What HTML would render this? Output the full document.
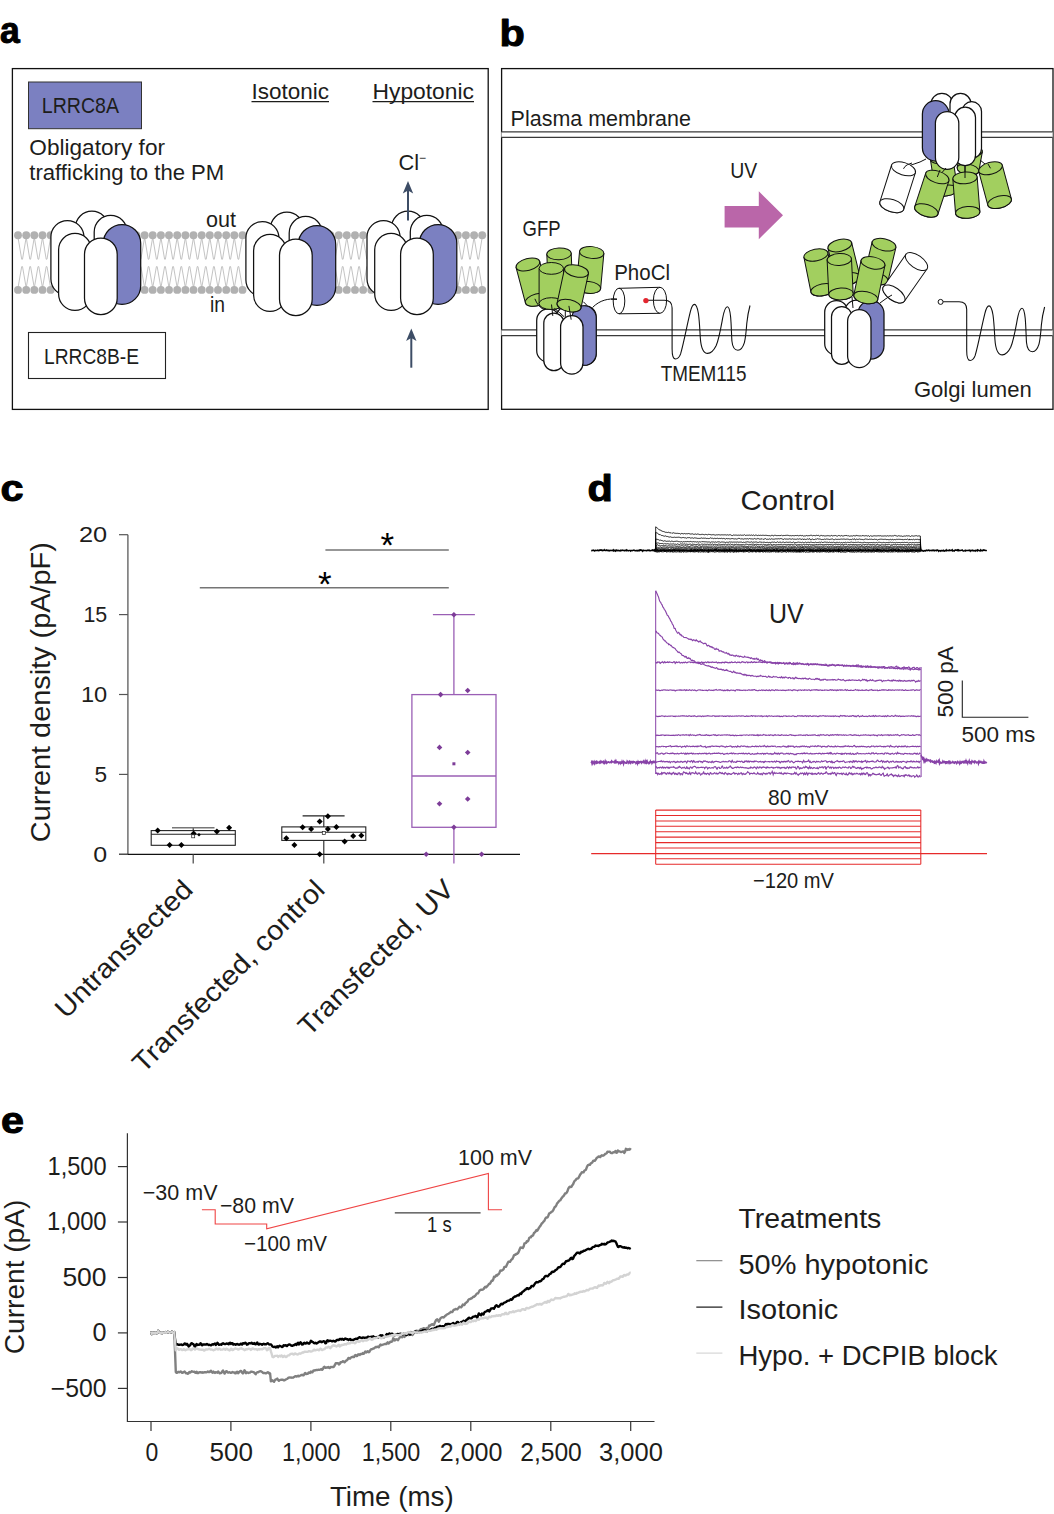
<!DOCTYPE html>
<html lang="en"><head><meta charset="utf-8"><title>Figure</title>
<style>
html,body{margin:0;padding:0;background:#fff;}
svg{display:block;}
text{font-family:"Liberation Sans",sans-serif;}
</style></head><body>
<svg width="1054" height="1514" viewBox="0 0 1054 1514">
<rect width="1054" height="1514" fill="#fff"/>
<text transform="translate(0.0 43.2) scale(0.96 1)" font-size="37" font-weight="bold" fill="#000" stroke="#000" stroke-width="1.0" stroke-linejoin="round">a</text>
<text transform="translate(499.6 46.0) scale(1.12 1)" font-size="37" font-weight="bold" fill="#000" stroke="#000" stroke-width="1.0" stroke-linejoin="round">b</text>
<text transform="translate(0.6 500.7) scale(1.12 1)" font-size="37" font-weight="bold" fill="#000" stroke="#000" stroke-width="1.0" stroke-linejoin="round">c</text>
<text transform="translate(587.6 500.8) scale(1.12 1)" font-size="37" font-weight="bold" fill="#000" stroke="#000" stroke-width="1.0" stroke-linejoin="round">d</text>
<text transform="translate(1.0 1133.1) scale(1.12 1)" font-size="37" font-weight="bold" fill="#000" stroke="#000" stroke-width="1.0" stroke-linejoin="round">e</text>
<g id="panelA">
<rect x="12.4" y="68.6" width="475.8" height="340.8" fill="#fff" stroke="#111" stroke-width="1.3"/>
<polyline points="18.0,237.3 21.7,259.2 22.5,259.2 26.2,237.3 29.8,259.2 30.6,259.2 34.3,237.3 38.0,259.2 38.8,259.2 42.5,237.3 46.2,259.2 47.0,259.2 50.6,237.3" fill="none" stroke="#bcbcbc" stroke-width="0.9"/>
<polyline points="18.0,287.9 21.7,266.6 22.5,266.6 26.2,287.9 29.8,266.6 30.6,266.6 34.3,287.9 38.0,266.6 38.8,266.6 42.5,287.9 46.2,266.6 47.0,266.6 50.6,287.9" fill="none" stroke="#bcbcbc" stroke-width="0.9"/>
<circle cx="18.0" cy="235.3" r="3.95" fill="#b1b1b1"/>
<circle cx="18.0" cy="289.9" r="3.95" fill="#b1b1b1"/>
<circle cx="26.2" cy="235.3" r="3.95" fill="#b1b1b1"/>
<circle cx="26.2" cy="289.9" r="3.95" fill="#b1b1b1"/>
<circle cx="34.3" cy="235.3" r="3.95" fill="#b1b1b1"/>
<circle cx="34.3" cy="289.9" r="3.95" fill="#b1b1b1"/>
<circle cx="42.5" cy="235.3" r="3.95" fill="#b1b1b1"/>
<circle cx="42.5" cy="289.9" r="3.95" fill="#b1b1b1"/>
<circle cx="50.6" cy="235.3" r="3.95" fill="#b1b1b1"/>
<circle cx="50.6" cy="289.9" r="3.95" fill="#b1b1b1"/>
<polyline points="136.4,237.3 140.1,259.2 140.9,259.2 144.6,237.3 148.2,259.2 149.0,259.2 152.7,237.3 156.4,259.2 157.2,259.2 160.9,237.3 164.6,259.2 165.4,259.2 169.0,237.3 172.7,259.2 173.5,259.2 177.2,237.3 180.9,259.2 181.7,259.2 185.4,237.3 189.0,259.2 189.8,259.2 193.5,237.3 197.2,259.2 198.0,259.2 201.7,237.3 205.4,259.2 206.2,259.2 209.8,237.3 213.5,259.2 214.3,259.2 218.0,237.3 221.7,259.2 222.5,259.2 226.2,237.3 229.8,259.2 230.6,259.2 234.3,237.3 238.0,259.2 238.8,259.2 242.5,237.3" fill="none" stroke="#bcbcbc" stroke-width="0.9"/>
<polyline points="136.4,287.9 140.1,266.6 140.9,266.6 144.6,287.9 148.2,266.6 149.0,266.6 152.7,287.9 156.4,266.6 157.2,266.6 160.9,287.9 164.6,266.6 165.4,266.6 169.0,287.9 172.7,266.6 173.5,266.6 177.2,287.9 180.9,266.6 181.7,266.6 185.4,287.9 189.0,266.6 189.8,266.6 193.5,287.9 197.2,266.6 198.0,266.6 201.7,287.9 205.4,266.6 206.2,266.6 209.8,287.9 213.5,266.6 214.3,266.6 218.0,287.9 221.7,266.6 222.5,266.6 226.2,287.9 229.8,266.6 230.6,266.6 234.3,287.9 238.0,266.6 238.8,266.6 242.5,287.9" fill="none" stroke="#bcbcbc" stroke-width="0.9"/>
<circle cx="136.4" cy="235.3" r="3.95" fill="#b1b1b1"/>
<circle cx="136.4" cy="289.9" r="3.95" fill="#b1b1b1"/>
<circle cx="144.6" cy="235.3" r="3.95" fill="#b1b1b1"/>
<circle cx="144.6" cy="289.9" r="3.95" fill="#b1b1b1"/>
<circle cx="152.7" cy="235.3" r="3.95" fill="#b1b1b1"/>
<circle cx="152.7" cy="289.9" r="3.95" fill="#b1b1b1"/>
<circle cx="160.9" cy="235.3" r="3.95" fill="#b1b1b1"/>
<circle cx="160.9" cy="289.9" r="3.95" fill="#b1b1b1"/>
<circle cx="169.0" cy="235.3" r="3.95" fill="#b1b1b1"/>
<circle cx="169.0" cy="289.9" r="3.95" fill="#b1b1b1"/>
<circle cx="177.2" cy="235.3" r="3.95" fill="#b1b1b1"/>
<circle cx="177.2" cy="289.9" r="3.95" fill="#b1b1b1"/>
<circle cx="185.4" cy="235.3" r="3.95" fill="#b1b1b1"/>
<circle cx="185.4" cy="289.9" r="3.95" fill="#b1b1b1"/>
<circle cx="193.5" cy="235.3" r="3.95" fill="#b1b1b1"/>
<circle cx="193.5" cy="289.9" r="3.95" fill="#b1b1b1"/>
<circle cx="201.7" cy="235.3" r="3.95" fill="#b1b1b1"/>
<circle cx="201.7" cy="289.9" r="3.95" fill="#b1b1b1"/>
<circle cx="209.8" cy="235.3" r="3.95" fill="#b1b1b1"/>
<circle cx="209.8" cy="289.9" r="3.95" fill="#b1b1b1"/>
<circle cx="218.0" cy="235.3" r="3.95" fill="#b1b1b1"/>
<circle cx="218.0" cy="289.9" r="3.95" fill="#b1b1b1"/>
<circle cx="226.2" cy="235.3" r="3.95" fill="#b1b1b1"/>
<circle cx="226.2" cy="289.9" r="3.95" fill="#b1b1b1"/>
<circle cx="234.3" cy="235.3" r="3.95" fill="#b1b1b1"/>
<circle cx="234.3" cy="289.9" r="3.95" fill="#b1b1b1"/>
<circle cx="242.5" cy="235.3" r="3.95" fill="#b1b1b1"/>
<circle cx="242.5" cy="289.9" r="3.95" fill="#b1b1b1"/>
<polyline points="330.5,237.3 334.2,259.2 335.0,259.2 338.7,237.3 342.3,259.2 343.1,259.2 346.8,237.3 350.5,259.2 351.3,259.2 355.0,237.3 358.7,259.2 359.5,259.2 363.1,237.3 366.8,259.2 367.6,259.2 371.3,237.3" fill="none" stroke="#bcbcbc" stroke-width="0.9"/>
<polyline points="330.5,287.9 334.2,266.6 335.0,266.6 338.7,287.9 342.3,266.6 343.1,266.6 346.8,287.9 350.5,266.6 351.3,266.6 355.0,287.9 358.7,266.6 359.5,266.6 363.1,287.9 366.8,266.6 367.6,266.6 371.3,287.9" fill="none" stroke="#bcbcbc" stroke-width="0.9"/>
<circle cx="330.5" cy="235.3" r="3.95" fill="#b1b1b1"/>
<circle cx="330.5" cy="289.9" r="3.95" fill="#b1b1b1"/>
<circle cx="338.7" cy="235.3" r="3.95" fill="#b1b1b1"/>
<circle cx="338.7" cy="289.9" r="3.95" fill="#b1b1b1"/>
<circle cx="346.8" cy="235.3" r="3.95" fill="#b1b1b1"/>
<circle cx="346.8" cy="289.9" r="3.95" fill="#b1b1b1"/>
<circle cx="355.0" cy="235.3" r="3.95" fill="#b1b1b1"/>
<circle cx="355.0" cy="289.9" r="3.95" fill="#b1b1b1"/>
<circle cx="363.1" cy="235.3" r="3.95" fill="#b1b1b1"/>
<circle cx="363.1" cy="289.9" r="3.95" fill="#b1b1b1"/>
<circle cx="371.3" cy="235.3" r="3.95" fill="#b1b1b1"/>
<circle cx="371.3" cy="289.9" r="3.95" fill="#b1b1b1"/>
<polyline points="449.6,237.3 453.3,259.2 454.1,259.2 457.8,237.3 461.4,259.2 462.2,259.2 465.9,237.3 469.6,259.2 470.4,259.2 474.1,237.3 477.8,259.2 478.6,259.2 482.2,237.3" fill="none" stroke="#bcbcbc" stroke-width="0.9"/>
<polyline points="449.6,287.9 453.3,266.6 454.1,266.6 457.8,287.9 461.4,266.6 462.2,266.6 465.9,287.9 469.6,266.6 470.4,266.6 474.1,287.9 477.8,266.6 478.6,266.6 482.2,287.9" fill="none" stroke="#bcbcbc" stroke-width="0.9"/>
<circle cx="449.6" cy="235.3" r="3.95" fill="#b1b1b1"/>
<circle cx="449.6" cy="289.9" r="3.95" fill="#b1b1b1"/>
<circle cx="457.8" cy="235.3" r="3.95" fill="#b1b1b1"/>
<circle cx="457.8" cy="289.9" r="3.95" fill="#b1b1b1"/>
<circle cx="465.9" cy="235.3" r="3.95" fill="#b1b1b1"/>
<circle cx="465.9" cy="289.9" r="3.95" fill="#b1b1b1"/>
<circle cx="474.1" cy="235.3" r="3.95" fill="#b1b1b1"/>
<circle cx="474.1" cy="289.9" r="3.95" fill="#b1b1b1"/>
<circle cx="482.2" cy="235.3" r="3.95" fill="#b1b1b1"/>
<circle cx="482.2" cy="289.9" r="3.95" fill="#b1b1b1"/>
<rect x="75.4" y="211.2" width="33.0" height="78.8" rx="16.5" ry="16.5" fill="#fff" stroke="#111" stroke-width="1.25"/>
<rect x="50.9" y="220.6" width="33.0" height="74.9" rx="16.5" ry="16.5" fill="#fff" stroke="#111" stroke-width="1.25"/>
<rect x="94.2" y="215.4" width="33.0" height="79.6" rx="16.5" ry="16.5" fill="#fff" stroke="#111" stroke-width="1.25"/>
<rect x="103.3" y="224.5" width="37.4" height="79.9" rx="18.7" ry="18.7" fill="#7b80c1" stroke="#111" stroke-width="1.25"/>
<rect x="58.6" y="233.4" width="32.8" height="77.0" rx="16.4" ry="16.4" fill="#fff" stroke="#111" stroke-width="1.25"/>
<rect x="84.5" y="238.0" width="32.7" height="76.5" rx="16.3" ry="16.3" fill="#fff" stroke="#111" stroke-width="1.25"/>
<rect x="270.4" y="212.2" width="33.0" height="78.8" rx="16.5" ry="16.5" fill="#fff" stroke="#111" stroke-width="1.25"/>
<rect x="245.9" y="221.6" width="33.0" height="74.9" rx="16.5" ry="16.5" fill="#fff" stroke="#111" stroke-width="1.25"/>
<rect x="289.2" y="216.4" width="33.0" height="79.6" rx="16.5" ry="16.5" fill="#fff" stroke="#111" stroke-width="1.25"/>
<rect x="298.3" y="225.5" width="37.4" height="79.9" rx="18.7" ry="18.7" fill="#7b80c1" stroke="#111" stroke-width="1.25"/>
<rect x="253.6" y="234.4" width="32.8" height="77.0" rx="16.4" ry="16.4" fill="#fff" stroke="#111" stroke-width="1.25"/>
<rect x="279.5" y="239.0" width="32.7" height="76.5" rx="16.3" ry="16.3" fill="#fff" stroke="#111" stroke-width="1.25"/>
<rect x="391.5" y="211.2" width="33.0" height="78.8" rx="16.5" ry="16.5" fill="#fff" stroke="#111" stroke-width="1.25"/>
<rect x="367.0" y="220.6" width="33.0" height="74.9" rx="16.5" ry="16.5" fill="#fff" stroke="#111" stroke-width="1.25"/>
<rect x="410.3" y="215.4" width="33.0" height="79.6" rx="16.5" ry="16.5" fill="#fff" stroke="#111" stroke-width="1.25"/>
<rect x="419.4" y="224.5" width="37.4" height="79.9" rx="18.7" ry="18.7" fill="#7b80c1" stroke="#111" stroke-width="1.25"/>
<rect x="374.7" y="233.4" width="32.8" height="77.0" rx="16.4" ry="16.4" fill="#fff" stroke="#111" stroke-width="1.25"/>
<rect x="400.6" y="238.0" width="32.7" height="76.5" rx="16.3" ry="16.3" fill="#fff" stroke="#111" stroke-width="1.25"/>
<rect x="28.5" y="82" width="113" height="46.7" fill="#7b80c1" stroke="#333" stroke-width="1"/>
<text x="41.8" y="113.3" font-size="21.5" textLength="77.2" lengthAdjust="spacingAndGlyphs" fill="#1d1d1b" >LRRC8A</text>
<text x="29.3" y="154.6" font-size="21.8" textLength="135.7" lengthAdjust="spacingAndGlyphs" fill="#1d1d1b" >Obligatory for</text>
<text x="29.3" y="180.0" font-size="21.8" textLength="195.0" lengthAdjust="spacingAndGlyphs" fill="#1d1d1b" >trafficking to the PM</text>
<text x="251.5" y="98.5" font-size="21.8" textLength="77.5" lengthAdjust="spacingAndGlyphs" fill="#1d1d1b" >Isotonic</text>
<line x1="251.5" y1="101.6" x2="329" y2="101.6" stroke="#1d1d1b" stroke-width="1.2"/>
<text x="372.5" y="98.5" font-size="21.8" textLength="101.5" lengthAdjust="spacingAndGlyphs" fill="#1d1d1b" >Hypotonic</text>
<line x1="372.5" y1="101.6" x2="474" y2="101.6" stroke="#1d1d1b" stroke-width="1.2"/>
<text x="398.5" y="170" font-size="21.8" fill="#1d1d1b">Cl<tspan font-size="12" dy="-8">−</tspan></text>
<text x="206.0" y="226.5" font-size="21.8" textLength="30.0" lengthAdjust="spacingAndGlyphs" fill="#1d1d1b" >out</text>
<text x="210.0" y="312.2" font-size="21.8" textLength="15.0" lengthAdjust="spacingAndGlyphs" fill="#1d1d1b" >in</text>
<rect x="28.5" y="332.5" width="137" height="46" fill="#fff" stroke="#222" stroke-width="1.1"/>
<text x="44.0" y="363.5" font-size="21.8" textLength="95.0" lengthAdjust="spacingAndGlyphs" fill="#1d1d1b" >LRRC8B-E</text>
<line x1="408.0" y1="188" x2="408.0" y2="220.5" stroke="#3d4d66" stroke-width="2"/>
<path d="M408.0 181 L413.2 193.5 L408.0 190.5 L402.8 193.5 Z" fill="#3d4d66"/>
<line x1="411.3" y1="335.5" x2="411.3" y2="367.7" stroke="#3d4d66" stroke-width="2"/>
<path d="M411.3 328.5 L416.5 341.0 L411.3 338.0 L406.1 341.0 Z" fill="#3d4d66"/>
</g>
<g id="panelB">
<rect x="501.6" y="68.6" width="551.4" height="340.7" fill="#fff" stroke="#111" stroke-width="1.3"/>
<rect x="501.4" y="131.9" width="551.2" height="5.400000000000006" fill="#fff" stroke="none"/>
<line x1="501.4" y1="131.9" x2="1052.6" y2="131.9" stroke="#3a3a3a" stroke-width="1.35"/>
<line x1="501.4" y1="137.3" x2="1052.6" y2="137.3" stroke="#3a3a3a" stroke-width="1.35"/>
<rect x="501.4" y="329.8" width="551.2" height="5.800000000000011" fill="#fff" stroke="none"/>
<line x1="501.4" y1="329.8" x2="1052.6" y2="329.8" stroke="#3a3a3a" stroke-width="1.35"/>
<line x1="501.4" y1="335.6" x2="1052.6" y2="335.6" stroke="#3a3a3a" stroke-width="1.35"/>
<text x="510.6" y="125.7" font-size="21.8" textLength="180.3" lengthAdjust="spacingAndGlyphs" fill="#1d1d1b" >Plasma membrane</text>
<text x="730.3" y="178.0" font-size="21.8" textLength="27.0" lengthAdjust="spacingAndGlyphs" fill="#1d1d1b" >UV</text>
<text x="522.6" y="236.0" font-size="21.8" textLength="38.0" lengthAdjust="spacingAndGlyphs" fill="#1d1d1b" >GFP</text>
<text x="614.2" y="280.4" font-size="21.8" textLength="55.8" lengthAdjust="spacingAndGlyphs" fill="#1d1d1b" >PhoCl</text>
<text x="660.7" y="380.8" font-size="21.8" textLength="85.8" lengthAdjust="spacingAndGlyphs" fill="#1d1d1b" >TMEM115</text>
<text x="913.9" y="396.8" font-size="21.8" textLength="117.8" lengthAdjust="spacingAndGlyphs" fill="#1d1d1b" >Golgi lumen</text>
<path d="M724.6 205.9 H758.8 V191.3 L783 215.2 L758.8 239.3 V227.5 H724.6 Z" fill="#ba66a9"/>
<g transform="translate(559.0 253.8) rotate(-2.5)" fill="#a2cf5f" stroke="#111" stroke-width="1.0"><path d="M-12.2 0 L-12.2 34.2 A12.2 5.9 0 0 0 12.2 34.2 L12.2 0 Z"/><ellipse cx="0" cy="34.2" rx="12.2" ry="5.9"/><ellipse cx="0" cy="0" rx="12.2" ry="5.9"/></g>
<g transform="translate(591.7 252.5) rotate(5.2)" fill="#a2cf5f" stroke="#111" stroke-width="1.0"><path d="M-12.2 0 L-12.2 35.1 A12.2 5.9 0 0 0 12.2 35.1 L12.2 0 Z"/><ellipse cx="0" cy="35.1" rx="12.2" ry="5.9"/><ellipse cx="0" cy="0" rx="12.2" ry="5.9"/></g>
<g transform="translate(527.9 264.5) rotate(-14.8)" fill="#a2cf5f" stroke="#111" stroke-width="1.0"><path d="M-12.2 0 L-12.2 36.5 A12.2 5.9 0 0 0 12.2 36.5 L12.2 0 Z"/><ellipse cx="0" cy="36.5" rx="12.2" ry="5.9"/><ellipse cx="0" cy="0" rx="12.2" ry="5.9"/></g>
<rect x="536.7" y="308.8" width="23.3" height="53.2" rx="11.6" ry="11.6" fill="#fff" stroke="#111" stroke-width="1.25"/>
<rect x="556.0" y="306.0" width="24.0" height="54.0" rx="12.0" ry="12.0" fill="#fff" stroke="#111" stroke-width="1.25"/>
<rect x="574.0" y="305.8" width="22.2" height="59.2" rx="11.1" ry="11.1" fill="#7b80c1" stroke="#111" stroke-width="1.25"/>
<rect x="572" y="305.8" width="24.2" height="59.5" rx="12" fill="#7b80c1" stroke="#111" stroke-width="1.1"/>
<rect x="543.8" y="313.0" width="20.2" height="57.7" rx="10.1" ry="10.1" fill="#fff" stroke="#111" stroke-width="1.25"/>
<rect x="560.6" y="315.7" width="22.4" height="58.5" rx="11.2" ry="11.2" fill="#fff" stroke="#111" stroke-width="1.25"/>
<g transform="translate(551.3 268.4) rotate(0.0)" fill="#a2cf5f" stroke="#111" stroke-width="1.0"><path d="M-12.2 0 L-12.2 35.2 A12.2 5.9 0 0 0 12.2 35.2 L12.2 0 Z"/><ellipse cx="0" cy="35.2" rx="12.2" ry="5.9"/><ellipse cx="0" cy="0" rx="12.2" ry="5.9"/></g>
<g transform="translate(576.5 271.0) rotate(12.2)" fill="#a2cf5f" stroke="#111" stroke-width="1.0"><path d="M-12.2 0 L-12.2 35.4 A12.2 5.9 0 0 0 12.2 35.4 L12.2 0 Z"/><ellipse cx="0" cy="35.4" rx="12.2" ry="5.9"/><ellipse cx="0" cy="0" rx="12.2" ry="5.9"/></g>
<path d="M534.9 298.8 C536.5 303 539.5 308 544.4 309.7 M551.5 304.5 L552.8 315.9 M568.9 305.9 L571.2 319.7 M554.4 308.3 C558 311 561 314 564.3 316.9 M565.3 310.2 V316.9 M583.3 301.7 L587.1 305.5" fill="none" stroke="#111" stroke-width="1"/>
<path d="M592.5 307.5 C600 300 608 298.5 617 299" fill="none" stroke="#111" stroke-width="1"/>
<g fill="#fff" stroke="#111" stroke-width="1"><path d="M619 288.3 L660 287.3 M619 313.8 L660 313.3" fill="none"/><ellipse cx="660" cy="300.3" rx="6.6" ry="13"/><ellipse cx="619" cy="301" rx="5.8" ry="12.8" fill="none"/></g>
<path d="M611 299.2 L617 299.4" stroke="#111" stroke-width="1"/>
<path d="M646 300.3 L664.5 300.3 C669.5 300.3 672.1 303 672.1 308 L672.1 349 C672.1 356 673.5 359 675.5 359 C678 359 679.5 357 680.6 353.9 C684 342 687 325 690.3 311.9 C691.5 307 693 304.4 694.4 304.4 C696 304.4 697.5 308 698.4 313.5 C699.5 321 699.8 330 700.3 337.7 C701 348 704 353.4 707.7 353.4 C711 353.4 714 350 716.1 345.8 C719 339 721 327 722.6 318.4 C724 311 725.5 306.8 727.4 306.8 C729 306.8 730 311 730.6 316.8 C731.3 324 731.4 333 731.9 341 C732.5 347 735 350.2 737.9 350.2 C740.5 350.2 743 347 744.4 342.6 C745.8 337 746.3 330 746.8 323.2 C747.5 316 748.8 310 750 305.5" fill="none" stroke="#111" stroke-width="1.1"/>
<circle cx="645.9" cy="300.6" r="2.7" fill="#e3262f"/>
<g transform="translate(839.8 245.5) rotate(-13.8)" fill="#a2cf5f" stroke="#111" stroke-width="1.0"><path d="M-12.2 0 L-12.2 34.5 A12.2 5.9 0 0 0 12.2 34.5 L12.2 0 Z"/><ellipse cx="0" cy="34.5" rx="12.2" ry="5.9"/><ellipse cx="0" cy="0" rx="12.2" ry="5.9"/></g>
<g transform="translate(884.0 244.7) rotate(13.3)" fill="#a2cf5f" stroke="#111" stroke-width="1.0"><path d="M-12.2 0 L-12.2 34.7 A12.2 5.9 0 0 0 12.2 34.7 L12.2 0 Z"/><ellipse cx="0" cy="34.7" rx="12.2" ry="5.9"/><ellipse cx="0" cy="0" rx="12.2" ry="5.9"/></g>
<g transform="translate(815.9 255.0) rotate(-11.4)" fill="#a2cf5f" stroke="#111" stroke-width="1.0"><path d="M-12.2 0 L-12.2 35.4 A12.2 5.9 0 0 0 12.2 35.4 L12.2 0 Z"/><ellipse cx="0" cy="35.4" rx="12.2" ry="5.9"/><ellipse cx="0" cy="0" rx="12.2" ry="5.9"/></g>
<g transform="translate(916.5 261.6) rotate(34.9)" fill="#fff" stroke="#111" stroke-width="1.0"><path d="M-12.8 0 L-12.8 39.5 A12.8 6.4 0 0 0 12.8 39.5 L12.8 0 Z"/><ellipse cx="0" cy="39.5" rx="12.8" ry="6.4"/><ellipse cx="0" cy="0" rx="12.8" ry="6.4"/></g>
<rect x="824.7" y="300.6" width="23.3" height="54.4" rx="11.6" ry="11.6" fill="#fff" stroke="#111" stroke-width="1.25"/>
<rect x="845.0" y="300.0" width="23.0" height="52.0" rx="11.5" ry="11.5" fill="#fff" stroke="#111" stroke-width="1.25"/>
<rect x="858.0" y="300.6" width="26.0" height="58.4" rx="13.0" ry="13.0" fill="#7b80c1" stroke="#111" stroke-width="1.25"/>
<rect x="831.5" y="306.6" width="20.5" height="57.7" rx="10.2" ry="10.2" fill="#fff" stroke="#111" stroke-width="1.25"/>
<rect x="847.6" y="309.7" width="23.4" height="57.9" rx="11.7" ry="11.7" fill="#fff" stroke="#111" stroke-width="1.25"/>
<path d="M853 308 L852 297 M880 303 C884 300 888 297 892 295" fill="none" stroke="#111" stroke-width="1"/>
<g transform="translate(839.3 259.5) rotate(-2.8)" fill="#a2cf5f" stroke="#111" stroke-width="1.0"><path d="M-12.2 0 L-12.2 34.5 A12.2 5.9 0 0 0 12.2 34.5 L12.2 0 Z"/><ellipse cx="0" cy="34.5" rx="12.2" ry="5.9"/><ellipse cx="0" cy="0" rx="12.2" ry="5.9"/></g>
<g transform="translate(873.0 262.9) rotate(11.8)" fill="#a2cf5f" stroke="#111" stroke-width="1.0"><path d="M-12.2 0 L-12.2 35.3 A12.2 5.9 0 0 0 12.2 35.3 L12.2 0 Z"/><ellipse cx="0" cy="35.3" rx="12.2" ry="5.9"/><ellipse cx="0" cy="0" rx="12.2" ry="5.9"/></g>
<path transform="translate(294.6 1.5)" d="M648.5 300.3 L664.5 300.3 C669.5 300.3 672.1 303 672.1 308 L672.1 349 C672.1 356 673.5 359 675.5 359 C678 359 679.5 357 680.6 353.9 C684 342 687 325 690.3 311.9 C691.5 307 693 304.4 694.4 304.4 C696 304.4 697.5 308 698.4 313.5 C699.5 321 699.8 330 700.3 337.7 C701 348 704 353.4 707.7 353.4 C711 353.4 714 350 716.1 345.8 C719 339 721 327 722.6 318.4 C724 311 725.5 306.8 727.4 306.8 C729 306.8 730 311 730.6 316.8 C731.3 324 731.4 333 731.9 341 C732.5 347 735 350.2 737.9 350.2 C740.5 350.2 743 347 744.4 342.6 C745.8 337 746.3 330 746.8 323.2 C747.5 316 748.8 310 750 305.5" fill="none" stroke="#111" stroke-width="1.1"/>
<circle cx="940.6" cy="301.9" r="2.5" fill="#fff" stroke="#111" stroke-width="1"/>
<g transform="translate(941.5 158.0) rotate(-8.7)" fill="#a2cf5f" stroke="#111" stroke-width="1.0"><path d="M-11.2 0 L-11.2 32.9 A11.2 5.4 0 0 0 11.2 32.9 L11.2 0 Z"/><ellipse cx="0" cy="32.9" rx="11.2" ry="5.4"/><ellipse cx="0" cy="0" rx="11.2" ry="5.4"/></g>
<g transform="translate(971.5 150.0) rotate(10.2)" fill="#a2cf5f" stroke="#111" stroke-width="1.0"><path d="M-11 0 L-11 19.8 A11 5.3 0 0 0 11 19.8 L11 0 Z"/><ellipse cx="0" cy="19.8" rx="11" ry="5.3"/><ellipse cx="0" cy="0" rx="11" ry="5.3"/></g>
<rect x="930.8" y="93.4" width="22.2" height="56.6" rx="11.1" ry="11.1" fill="#fff" stroke="#111" stroke-width="1.25"/>
<rect x="950.0" y="93.4" width="21.0" height="56.6" rx="10.5" ry="10.5" fill="#fff" stroke="#111" stroke-width="1.25"/>
<rect x="962.0" y="101.7" width="19.5" height="56.7" rx="9.8" ry="9.8" fill="#fff" stroke="#111" stroke-width="1.25"/>
<rect x="954.7" y="107.2" width="20.8" height="58.5" rx="10.4" ry="10.4" fill="#fff" stroke="#111" stroke-width="1.25"/>
<rect x="922.4" y="100.7" width="26.6" height="60.3" rx="13.3" ry="13.3" fill="#7b80c1" stroke="#111" stroke-width="1.25"/>
<rect x="935.4" y="111.6" width="23.4" height="57.7" rx="11.7" ry="11.7" fill="#fff" stroke="#111" stroke-width="1.25"/>
<path d="M926 159 C918 164 910 164 903 169 M946 168 L938 177 M965 166 L965 178 M980 160 L990 168" fill="none" stroke="#111" stroke-width="1"/>
<g transform="translate(903.5 168.8) rotate(17.6)" fill="#fff" stroke="#111" stroke-width="1.0"><path d="M-12.5 0 L-12.5 38.7 A12.5 6.2 0 0 0 12.5 38.7 L12.5 0 Z"/><ellipse cx="0" cy="38.7" rx="12.5" ry="6.2"/><ellipse cx="0" cy="0" rx="12.5" ry="6.2"/></g>
<g transform="translate(937.3 177.0) rotate(18.2)" fill="#a2cf5f" stroke="#111" stroke-width="1.0"><path d="M-12.2 0 L-12.2 35.2 A12.2 5.9 0 0 0 12.2 35.2 L12.2 0 Z"/><ellipse cx="0" cy="35.2" rx="12.2" ry="5.9"/><ellipse cx="0" cy="0" rx="12.2" ry="5.9"/></g>
<g transform="translate(965.0 177.9) rotate(-4.5)" fill="#a2cf5f" stroke="#111" stroke-width="1.0"><path d="M-12.2 0 L-12.2 34.6 A12.2 5.9 0 0 0 12.2 34.6 L12.2 0 Z"/><ellipse cx="0" cy="34.6" rx="12.2" ry="5.9"/><ellipse cx="0" cy="0" rx="12.2" ry="5.9"/></g>
<g transform="translate(990.5 168.3) rotate(-15.1)" fill="#a2cf5f" stroke="#111" stroke-width="1.0"><path d="M-12.2 0 L-12.2 34.9 A12.2 5.9 0 0 0 12.2 34.9 L12.2 0 Z"/><ellipse cx="0" cy="34.9" rx="12.2" ry="5.9"/><ellipse cx="0" cy="0" rx="12.2" ry="5.9"/></g>
<path d="M903.5 168.8 C905 165 909 164 912 163 M937.3 177 L940 170 M965 178 L965 166 M990.5 168.3 L988 164" fill="none" stroke="#111" stroke-width="1"/>
</g>
<g id="panelC">
<path d="M127.9 534.7 V854.3" fill="none" stroke="#666" stroke-width="1.4"/>
<path d="M119 854.3 H520" fill="none" stroke="#111" stroke-width="1.3"/>
<line x1="119" y1="854.3" x2="127.9" y2="854.3" stroke="#555" stroke-width="1.2"/>
<text x="107.2" y="861.9" font-size="22.8" textLength="13.9" lengthAdjust="spacingAndGlyphs" text-anchor="end" fill="#1d1d1b" >0</text>
<line x1="119" y1="774.4" x2="127.9" y2="774.4" stroke="#555" stroke-width="1.2"/>
<text x="107.2" y="782.0" font-size="22.8" textLength="12.6" lengthAdjust="spacingAndGlyphs" text-anchor="end" fill="#1d1d1b" >5</text>
<line x1="119" y1="694.5" x2="127.9" y2="694.5" stroke="#555" stroke-width="1.2"/>
<text x="107.2" y="702.1" font-size="22.8" textLength="26.3" lengthAdjust="spacingAndGlyphs" text-anchor="end" fill="#1d1d1b" >10</text>
<line x1="119" y1="614.6" x2="127.9" y2="614.6" stroke="#555" stroke-width="1.2"/>
<text x="107.2" y="622.2" font-size="22.8" textLength="23.8" lengthAdjust="spacingAndGlyphs" text-anchor="end" fill="#1d1d1b" >15</text>
<line x1="119" y1="534.7" x2="127.9" y2="534.7" stroke="#555" stroke-width="1.2"/>
<text x="107.2" y="542.3" font-size="22.8" textLength="28.2" lengthAdjust="spacingAndGlyphs" text-anchor="end" fill="#1d1d1b" >20</text>
<line x1="193.2" y1="854.3" x2="193.2" y2="863.6" stroke="#444" stroke-width="1.2"/>
<line x1="323.8" y1="854.3" x2="323.8" y2="863.6" stroke="#444" stroke-width="1.2"/>
<text transform="translate(50.4 842.2) rotate(-90)" font-size="27.3" textLength="300.0" lengthAdjust="spacingAndGlyphs" fill="#1d1d1b" >Current density (pA/pF)</text>
<line x1="325.4" y1="549.9" x2="448.8" y2="549.9" stroke="#757575" stroke-width="1.5"/>
<line x1="199.8" y1="587.8" x2="448.8" y2="587.8" stroke="#757575" stroke-width="1.5"/>
<text x="387.3" y="557.4" font-size="35" text-anchor="middle" fill="#000" >*</text>
<text x="324.7" y="595.5" font-size="35" text-anchor="middle" fill="#000" >*</text>
<g fill="none" stroke="#222" stroke-width="1.1"><rect x="151.2" y="830.6" width="84.1" height="14.7" fill="#fff"/><line x1="151.2" y1="834.2" x2="235.3" y2="834.2"/><line x1="193.2" y1="827.7" x2="193.2" y2="830.6"/></g>
<line x1="172" y1="827.8" x2="214.5" y2="827.8" stroke="#777" stroke-width="1.6"/>
<path d="M157.7 827.6 L160.7 830.6 L157.7 833.6 L154.7 830.6 Z" fill="#000"/>
<path d="M169.6 841.9 L172.6 844.9 L169.6 847.9 L166.6 844.9 Z" fill="#000"/>
<path d="M181.4 841.9 L184.4 844.9 L181.4 847.9 L178.4 844.9 Z" fill="#000"/>
<path d="M193.6 830.4 L196.6 833.4 L193.6 836.4 L190.6 833.4 Z" fill="#000"/>
<path d="M216.9 828.4 L219.9 831.4 L216.9 834.4 L213.9 831.4 Z" fill="#000"/>
<path d="M229.1 824.7 L232.1 827.7 L229.1 830.7 L226.1 827.7 Z" fill="#000"/>
<path d="M199.0 832.9 L200.8 834.7 L199.0 836.5 L197.2 834.7 Z" fill="#000"/>
<rect x="191.7" y="834.8" width="3" height="3" fill="#fff" stroke="#222" stroke-width="0.7"/>
<g fill="none" stroke="#222" stroke-width="1.1"><path d="M323.8 815.9 V826.9 M323.8 840.4 V854.3 M302.6 815.9 H344.6"/><rect x="281.8" y="826.9" width="84" height="13.5" fill="#fff"/><line x1="281.8" y1="832.2" x2="365.8" y2="832.2"/></g>
<path d="M286.3 835.3 L289.3 838.3 L286.3 841.3 L283.3 838.3 Z" fill="#000"/>
<path d="M294.4 841.9 L297.4 844.9 L294.4 847.9 L291.4 844.9 Z" fill="#000"/>
<path d="M302.6 824.3 L305.6 827.3 L302.6 830.3 L299.6 827.3 Z" fill="#000"/>
<path d="M311.1 826.0 L314.1 829.0 L311.1 832.0 L308.1 829.0 Z" fill="#000"/>
<path d="M319.7 818.6 L322.7 821.6 L319.7 824.6 L316.7 821.6 Z" fill="#000"/>
<path d="M327.9 813.3 L330.9 816.3 L327.9 819.3 L324.9 816.3 Z" fill="#000"/>
<path d="M327.9 826.0 L330.9 829.0 L327.9 832.0 L324.9 829.0 Z" fill="#000"/>
<path d="M336.4 823.9 L339.4 826.9 L336.4 829.9 L333.4 826.9 Z" fill="#000"/>
<path d="M344.6 838.6 L347.6 841.6 L344.6 844.6 L341.6 841.6 Z" fill="#000"/>
<path d="M353.2 832.9 L356.2 835.9 L353.2 838.9 L350.2 835.9 Z" fill="#000"/>
<path d="M361.3 832.5 L364.3 835.5 L361.3 838.5 L358.3 835.5 Z" fill="#000"/>
<path d="M319.7 851.3 L322.7 854.3 L319.7 857.3 L316.7 854.3 Z" fill="#000"/>
<rect x="322.3" y="831.5" width="3" height="3" fill="#fff" stroke="#222" stroke-width="0.7"/>
<g fill="none" stroke="#9a5fb5" stroke-width="1.3"><path d="M453.9 614.7 V694.6 M453.9 827.3 V863.6 M432.9 614.7 H474.9"/><rect x="411.9" y="694.6" width="84.1" height="132.7" fill="#fff"/><line x1="411.9" y1="776" x2="496" y2="776"/></g>
<path d="M440.6 691.8 L443.4 694.6 L440.6 697.4 L437.8 694.6 Z" fill="#7d3c98"/>
<path d="M467.7 687.7 L470.5 690.5 L467.7 693.3 L464.9 690.5 Z" fill="#7d3c98"/>
<path d="M439.5 744.6 L442.3 747.4 L439.5 750.2 L436.7 747.4 Z" fill="#7d3c98"/>
<path d="M467.7 749.7 L470.5 752.5 L467.7 755.3 L464.9 752.5 Z" fill="#7d3c98"/>
<path d="M439.5 800.9 L442.3 803.7 L439.5 806.5 L436.7 803.7 Z" fill="#7d3c98"/>
<path d="M467.7 796.2 L470.5 799.0 L467.7 801.8 L464.9 799.0 Z" fill="#7d3c98"/>
<path d="M453.9 824.5 L456.7 827.3 L453.9 830.1 L451.1 827.3 Z" fill="#7d3c98"/>
<path d="M453.9 611.9 L456.7 614.7 L453.9 617.5 L451.1 614.7 Z" fill="#7d3c98"/>
<path d="M426.2 851.5 L429.0 854.3 L426.2 857.1 L423.4 854.3 Z" fill="#7d3c98"/>
<path d="M481.6 851.5 L484.4 854.3 L481.6 857.1 L478.8 854.3 Z" fill="#7d3c98"/>
<rect x="452.4" y="762.3" width="3" height="3" fill="#7d3c98"/>
<text transform="translate(194.4 891.3) rotate(-45)" font-size="27.3" textLength="181.5" lengthAdjust="spacingAndGlyphs" text-anchor="end" fill="#1d1d1b" >Untransfected</text>
<text transform="translate(326.4 891.3) rotate(-45)" font-size="27.3" textLength="258.5" lengthAdjust="spacingAndGlyphs" text-anchor="end" fill="#1d1d1b" >Transfected, control</text>
<text transform="translate(455.5 891.0) rotate(-45)" font-size="27.3" textLength="207.0" lengthAdjust="spacingAndGlyphs" text-anchor="end" fill="#1d1d1b" >Transfected, UV</text>
</g>
<g id="panelD">
<text x="740.5" y="510.4" font-size="27.3" textLength="94.5" lengthAdjust="spacingAndGlyphs" fill="#1d1d1b" >Control</text>
<text x="768.9" y="622.8" font-size="27.3" textLength="34.6" lengthAdjust="spacingAndGlyphs" fill="#1d1d1b" >UV</text>
<path d="M591.2 550.5 L591.7 550.6 L592.2 550.4 L592.7 550.2 L593.2 550.4 L593.7 550.2 L594.2 550.5 L594.7 550.9 L595.2 550.4 L595.7 550.3 L596.2 550.6 L596.7 550.6 L597.2 550.5 L597.7 550.2 L598.2 550.5 L598.7 550.7 L599.2 550.1 L599.7 550.4 L600.2 549.9 L600.7 550.1 L601.2 549.9 L601.7 550.4 L602.2 550.1 L602.7 550.6 L603.2 550.5 L603.7 550.4 L604.2 549.7 L604.7 550.3 L605.2 550.5 L605.7 550.5 L606.2 550.0 L606.7 550.4 L607.2 550.2 L607.7 550.3 L608.2 550.8 L608.7 550.3 L609.2 550.5 L609.7 550.8 L610.2 550.3 L610.7 550.5 L611.2 550.5 L611.7 550.5 L612.2 550.1 L612.7 550.5 L613.2 550.9 L613.7 550.0 L614.2 550.8 L614.7 550.5 L615.2 550.3 L615.7 551.1 L616.2 550.7 L616.7 550.1 L617.2 550.5 L617.7 550.7 L618.2 550.4 L618.7 550.7 L619.2 550.5 L619.7 550.7 L620.2 550.9 L620.7 550.3 L621.2 550.6 L621.7 550.4 L622.2 550.5 L622.7 550.1 L623.2 550.3 L623.7 550.4 L624.2 550.8 L624.7 550.8 L625.2 550.1 L625.7 550.3 L626.2 550.7 L626.7 549.9 L627.2 550.4 L627.7 550.5 L628.2 550.9 L628.7 550.7 L629.2 550.4 L629.7 550.4 L630.2 550.4 L630.7 551.0 L631.2 550.4 L631.7 550.4 L632.2 550.6 L632.7 550.5 L633.2 550.4 L633.7 550.2 L634.2 550.5 L634.7 550.4 L635.2 550.8 L635.7 550.7 L636.2 550.5 L636.7 550.7 L637.2 550.4 L637.7 550.8 L638.2 550.5 L638.7 550.7 L639.2 550.1 L639.7 550.6 L640.2 550.0 L640.7 549.9 L641.2 550.4 L641.7 550.2 L642.2 550.5 L642.7 551.2 L643.2 550.3 L643.7 550.3 L644.2 550.6 L644.7 550.6 L645.2 550.4 L645.7 550.4 L646.2 550.7 L646.7 550.7 L647.2 550.2 L647.7 550.5 L648.2 550.5 L648.7 550.2 L649.2 550.6 L649.7 550.2 L650.2 550.8 L650.7 550.6 L651.2 550.5 L651.7 550.3 L652.2 550.5 L652.7 549.9 L653.2 550.2 L653.7 550.6 L654.2 549.9 L654.7 550.8 L655.2 550.0 L655.7 550.7 L656.2 550.2 L656.7 550.7 L657.2 550.5 L657.7 550.0 L658.2 550.9 L658.7 550.9 L659.2 550.5 L659.7 550.4 L660.2 550.5 L660.7 550.2 L661.2 550.8 L661.7 550.3 L662.2 550.5 L662.7 550.3 L663.2 550.3 L663.7 550.1 L664.2 550.9 L664.7 550.5 L665.2 550.8 L665.7 550.5 L666.2 550.3 L666.7 550.4 L667.2 550.3 L667.7 550.5 L668.2 550.4 L668.7 550.4 L669.2 550.1 L669.7 550.3 L670.2 551.0 L670.7 550.3 L671.2 550.2 L671.7 550.6 L672.2 550.9 L672.7 550.1 L673.2 550.4 L673.7 550.3 L674.2 550.0 L674.7 550.7 L675.2 550.5 L675.7 550.5 L676.2 550.3 L676.7 550.6 L677.2 550.3 L677.7 550.5 L678.2 550.2 L678.7 550.1 L679.2 550.9 L679.7 550.3 L680.2 550.6 L680.7 550.5 L681.2 550.4 L681.7 550.3 L682.2 550.7 L682.7 550.4 L683.2 550.5 L683.7 550.5 L684.2 550.9 L684.7 550.7 L685.2 550.6 L685.7 550.3 L686.2 550.1 L686.7 550.8 L687.2 550.8 L687.7 550.5 L688.2 550.7 L688.7 550.7 L689.2 550.7 L689.7 550.8 L690.2 550.4 L690.7 551.0 L691.2 550.1 L691.7 550.8 L692.2 550.6 L692.7 550.8 L693.2 551.1 L693.7 550.9 L694.2 550.2 L694.7 550.0 L695.2 550.7 L695.7 550.2 L696.2 550.5 L696.7 550.8 L697.2 550.0 L697.7 549.9 L698.2 550.6 L698.7 550.5 L699.2 550.4 L699.7 550.5 L700.2 550.2 L700.7 550.0 L701.2 550.5 L701.7 550.2 L702.2 550.0 L702.7 550.7 L703.2 550.5 L703.7 550.6 L704.2 550.2 L704.7 550.3 L705.2 550.2 L705.7 550.2 L706.2 550.6 L706.7 550.3 L707.2 550.6 L707.7 550.6 L708.2 551.1 L708.7 550.1 L709.2 550.8 L709.7 550.5 L710.2 550.5 L710.7 550.1 L711.2 550.4 L711.7 550.7 L712.2 550.5 L712.7 550.5 L713.2 550.4 L713.7 550.8 L714.2 550.5 L714.7 549.8 L715.2 550.3 L715.7 549.9 L716.2 549.5 L716.7 550.3 L717.2 550.9 L717.7 550.5 L718.2 550.1 L718.7 550.2 L719.2 550.8 L719.7 550.5 L720.2 550.5 L720.7 550.5 L721.2 550.5 L721.7 550.7 L722.2 550.7 L722.7 550.6 L723.2 550.2 L723.7 550.7 L724.2 550.3 L724.7 550.8 L725.2 550.1 L725.7 550.5 L726.2 550.5 L726.7 550.1 L727.2 551.0 L727.7 550.9 L728.2 550.4 L728.7 550.7 L729.2 550.6 L729.7 549.7 L730.2 550.6 L730.7 550.5 L731.2 550.5 L731.7 550.2 L732.2 550.4 L732.7 550.4 L733.2 550.9 L733.7 550.6 L734.2 550.5 L734.7 551.0 L735.2 550.3 L735.7 550.4 L736.2 550.0 L736.7 551.0 L737.2 550.8 L737.7 550.8 L738.2 550.7 L738.7 550.5 L739.2 550.6 L739.7 550.4 L740.2 550.4 L740.7 550.5 L741.2 551.0 L741.7 550.7 L742.2 550.5 L742.7 550.3 L743.2 550.3 L743.7 551.0 L744.2 550.7 L744.7 550.5 L745.2 550.4 L745.7 550.2 L746.2 550.5 L746.7 550.8 L747.2 550.4 L747.7 550.4 L748.2 550.4 L748.7 550.5 L749.2 550.0 L749.7 550.4 L750.2 550.2 L750.7 550.8 L751.2 550.3 L751.7 550.7 L752.2 551.0 L752.7 550.4 L753.2 550.3 L753.7 550.6 L754.2 550.5 L754.7 550.2 L755.2 550.6 L755.7 551.1 L756.2 550.4 L756.7 550.4 L757.2 550.2 L757.7 550.6 L758.2 550.1 L758.7 550.2 L759.2 550.9 L759.7 550.2 L760.2 550.8 L760.7 551.0 L761.2 550.6 L761.7 550.7 L762.2 551.1 L762.7 550.4 L763.2 550.3 L763.7 550.1 L764.2 550.5 L764.7 550.9 L765.2 550.8 L765.7 550.2 L766.2 550.2 L766.7 550.3 L767.2 550.6 L767.7 550.4 L768.2 550.6 L768.7 550.6 L769.2 550.4 L769.7 550.5 L770.2 550.6 L770.7 550.5 L771.2 550.7 L771.7 551.1 L772.2 550.7 L772.7 550.5 L773.2 550.0 L773.7 550.6 L774.2 549.9 L774.7 550.1 L775.2 550.8 L775.7 550.7 L776.2 550.5 L776.7 550.0 L777.2 550.4 L777.7 550.3 L778.2 550.7 L778.7 551.2 L779.2 550.6 L779.7 550.3 L780.2 550.1 L780.7 550.5 L781.2 550.4 L781.7 550.2 L782.2 550.5 L782.7 550.2 L783.2 550.8 L783.7 550.8 L784.2 550.8 L784.7 550.4 L785.2 550.7 L785.7 550.5 L786.2 550.4 L786.7 550.4 L787.2 550.1 L787.7 550.1 L788.2 550.7 L788.7 550.4 L789.2 550.6 L789.7 550.8 L790.2 550.0 L790.7 550.3 L791.2 550.6 L791.7 550.6 L792.2 550.4 L792.7 550.8 L793.2 550.6 L793.7 550.1 L794.2 550.2 L794.7 550.7 L795.2 550.6 L795.7 549.9 L796.2 550.9 L796.7 550.7 L797.2 550.9 L797.7 550.4 L798.2 550.4 L798.7 550.2 L799.2 551.3 L799.7 550.4 L800.2 551.0 L800.7 550.3 L801.2 550.5 L801.7 550.0 L802.2 550.4 L802.7 550.8 L803.2 550.1 L803.7 550.8 L804.2 550.6 L804.7 550.2 L805.2 550.3 L805.7 550.4 L806.2 550.5 L806.7 550.3 L807.2 550.3 L807.7 550.4 L808.2 550.2 L808.7 550.1 L809.2 550.5 L809.7 550.8 L810.2 550.0 L810.7 550.5 L811.2 550.3 L811.7 550.2 L812.2 550.8 L812.7 550.3 L813.2 550.9 L813.7 550.3 L814.2 550.6 L814.7 550.4 L815.2 550.3 L815.7 550.7 L816.2 550.5 L816.7 550.7 L817.2 550.5 L817.7 550.2 L818.2 550.5 L818.7 550.5 L819.2 550.8 L819.7 550.2 L820.2 550.5 L820.7 550.0 L821.2 550.7 L821.7 550.2 L822.2 550.0 L822.7 550.5 L823.2 550.8 L823.7 550.0 L824.2 550.2 L824.7 550.3 L825.2 550.2 L825.7 550.6 L826.2 550.3 L826.7 550.3 L827.2 550.7 L827.7 550.3 L828.2 550.6 L828.7 550.2 L829.2 550.1 L829.7 549.9 L830.2 551.1 L830.7 550.4 L831.2 550.6 L831.7 550.5 L832.2 550.5 L832.7 550.5 L833.2 551.1 L833.7 550.2 L834.2 550.0 L834.7 550.2 L835.2 550.1 L835.7 550.7 L836.2 550.7 L836.7 550.2 L837.2 550.1 L837.7 550.4 L838.2 550.9 L838.7 549.7 L839.2 550.7 L839.7 550.2 L840.2 550.8 L840.7 550.2 L841.2 550.4 L841.7 550.0 L842.2 550.2 L842.7 550.9 L843.2 550.7 L843.7 550.4 L844.2 550.2 L844.7 549.9 L845.2 550.4 L845.7 550.5 L846.2 550.5 L846.7 550.5 L847.2 550.2 L847.7 550.5 L848.2 550.5 L848.7 550.9 L849.2 551.1 L849.7 550.5 L850.2 550.3 L850.7 550.5 L851.2 550.3 L851.7 550.3 L852.2 550.5 L852.7 550.2 L853.2 550.7 L853.7 550.5 L854.2 550.6 L854.7 550.4 L855.2 550.3 L855.7 550.2 L856.2 550.4 L856.7 550.3 L857.2 550.6 L857.7 550.5 L858.2 550.1 L858.7 550.5 L859.2 550.1 L859.7 550.3 L860.2 550.4 L860.7 549.9 L861.2 550.5 L861.7 550.5 L862.2 550.5 L862.7 550.4 L863.2 550.4 L863.7 550.2 L864.2 550.4 L864.7 550.3 L865.2 550.5 L865.7 550.1 L866.2 550.6 L866.7 550.5 L867.2 550.5 L867.7 550.4 L868.2 550.7 L868.7 550.0 L869.2 550.6 L869.7 550.6 L870.2 550.6 L870.7 550.6 L871.2 550.3 L871.7 550.4 L872.2 550.7 L872.7 550.6 L873.2 550.6 L873.7 550.0 L874.2 550.7 L874.7 550.9 L875.2 550.8 L875.7 550.6 L876.2 550.0 L876.7 550.8 L877.2 550.5 L877.7 549.7 L878.2 550.6 L878.7 550.1 L879.2 550.1 L879.7 550.3 L880.2 550.9 L880.7 550.4 L881.2 550.6 L881.7 551.0 L882.2 551.0 L882.7 550.5 L883.2 550.4 L883.7 550.1 L884.2 550.3 L884.7 550.6 L885.2 550.6 L885.7 550.5 L886.2 550.8 L886.7 550.3 L887.2 550.5 L887.7 550.7 L888.2 550.7 L888.7 550.8 L889.2 550.6 L889.7 550.4 L890.2 550.6 L890.7 550.2 L891.2 550.0 L891.7 550.7 L892.2 550.5 L892.7 550.6 L893.2 550.0 L893.7 550.4 L894.2 550.3 L894.7 550.2 L895.2 549.8 L895.7 550.4 L896.2 550.8 L896.7 550.6 L897.2 550.3 L897.7 550.5 L898.2 550.7 L898.7 549.7 L899.2 550.5 L899.7 550.7 L900.2 550.7 L900.7 551.0 L901.2 550.8 L901.7 550.6 L902.2 550.6 L902.7 550.7 L903.2 550.3 L903.7 550.5 L904.2 550.8 L904.7 551.1 L905.2 550.5 L905.7 550.5 L906.2 550.6 L906.7 550.9 L907.2 550.5 L907.7 550.9 L908.2 550.2 L908.7 550.4 L909.2 550.4 L909.7 550.7 L910.2 550.8 L910.7 550.0 L911.2 550.2 L911.7 550.6 L912.2 550.3 L912.7 550.0 L913.2 550.8 L913.7 550.6 L914.2 550.6 L914.7 550.4 L915.2 550.8 L915.7 550.4 L916.2 550.8 L916.7 550.2 L917.2 550.2 L917.7 550.6 L918.2 550.3 L918.7 550.7 L919.2 550.6 L919.7 550.2 L920.2 550.5 L920.7 550.4 L921.2 550.8 L921.7 550.3 L922.2 550.4 L922.7 550.9 L923.2 551.2 L923.7 551.1 L924.2 550.5 L924.7 550.6 L925.2 551.0 L925.7 550.5 L926.2 550.2 L926.7 550.5 L927.2 550.6 L927.7 550.3 L928.2 550.0 L928.7 550.1 L929.2 550.7 L929.7 550.3 L930.2 550.5 L930.7 550.6 L931.2 550.7 L931.7 550.4 L932.2 550.6 L932.7 550.2 L933.2 550.4 L933.7 550.2 L934.2 550.8 L934.7 550.5 L935.2 550.3 L935.7 550.4 L936.2 550.4 L936.7 550.7 L937.2 550.0 L937.7 550.2 L938.2 550.4 L938.7 551.3 L939.2 550.8 L939.7 550.5 L940.2 550.7 L940.7 551.1 L941.2 550.4 L941.7 550.4 L942.2 550.9 L942.7 550.6 L943.2 550.7 L943.7 550.3 L944.2 551.1 L944.7 551.0 L945.2 550.7 L945.7 550.7 L946.2 549.9 L946.7 550.7 L947.2 550.4 L947.7 550.6 L948.2 550.7 L948.7 550.4 L949.2 550.0 L949.7 550.6 L950.2 550.3 L950.7 550.4 L951.2 550.3 L951.7 550.4 L952.2 549.8 L952.7 550.9 L953.2 550.6 L953.7 550.8 L954.2 551.1 L954.7 550.5 L955.2 550.0 L955.7 550.2 L956.2 550.1 L956.7 550.3 L957.2 550.5 L957.7 549.9 L958.2 550.6 L958.7 550.0 L959.2 550.6 L959.7 550.5 L960.2 550.4 L960.7 550.5 L961.2 550.3 L961.7 550.3 L962.2 550.0 L962.7 550.5 L963.2 551.1 L963.7 551.1 L964.2 550.9 L964.7 550.7 L965.2 550.3 L965.7 550.9 L966.2 550.5 L966.7 550.5 L967.2 550.4 L967.7 550.5 L968.2 550.4 L968.7 550.5 L969.2 550.2 L969.7 550.4 L970.2 551.2 L970.7 550.5 L971.2 550.4 L971.7 550.7 L972.2 550.7 L972.7 550.2 L973.2 550.4 L973.7 550.8 L974.2 550.6 L974.7 550.5 L975.2 551.0 L975.7 550.3 L976.2 550.5 L976.7 550.3 L977.2 550.9 L977.7 549.9 L978.2 550.3 L978.7 550.3 L979.2 550.7 L979.7 550.7 L980.2 550.9 L980.7 550.0 L981.2 550.7 L981.7 550.4 L982.2 550.3 L982.7 550.7 L983.2 550.2 L983.7 549.9 L984.2 550.4 L984.7 550.1 L985.2 550.3 L985.7 550.6 L986.2 550.6 L986.7 551.0" fill="none" stroke="#000" stroke-width="1.5"/>
<path d="M655.7 550.5 L655.7 526.8 L656.4 527.2 L657.1 528.0 L657.8 528.6 L658.5 529.0 L659.2 529.8 L659.9 530.0 L660.6 530.0 L661.3 530.9 L662.0 531.0 L662.7 531.4 L663.4 531.5 L664.1 531.8 L664.8 531.9 L665.5 532.3 L666.2 532.3 L666.9 532.4 L667.6 532.5 L668.3 532.2 L669.0 532.6 L669.7 532.7 L670.4 532.9 L671.1 532.6 L671.8 533.3 L672.5 533.1 L673.2 532.8 L673.9 532.8 L674.6 533.2 L675.3 533.3 L676.0 533.2 L676.7 533.4 L677.4 533.3 L678.1 533.6 L678.8 533.4 L679.5 533.5 L680.2 533.8 L680.9 534.2 L681.6 533.4 L682.3 533.6 L683.0 533.5 L683.7 533.9 L684.4 533.5 L685.1 533.7 L685.8 533.9 L686.5 533.7 L687.2 533.7 L687.9 533.8 L688.6 533.5 L689.3 533.7 L690.0 533.9 L690.7 534.1 L691.4 534.0 L692.1 533.7 L692.8 534.0 L693.5 534.3 L694.2 534.3 L694.9 534.2 L695.6 534.0 L696.3 534.4 L697.0 534.1 L697.7 534.0 L698.4 534.1 L699.1 534.7 L699.8 534.4 L700.5 534.6 L701.2 534.3 L701.9 534.6 L702.6 534.3 L703.3 534.4 L704.0 535.0 L704.7 534.7 L705.4 534.4 L706.1 534.5 L706.8 534.6 L707.5 534.8 L708.2 534.5 L708.9 534.2 L709.6 534.5 L710.3 534.6 L711.0 534.7 L711.7 534.9 L712.4 534.7 L713.1 534.9 L713.8 534.5 L714.5 534.9 L715.2 535.2 L715.9 534.9 L716.6 534.8 L717.3 534.8 L718.0 535.2 L718.7 534.6 L719.4 534.8 L720.1 534.9 L720.8 535.0 L721.5 534.8 L722.2 534.9 L722.9 534.8 L723.6 534.9 L724.3 534.9 L725.0 534.7 L725.7 534.9 L726.4 535.1 L727.1 534.7 L727.8 534.9 L728.5 535.1 L729.2 534.7 L729.9 535.0 L730.6 534.8 L731.3 535.3 L732.0 535.5 L732.7 535.5 L733.4 535.0 L734.1 535.2 L734.8 535.1 L735.5 535.1 L736.2 535.4 L736.9 534.8 L737.6 535.3 L738.3 535.1 L739.0 535.4 L739.7 535.2 L740.4 535.0 L741.1 535.2 L741.8 535.3 L742.5 535.2 L743.2 535.3 L743.9 535.1 L744.6 534.7 L745.3 535.4 L746.0 535.4 L746.7 535.2 L747.4 535.2 L748.1 535.4 L748.8 535.1 L749.5 535.1 L750.2 535.2 L750.9 535.5 L751.6 535.0 L752.3 535.5 L753.0 535.1 L753.7 535.0 L754.4 535.6 L755.1 535.3 L755.8 535.0 L756.5 535.2 L757.2 535.5 L757.9 535.6 L758.6 535.2 L759.3 535.4 L760.0 535.5 L760.7 535.2 L761.4 535.4 L762.1 535.4 L762.8 535.2 L763.5 535.3 L764.2 535.4 L764.9 535.4 L765.6 535.3 L766.3 535.3 L767.0 535.6 L767.7 535.5 L768.4 535.6 L769.1 535.7 L769.8 535.6 L770.5 535.9 L771.2 535.3 L771.9 535.6 L772.6 535.4 L773.3 535.9 L774.0 535.8 L774.7 535.0 L775.4 535.3 L776.1 535.6 L776.8 535.6 L777.5 535.6 L778.2 535.5 L778.9 535.6 L779.6 535.6 L780.3 535.5 L781.0 535.7 L781.7 535.0 L782.4 535.7 L783.1 535.3 L783.8 535.7 L784.5 535.5 L785.2 535.3 L785.9 535.6 L786.6 535.3 L787.3 535.3 L788.0 535.2 L788.7 535.5 L789.4 535.7 L790.1 535.8 L790.8 535.5 L791.5 535.8 L792.2 535.6 L792.9 535.6 L793.6 535.7 L794.3 535.8 L795.0 535.5 L795.7 535.5 L796.4 535.6 L797.1 535.6 L797.8 535.4 L798.5 535.8 L799.2 535.5 L799.9 535.7 L800.6 535.4 L801.3 535.7 L802.0 535.7 L802.7 535.5 L803.4 536.1 L804.1 535.7 L804.8 536.0 L805.5 535.9 L806.2 535.5 L806.9 535.6 L807.6 535.8 L808.3 535.7 L809.0 535.7 L809.7 535.6 L810.4 535.3 L811.1 535.6 L811.8 535.2 L812.5 535.8 L813.2 535.5 L813.9 535.5 L814.6 535.6 L815.3 535.8 L816.0 535.4 L816.7 535.3 L817.4 535.5 L818.1 535.3 L818.8 535.5 L819.5 536.1 L820.2 535.5 L820.9 535.9 L821.6 535.4 L822.3 535.8 L823.0 535.7 L823.7 535.7 L824.4 535.9 L825.1 536.1 L825.8 535.8 L826.5 535.8 L827.2 535.5 L827.9 535.9 L828.6 535.7 L829.3 535.9 L830.0 535.7 L830.7 536.1 L831.4 535.3 L832.1 535.7 L832.8 536.0 L833.5 535.7 L834.2 535.6 L834.9 535.7 L835.6 535.5 L836.3 535.8 L837.0 536.3 L837.7 536.0 L838.4 535.5 L839.1 535.6 L839.8 535.7 L840.5 536.0 L841.2 535.6 L841.9 535.6 L842.6 536.0 L843.3 536.0 L844.0 535.7 L844.7 535.6 L845.4 535.5 L846.1 535.7 L846.8 535.3 L847.5 536.0 L848.2 535.7 L848.9 535.9 L849.6 536.2 L850.3 536.1 L851.0 535.6 L851.7 536.0 L852.4 536.1 L853.1 535.7 L853.8 535.6 L854.5 535.8 L855.2 535.5 L855.9 536.2 L856.6 535.3 L857.3 535.6 L858.0 535.8 L858.7 535.8 L859.4 535.9 L860.1 535.9 L860.8 535.8 L861.5 536.1 L862.2 535.4 L862.9 535.9 L863.6 535.7 L864.3 535.9 L865.0 535.9 L865.7 535.7 L866.4 535.7 L867.1 536.0 L867.8 536.0 L868.5 535.7 L869.2 536.3 L869.9 536.4 L870.6 535.6 L871.3 536.0 L872.0 536.4 L872.7 536.1 L873.4 535.9 L874.1 535.8 L874.8 535.8 L875.5 535.9 L876.2 535.8 L876.9 536.1 L877.6 535.8 L878.3 535.8 L879.0 535.6 L879.7 535.9 L880.4 535.7 L881.1 535.9 L881.8 536.1 L882.5 536.0 L883.2 536.0 L883.9 536.0 L884.6 535.9 L885.3 535.9 L886.0 535.9 L886.7 536.1 L887.4 535.7 L888.1 536.2 L888.8 535.9 L889.5 535.8 L890.2 535.8 L890.9 535.8 L891.6 536.0 L892.3 535.8 L893.0 536.2 L893.7 535.8 L894.4 535.4 L895.1 535.8 L895.8 535.5 L896.5 535.9 L897.2 536.2 L897.9 536.1 L898.6 535.7 L899.3 535.8 L900.0 536.3 L900.7 536.0 L901.4 536.0 L902.1 536.2 L902.8 536.5 L903.5 536.2 L904.2 536.0 L904.9 536.0 L905.6 536.1 L906.3 535.8 L907.0 535.7 L907.7 536.0 L908.4 535.8 L909.1 536.0 L909.8 536.0 L910.5 536.5 L911.2 535.8 L911.9 536.0 L912.6 535.9 L913.3 536.1 L914.0 536.2 L914.7 535.9 L915.4 535.8 L916.1 535.6 L916.8 535.8 L917.5 536.1 L918.2 536.0 L918.9 535.8 L919.6 535.9 L920.3 536.0 L920.8 550.5" fill="none" stroke="#000" stroke-width="0.85"/>
<path d="M655.7 550.5 L655.7 532.3 L656.4 532.7 L657.1 533.2 L657.8 533.3 L658.5 533.9 L659.2 534.9 L659.9 534.3 L660.6 535.0 L661.3 535.4 L662.0 535.5 L662.7 535.6 L663.4 535.9 L664.1 536.1 L664.8 536.2 L665.5 535.9 L666.2 536.4 L666.9 536.4 L667.6 536.5 L668.3 536.8 L669.0 536.9 L669.7 537.1 L670.4 536.8 L671.1 537.2 L671.8 537.3 L672.5 537.4 L673.2 537.5 L673.9 537.2 L674.6 537.2 L675.3 537.5 L676.0 537.0 L676.7 537.4 L677.4 537.3 L678.1 537.4 L678.8 537.1 L679.5 537.3 L680.2 537.5 L680.9 537.8 L681.6 537.8 L682.3 537.6 L683.0 537.6 L683.7 537.5 L684.4 537.8 L685.1 537.7 L685.8 537.9 L686.5 538.2 L687.2 537.8 L687.9 537.5 L688.6 537.7 L689.3 537.6 L690.0 537.6 L690.7 538.2 L691.4 538.0 L692.1 537.6 L692.8 538.1 L693.5 538.3 L694.2 537.9 L694.9 537.9 L695.6 538.0 L696.3 538.1 L697.0 538.2 L697.7 538.4 L698.4 538.4 L699.1 538.4 L699.8 538.4 L700.5 538.3 L701.2 537.8 L701.9 538.2 L702.6 538.3 L703.3 538.1 L704.0 538.4 L704.7 538.2 L705.4 538.1 L706.1 538.6 L706.8 538.4 L707.5 538.4 L708.2 538.5 L708.9 538.6 L709.6 538.4 L710.3 537.8 L711.0 538.2 L711.7 538.3 L712.4 538.2 L713.1 538.5 L713.8 538.7 L714.5 538.3 L715.2 538.2 L715.9 538.9 L716.6 538.4 L717.3 538.2 L718.0 538.5 L718.7 538.6 L719.4 538.4 L720.1 538.7 L720.8 538.4 L721.5 538.3 L722.2 538.6 L722.9 538.7 L723.6 538.4 L724.3 538.6 L725.0 538.6 L725.7 539.2 L726.4 538.4 L727.1 538.9 L727.8 538.6 L728.5 538.6 L729.2 538.8 L729.9 538.8 L730.6 538.9 L731.3 538.7 L732.0 538.5 L732.7 538.6 L733.4 538.8 L734.1 538.8 L734.8 539.0 L735.5 538.8 L736.2 539.0 L736.9 539.1 L737.6 538.8 L738.3 538.4 L739.0 538.5 L739.7 538.4 L740.4 539.1 L741.1 538.6 L741.8 539.0 L742.5 538.9 L743.2 539.2 L743.9 539.0 L744.6 538.8 L745.3 538.8 L746.0 538.8 L746.7 538.9 L747.4 538.7 L748.1 538.8 L748.8 539.2 L749.5 538.5 L750.2 538.9 L750.9 538.7 L751.6 538.9 L752.3 539.0 L753.0 538.9 L753.7 539.0 L754.4 538.5 L755.1 539.1 L755.8 538.8 L756.5 539.0 L757.2 538.9 L757.9 538.3 L758.6 538.7 L759.3 539.0 L760.0 539.3 L760.7 539.0 L761.4 539.0 L762.1 538.6 L762.8 539.3 L763.5 539.3 L764.2 539.0 L764.9 538.9 L765.6 538.6 L766.3 539.2 L767.0 539.6 L767.7 539.1 L768.4 539.3 L769.1 539.1 L769.8 538.8 L770.5 539.3 L771.2 538.7 L771.9 539.0 L772.6 539.1 L773.3 539.2 L774.0 539.1 L774.7 539.1 L775.4 538.9 L776.1 538.7 L776.8 539.0 L777.5 538.9 L778.2 538.7 L778.9 538.8 L779.6 538.9 L780.3 538.6 L781.0 538.8 L781.7 538.7 L782.4 539.1 L783.1 539.2 L783.8 539.5 L784.5 538.7 L785.2 538.9 L785.9 539.3 L786.6 539.0 L787.3 539.0 L788.0 539.5 L788.7 539.0 L789.4 538.8 L790.1 538.8 L790.8 539.2 L791.5 539.2 L792.2 538.8 L792.9 538.9 L793.6 539.2 L794.3 539.2 L795.0 539.0 L795.7 539.3 L796.4 539.3 L797.1 538.7 L797.8 539.1 L798.5 539.2 L799.2 539.0 L799.9 538.7 L800.6 539.1 L801.3 539.3 L802.0 539.5 L802.7 538.7 L803.4 539.7 L804.1 538.9 L804.8 539.4 L805.5 539.4 L806.2 539.4 L806.9 539.2 L807.6 538.9 L808.3 539.3 L809.0 539.0 L809.7 538.6 L810.4 539.8 L811.1 539.3 L811.8 539.6 L812.5 539.0 L813.2 539.5 L813.9 539.5 L814.6 539.5 L815.3 539.2 L816.0 538.9 L816.7 539.2 L817.4 538.7 L818.1 538.8 L818.8 539.2 L819.5 539.0 L820.2 539.2 L820.9 539.2 L821.6 539.6 L822.3 539.5 L823.0 539.2 L823.7 539.5 L824.4 539.1 L825.1 539.2 L825.8 539.4 L826.5 539.0 L827.2 539.2 L827.9 539.0 L828.6 539.3 L829.3 539.6 L830.0 539.1 L830.7 539.3 L831.4 539.1 L832.1 539.0 L832.8 539.0 L833.5 539.6 L834.2 539.8 L834.9 539.4 L835.6 539.1 L836.3 539.4 L837.0 539.2 L837.7 539.4 L838.4 539.3 L839.1 539.3 L839.8 539.4 L840.5 539.2 L841.2 539.2 L841.9 538.9 L842.6 539.2 L843.3 539.0 L844.0 539.3 L844.7 539.1 L845.4 539.3 L846.1 539.4 L846.8 539.0 L847.5 539.1 L848.2 539.1 L848.9 539.5 L849.6 539.7 L850.3 539.5 L851.0 539.2 L851.7 539.6 L852.4 539.0 L853.1 539.6 L853.8 539.2 L854.5 538.7 L855.2 539.9 L855.9 539.7 L856.6 539.1 L857.3 539.4 L858.0 539.3 L858.7 539.3 L859.4 539.0 L860.1 539.2 L860.8 539.4 L861.5 539.4 L862.2 539.6 L862.9 539.4 L863.6 539.9 L864.3 539.2 L865.0 539.4 L865.7 538.9 L866.4 539.1 L867.1 539.6 L867.8 539.1 L868.5 539.5 L869.2 539.3 L869.9 539.1 L870.6 539.3 L871.3 539.2 L872.0 539.2 L872.7 539.5 L873.4 539.5 L874.1 539.2 L874.8 539.2 L875.5 539.4 L876.2 539.3 L876.9 539.6 L877.6 540.0 L878.3 539.6 L879.0 539.4 L879.7 539.3 L880.4 539.2 L881.1 539.2 L881.8 539.2 L882.5 539.3 L883.2 539.3 L883.9 539.5 L884.6 539.3 L885.3 539.3 L886.0 539.1 L886.7 539.7 L887.4 539.5 L888.1 539.8 L888.8 539.6 L889.5 539.7 L890.2 539.3 L890.9 539.5 L891.6 540.0 L892.3 539.1 L893.0 539.7 L893.7 539.8 L894.4 539.5 L895.1 539.6 L895.8 539.7 L896.5 539.3 L897.2 539.5 L897.9 539.2 L898.6 539.3 L899.3 539.3 L900.0 539.4 L900.7 539.4 L901.4 539.5 L902.1 539.1 L902.8 539.9 L903.5 539.7 L904.2 539.6 L904.9 539.3 L905.6 539.4 L906.3 539.5 L907.0 539.5 L907.7 539.0 L908.4 539.6 L909.1 540.1 L909.8 539.0 L910.5 539.6 L911.2 539.5 L911.9 539.4 L912.6 539.7 L913.3 539.2 L914.0 539.5 L914.7 539.8 L915.4 539.4 L916.1 539.3 L916.8 539.5 L917.5 539.3 L918.2 539.8 L918.9 539.2 L919.6 539.6 L920.3 539.2 L920.8 550.5" fill="none" stroke="#000" stroke-width="0.85"/>
<path d="M655.7 550.5 L655.7 539.2 L656.4 539.3 L657.1 538.9 L657.8 539.8 L658.5 539.7 L659.2 540.0 L659.9 540.6 L660.6 540.1 L661.3 540.3 L662.0 541.0 L662.7 540.7 L663.4 541.2 L664.1 541.0 L664.8 540.7 L665.5 541.0 L666.2 541.3 L666.9 541.3 L667.6 541.2 L668.3 541.2 L669.0 541.2 L669.7 541.1 L670.4 541.7 L671.1 541.3 L671.8 541.1 L672.5 541.3 L673.2 541.6 L673.9 541.6 L674.6 541.4 L675.3 541.3 L676.0 541.5 L676.7 541.1 L677.4 541.2 L678.1 541.7 L678.8 541.5 L679.5 541.7 L680.2 541.9 L680.9 541.8 L681.6 541.6 L682.3 542.1 L683.0 541.8 L683.7 541.6 L684.4 541.8 L685.1 541.8 L685.8 541.5 L686.5 541.7 L687.2 541.7 L687.9 541.3 L688.6 541.7 L689.3 541.7 L690.0 541.7 L690.7 541.4 L691.4 541.7 L692.1 541.8 L692.8 541.8 L693.5 541.6 L694.2 542.0 L694.9 541.6 L695.6 541.8 L696.3 542.1 L697.0 541.7 L697.7 541.8 L698.4 542.1 L699.1 541.8 L699.8 541.8 L700.5 542.0 L701.2 542.1 L701.9 541.4 L702.6 541.7 L703.3 541.7 L704.0 541.7 L704.7 541.8 L705.4 541.8 L706.1 542.0 L706.8 541.8 L707.5 542.0 L708.2 542.1 L708.9 541.8 L709.6 542.0 L710.3 542.4 L711.0 542.1 L711.7 541.9 L712.4 542.0 L713.1 541.8 L713.8 542.1 L714.5 542.2 L715.2 541.9 L715.9 542.0 L716.6 542.3 L717.3 541.9 L718.0 542.1 L718.7 541.8 L719.4 541.9 L720.1 542.0 L720.8 542.6 L721.5 542.0 L722.2 542.0 L722.9 542.0 L723.6 542.1 L724.3 542.2 L725.0 542.1 L725.7 542.6 L726.4 542.2 L727.1 542.4 L727.8 542.2 L728.5 542.3 L729.2 541.8 L729.9 542.1 L730.6 542.1 L731.3 542.1 L732.0 541.7 L732.7 542.3 L733.4 542.1 L734.1 542.1 L734.8 542.1 L735.5 542.1 L736.2 542.3 L736.9 541.9 L737.6 542.0 L738.3 542.2 L739.0 542.2 L739.7 542.1 L740.4 542.1 L741.1 542.0 L741.8 542.2 L742.5 542.5 L743.2 542.0 L743.9 542.5 L744.6 542.4 L745.3 542.1 L746.0 542.4 L746.7 541.9 L747.4 541.8 L748.1 541.9 L748.8 542.1 L749.5 542.2 L750.2 542.1 L750.9 542.3 L751.6 541.8 L752.3 542.4 L753.0 541.9 L753.7 542.1 L754.4 542.2 L755.1 542.0 L755.8 542.0 L756.5 542.0 L757.2 542.3 L757.9 542.4 L758.6 542.4 L759.3 542.0 L760.0 542.1 L760.7 542.1 L761.4 542.4 L762.1 541.8 L762.8 542.6 L763.5 542.2 L764.2 542.1 L764.9 542.4 L765.6 542.5 L766.3 542.4 L767.0 542.5 L767.7 542.3 L768.4 542.6 L769.1 542.6 L769.8 542.3 L770.5 542.6 L771.2 542.3 L771.9 542.3 L772.6 542.1 L773.3 542.2 L774.0 542.5 L774.7 542.0 L775.4 542.5 L776.1 542.4 L776.8 542.4 L777.5 541.8 L778.2 542.3 L778.9 542.5 L779.6 542.2 L780.3 542.4 L781.0 541.8 L781.7 542.5 L782.4 542.2 L783.1 542.5 L783.8 541.9 L784.5 542.5 L785.2 542.3 L785.9 542.5 L786.6 542.1 L787.3 542.2 L788.0 542.8 L788.7 542.2 L789.4 542.2 L790.1 542.3 L790.8 542.1 L791.5 542.6 L792.2 542.7 L792.9 542.2 L793.6 542.0 L794.3 542.6 L795.0 542.6 L795.7 542.5 L796.4 542.6 L797.1 542.2 L797.8 542.3 L798.5 542.1 L799.2 542.1 L799.9 542.6 L800.6 542.2 L801.3 542.9 L802.0 542.4 L802.7 542.2 L803.4 542.6 L804.1 542.8 L804.8 542.5 L805.5 542.1 L806.2 542.5 L806.9 542.7 L807.6 542.3 L808.3 542.2 L809.0 542.6 L809.7 542.4 L810.4 542.2 L811.1 542.3 L811.8 542.2 L812.5 542.5 L813.2 542.4 L813.9 542.7 L814.6 542.6 L815.3 542.1 L816.0 542.5 L816.7 542.6 L817.4 542.5 L818.1 542.6 L818.8 542.3 L819.5 542.2 L820.2 542.6 L820.9 542.2 L821.6 541.9 L822.3 542.6 L823.0 542.3 L823.7 542.4 L824.4 542.1 L825.1 542.1 L825.8 542.2 L826.5 542.3 L827.2 542.5 L827.9 541.9 L828.6 542.6 L829.3 542.2 L830.0 542.2 L830.7 542.6 L831.4 542.4 L832.1 542.1 L832.8 542.8 L833.5 542.2 L834.2 542.5 L834.9 542.5 L835.6 542.7 L836.3 542.3 L837.0 542.7 L837.7 542.3 L838.4 542.7 L839.1 542.3 L839.8 542.4 L840.5 542.9 L841.2 542.5 L841.9 542.5 L842.6 542.9 L843.3 542.5 L844.0 542.3 L844.7 542.6 L845.4 542.2 L846.1 542.7 L846.8 542.7 L847.5 542.3 L848.2 542.3 L848.9 542.5 L849.6 542.5 L850.3 542.2 L851.0 542.6 L851.7 542.0 L852.4 542.4 L853.1 542.4 L853.8 542.4 L854.5 542.5 L855.2 542.2 L855.9 542.6 L856.6 542.4 L857.3 542.3 L858.0 542.2 L858.7 542.2 L859.4 542.5 L860.1 542.3 L860.8 542.5 L861.5 542.7 L862.2 542.7 L862.9 542.8 L863.6 542.4 L864.3 542.2 L865.0 542.7 L865.7 542.5 L866.4 542.7 L867.1 542.5 L867.8 542.7 L868.5 542.7 L869.2 542.6 L869.9 542.6 L870.6 542.6 L871.3 542.5 L872.0 542.5 L872.7 542.7 L873.4 542.4 L874.1 542.9 L874.8 542.5 L875.5 542.7 L876.2 542.5 L876.9 542.4 L877.6 542.9 L878.3 542.4 L879.0 542.2 L879.7 542.3 L880.4 542.4 L881.1 543.0 L881.8 542.5 L882.5 542.7 L883.2 542.3 L883.9 542.6 L884.6 542.6 L885.3 542.9 L886.0 542.3 L886.7 542.6 L887.4 542.6 L888.1 542.3 L888.8 542.5 L889.5 542.4 L890.2 542.0 L890.9 542.6 L891.6 542.6 L892.3 542.4 L893.0 542.2 L893.7 542.8 L894.4 542.6 L895.1 542.7 L895.8 542.8 L896.5 542.4 L897.2 542.7 L897.9 542.5 L898.6 542.5 L899.3 542.5 L900.0 542.5 L900.7 542.8 L901.4 542.5 L902.1 542.5 L902.8 542.4 L903.5 542.6 L904.2 542.3 L904.9 542.4 L905.6 542.5 L906.3 542.4 L907.0 542.5 L907.7 542.4 L908.4 543.0 L909.1 542.8 L909.8 542.6 L910.5 542.5 L911.2 543.0 L911.9 542.6 L912.6 542.5 L913.3 542.6 L914.0 542.6 L914.7 542.8 L915.4 542.5 L916.1 543.0 L916.8 542.3 L917.5 542.7 L918.2 542.3 L918.9 542.9 L919.6 542.4 L920.3 542.5 L920.8 550.5" fill="none" stroke="#000" stroke-width="0.85"/>
<path d="M655.7 550.5 L655.7 543.0 L656.4 543.2 L657.1 542.8 L657.8 543.1 L658.5 543.0 L659.2 543.4 L659.9 543.4 L660.6 543.5 L661.3 543.5 L662.0 543.6 L662.7 543.5 L663.4 543.9 L664.1 544.1 L664.8 543.4 L665.5 543.8 L666.2 543.8 L666.9 544.0 L667.6 543.7 L668.3 543.9 L669.0 543.8 L669.7 544.2 L670.4 544.0 L671.1 544.0 L671.8 544.1 L672.5 544.0 L673.2 543.7 L673.9 544.2 L674.6 544.2 L675.3 544.1 L676.0 544.3 L676.7 544.4 L677.4 543.9 L678.1 544.0 L678.8 544.5 L679.5 544.5 L680.2 544.0 L680.9 543.9 L681.6 544.0 L682.3 544.1 L683.0 543.9 L683.7 544.2 L684.4 543.9 L685.1 544.0 L685.8 544.4 L686.5 544.1 L687.2 544.2 L687.9 544.4 L688.6 544.4 L689.3 544.2 L690.0 544.3 L690.7 544.1 L691.4 544.7 L692.1 544.4 L692.8 544.0 L693.5 544.3 L694.2 544.4 L694.9 544.4 L695.6 544.7 L696.3 544.6 L697.0 544.2 L697.7 544.3 L698.4 544.0 L699.1 544.4 L699.8 544.4 L700.5 544.9 L701.2 544.4 L701.9 543.9 L702.6 544.2 L703.3 544.4 L704.0 544.1 L704.7 544.2 L705.4 544.3 L706.1 544.4 L706.8 544.3 L707.5 544.2 L708.2 544.5 L708.9 544.3 L709.6 544.3 L710.3 544.1 L711.0 544.2 L711.7 544.5 L712.4 544.0 L713.1 544.4 L713.8 544.6 L714.5 544.3 L715.2 544.5 L715.9 544.2 L716.6 544.7 L717.3 544.7 L718.0 544.5 L718.7 544.0 L719.4 544.2 L720.1 544.6 L720.8 544.8 L721.5 544.5 L722.2 544.7 L722.9 544.3 L723.6 544.4 L724.3 544.4 L725.0 544.5 L725.7 544.1 L726.4 544.7 L727.1 544.7 L727.8 544.2 L728.5 544.2 L729.2 544.5 L729.9 544.3 L730.6 543.9 L731.3 544.6 L732.0 544.5 L732.7 544.4 L733.4 544.9 L734.1 544.5 L734.8 544.3 L735.5 544.5 L736.2 544.2 L736.9 544.3 L737.6 544.6 L738.3 544.4 L739.0 544.4 L739.7 544.8 L740.4 544.7 L741.1 544.7 L741.8 544.6 L742.5 544.6 L743.2 544.8 L743.9 544.5 L744.6 544.9 L745.3 544.3 L746.0 544.4 L746.7 544.2 L747.4 544.4 L748.1 544.6 L748.8 544.8 L749.5 544.4 L750.2 544.5 L750.9 544.4 L751.6 544.3 L752.3 544.2 L753.0 544.5 L753.7 544.1 L754.4 544.5 L755.1 544.5 L755.8 544.4 L756.5 544.3 L757.2 544.2 L757.9 544.9 L758.6 544.2 L759.3 544.9 L760.0 544.7 L760.7 544.4 L761.4 544.3 L762.1 544.8 L762.8 544.9 L763.5 544.3 L764.2 544.5 L764.9 544.8 L765.6 544.6 L766.3 545.0 L767.0 544.4 L767.7 544.7 L768.4 544.3 L769.1 545.0 L769.8 544.4 L770.5 544.1 L771.2 544.5 L771.9 544.5 L772.6 545.0 L773.3 544.5 L774.0 544.5 L774.7 544.7 L775.4 544.9 L776.1 544.5 L776.8 544.8 L777.5 544.7 L778.2 544.5 L778.9 544.6 L779.6 544.6 L780.3 544.4 L781.0 544.8 L781.7 544.3 L782.4 544.8 L783.1 544.8 L783.8 544.5 L784.5 544.4 L785.2 544.5 L785.9 544.7 L786.6 544.7 L787.3 544.6 L788.0 544.8 L788.7 544.4 L789.4 544.6 L790.1 544.2 L790.8 544.7 L791.5 544.6 L792.2 544.5 L792.9 544.8 L793.6 544.7 L794.3 544.0 L795.0 544.6 L795.7 544.3 L796.4 544.8 L797.1 545.1 L797.8 544.5 L798.5 544.6 L799.2 544.5 L799.9 544.7 L800.6 544.7 L801.3 544.9 L802.0 544.4 L802.7 544.9 L803.4 544.4 L804.1 544.6 L804.8 544.8 L805.5 544.7 L806.2 544.4 L806.9 544.4 L807.6 544.5 L808.3 544.6 L809.0 544.8 L809.7 544.3 L810.4 544.7 L811.1 544.7 L811.8 544.7 L812.5 544.7 L813.2 544.9 L813.9 544.7 L814.6 544.8 L815.3 544.7 L816.0 545.0 L816.7 544.2 L817.4 544.9 L818.1 544.5 L818.8 544.5 L819.5 544.4 L820.2 544.2 L820.9 544.5 L821.6 544.5 L822.3 544.7 L823.0 544.3 L823.7 544.9 L824.4 544.7 L825.1 544.6 L825.8 544.5 L826.5 544.4 L827.2 544.4 L827.9 544.5 L828.6 544.6 L829.3 544.6 L830.0 544.3 L830.7 544.6 L831.4 544.4 L832.1 544.6 L832.8 545.0 L833.5 544.7 L834.2 544.5 L834.9 544.3 L835.6 544.3 L836.3 544.2 L837.0 544.8 L837.7 544.4 L838.4 544.6 L839.1 544.5 L839.8 544.6 L840.5 544.9 L841.2 544.5 L841.9 544.5 L842.6 544.4 L843.3 544.8 L844.0 544.4 L844.7 544.4 L845.4 544.3 L846.1 544.3 L846.8 544.7 L847.5 545.2 L848.2 544.4 L848.9 544.8 L849.6 544.7 L850.3 544.4 L851.0 544.6 L851.7 544.6 L852.4 544.5 L853.1 545.1 L853.8 544.2 L854.5 544.7 L855.2 544.7 L855.9 544.5 L856.6 544.7 L857.3 544.8 L858.0 544.7 L858.7 544.7 L859.4 544.8 L860.1 544.2 L860.8 545.0 L861.5 545.1 L862.2 544.8 L862.9 544.9 L863.6 544.3 L864.3 544.6 L865.0 544.5 L865.7 544.5 L866.4 544.8 L867.1 544.5 L867.8 544.6 L868.5 544.2 L869.2 544.6 L869.9 544.7 L870.6 544.5 L871.3 544.5 L872.0 545.1 L872.7 544.4 L873.4 544.4 L874.1 544.5 L874.8 544.9 L875.5 545.1 L876.2 544.7 L876.9 544.5 L877.6 544.5 L878.3 544.9 L879.0 544.4 L879.7 545.0 L880.4 545.0 L881.1 544.7 L881.8 544.8 L882.5 544.8 L883.2 545.0 L883.9 544.4 L884.6 544.9 L885.3 544.6 L886.0 544.5 L886.7 544.7 L887.4 544.6 L888.1 544.4 L888.8 544.3 L889.5 544.4 L890.2 545.0 L890.9 545.1 L891.6 544.8 L892.3 544.9 L893.0 544.5 L893.7 544.6 L894.4 544.7 L895.1 544.4 L895.8 544.4 L896.5 544.7 L897.2 544.6 L897.9 544.4 L898.6 544.7 L899.3 544.6 L900.0 544.9 L900.7 544.6 L901.4 544.6 L902.1 544.7 L902.8 544.6 L903.5 544.5 L904.2 544.6 L904.9 544.8 L905.6 544.8 L906.3 544.9 L907.0 544.3 L907.7 544.6 L908.4 544.6 L909.1 544.7 L909.8 544.6 L910.5 544.5 L911.2 544.8 L911.9 544.7 L912.6 544.4 L913.3 544.9 L914.0 544.9 L914.7 544.5 L915.4 544.8 L916.1 544.5 L916.8 544.9 L917.5 544.6 L918.2 544.5 L918.9 544.6 L919.6 544.5 L920.3 544.7 L920.8 550.5" fill="none" stroke="#000" stroke-width="0.85"/>
<path d="M655.7 550.5 L655.7 545.2 L656.4 545.3 L657.1 545.2 L657.8 544.6 L658.5 545.5 L659.2 545.1 L659.9 545.6 L660.6 545.9 L661.3 545.7 L662.0 545.6 L662.7 545.7 L663.4 545.7 L664.1 545.7 L664.8 545.7 L665.5 545.6 L666.2 546.1 L666.9 545.8 L667.6 546.1 L668.3 545.8 L669.0 545.9 L669.7 545.9 L670.4 546.0 L671.1 546.1 L671.8 546.0 L672.5 545.8 L673.2 545.8 L673.9 546.3 L674.6 545.9 L675.3 545.9 L676.0 546.3 L676.7 546.2 L677.4 546.1 L678.1 545.9 L678.8 546.5 L679.5 546.1 L680.2 546.1 L680.9 546.0 L681.6 545.7 L682.3 545.7 L683.0 546.1 L683.7 546.1 L684.4 546.0 L685.1 545.8 L685.8 545.7 L686.5 546.0 L687.2 545.7 L687.9 546.2 L688.6 546.3 L689.3 546.7 L690.0 546.2 L690.7 545.9 L691.4 545.9 L692.1 545.3 L692.8 545.9 L693.5 546.0 L694.2 546.3 L694.9 546.2 L695.6 546.2 L696.3 546.1 L697.0 546.2 L697.7 546.4 L698.4 545.8 L699.1 546.0 L699.8 545.8 L700.5 546.4 L701.2 546.4 L701.9 546.3 L702.6 545.8 L703.3 546.1 L704.0 546.0 L704.7 546.1 L705.4 546.1 L706.1 546.2 L706.8 546.0 L707.5 546.3 L708.2 546.2 L708.9 546.0 L709.6 546.1 L710.3 546.0 L711.0 546.3 L711.7 546.1 L712.4 546.2 L713.1 546.0 L713.8 545.8 L714.5 546.3 L715.2 545.9 L715.9 546.3 L716.6 546.2 L717.3 545.8 L718.0 545.9 L718.7 546.0 L719.4 546.0 L720.1 545.9 L720.8 546.3 L721.5 546.1 L722.2 546.2 L722.9 546.1 L723.6 546.2 L724.3 546.0 L725.0 546.1 L725.7 546.3 L726.4 546.2 L727.1 546.1 L727.8 545.9 L728.5 546.2 L729.2 546.2 L729.9 546.1 L730.6 546.0 L731.3 546.3 L732.0 546.7 L732.7 546.1 L733.4 546.2 L734.1 546.2 L734.8 545.6 L735.5 546.2 L736.2 546.0 L736.9 546.5 L737.6 546.1 L738.3 546.0 L739.0 546.1 L739.7 546.2 L740.4 546.1 L741.1 546.2 L741.8 545.9 L742.5 546.1 L743.2 546.3 L743.9 546.6 L744.6 546.3 L745.3 546.2 L746.0 546.4 L746.7 546.4 L747.4 546.6 L748.1 546.4 L748.8 546.2 L749.5 546.2 L750.2 546.2 L750.9 546.3 L751.6 546.2 L752.3 546.0 L753.0 545.7 L753.7 546.0 L754.4 545.7 L755.1 546.2 L755.8 546.2 L756.5 545.8 L757.2 546.3 L757.9 546.4 L758.6 546.2 L759.3 546.6 L760.0 546.6 L760.7 545.9 L761.4 546.4 L762.1 546.3 L762.8 546.3 L763.5 546.4 L764.2 546.0 L764.9 546.1 L765.6 546.0 L766.3 546.0 L767.0 546.2 L767.7 545.9 L768.4 546.0 L769.1 546.3 L769.8 546.2 L770.5 546.3 L771.2 545.8 L771.9 546.0 L772.6 546.1 L773.3 546.2 L774.0 546.1 L774.7 546.4 L775.4 546.2 L776.1 546.2 L776.8 546.2 L777.5 546.4 L778.2 546.1 L778.9 546.5 L779.6 546.3 L780.3 546.3 L781.0 546.2 L781.7 546.3 L782.4 546.4 L783.1 546.4 L783.8 546.3 L784.5 546.4 L785.2 546.2 L785.9 546.5 L786.6 546.2 L787.3 545.8 L788.0 546.5 L788.7 546.2 L789.4 546.0 L790.1 546.2 L790.8 546.0 L791.5 546.7 L792.2 546.3 L792.9 545.9 L793.6 546.3 L794.3 546.1 L795.0 546.7 L795.7 546.0 L796.4 545.7 L797.1 546.2 L797.8 546.2 L798.5 546.1 L799.2 545.8 L799.9 546.3 L800.6 546.6 L801.3 545.8 L802.0 546.5 L802.7 546.1 L803.4 546.8 L804.1 546.3 L804.8 546.2 L805.5 546.5 L806.2 546.4 L806.9 546.1 L807.6 546.4 L808.3 546.1 L809.0 545.8 L809.7 546.7 L810.4 546.2 L811.1 546.1 L811.8 546.3 L812.5 545.9 L813.2 545.9 L813.9 546.1 L814.6 546.1 L815.3 546.3 L816.0 546.5 L816.7 546.1 L817.4 546.3 L818.1 546.4 L818.8 546.0 L819.5 546.3 L820.2 546.0 L820.9 546.5 L821.6 546.3 L822.3 546.2 L823.0 545.9 L823.7 546.3 L824.4 546.1 L825.1 546.4 L825.8 546.2 L826.5 546.1 L827.2 546.5 L827.9 546.4 L828.6 546.1 L829.3 546.5 L830.0 546.2 L830.7 546.2 L831.4 546.3 L832.1 546.1 L832.8 546.2 L833.5 546.2 L834.2 546.6 L834.9 546.6 L835.6 546.2 L836.3 546.6 L837.0 546.2 L837.7 546.3 L838.4 546.4 L839.1 546.3 L839.8 546.8 L840.5 546.3 L841.2 546.0 L841.9 546.5 L842.6 546.2 L843.3 546.2 L844.0 545.6 L844.7 546.5 L845.4 546.4 L846.1 546.4 L846.8 546.5 L847.5 546.6 L848.2 546.2 L848.9 546.5 L849.6 546.1 L850.3 546.2 L851.0 546.5 L851.7 546.3 L852.4 546.0 L853.1 546.3 L853.8 546.2 L854.5 546.1 L855.2 546.4 L855.9 546.2 L856.6 545.9 L857.3 546.0 L858.0 546.6 L858.7 545.9 L859.4 546.3 L860.1 546.4 L860.8 546.4 L861.5 546.0 L862.2 546.2 L862.9 546.3 L863.6 546.4 L864.3 546.1 L865.0 546.0 L865.7 546.5 L866.4 546.5 L867.1 546.3 L867.8 546.1 L868.5 546.4 L869.2 546.3 L869.9 546.4 L870.6 546.0 L871.3 546.3 L872.0 546.2 L872.7 546.0 L873.4 546.3 L874.1 546.3 L874.8 546.2 L875.5 546.4 L876.2 546.0 L876.9 546.3 L877.6 546.4 L878.3 546.3 L879.0 546.5 L879.7 546.0 L880.4 545.9 L881.1 546.3 L881.8 546.4 L882.5 546.7 L883.2 546.4 L883.9 546.1 L884.6 546.4 L885.3 546.1 L886.0 545.9 L886.7 546.8 L887.4 546.3 L888.1 546.4 L888.8 546.4 L889.5 546.7 L890.2 546.3 L890.9 546.5 L891.6 546.0 L892.3 546.0 L893.0 546.6 L893.7 546.6 L894.4 546.4 L895.1 546.3 L895.8 546.3 L896.5 546.1 L897.2 546.6 L897.9 546.4 L898.6 546.4 L899.3 546.4 L900.0 546.5 L900.7 546.4 L901.4 546.4 L902.1 546.0 L902.8 546.4 L903.5 546.8 L904.2 546.2 L904.9 546.2 L905.6 546.5 L906.3 546.5 L907.0 546.4 L907.7 545.9 L908.4 546.4 L909.1 546.0 L909.8 546.1 L910.5 546.4 L911.2 546.2 L911.9 546.5 L912.6 547.0 L913.3 546.4 L914.0 546.4 L914.7 546.1 L915.4 546.1 L916.1 546.0 L916.8 546.2 L917.5 546.0 L918.2 546.1 L918.9 546.2 L919.6 546.1 L920.3 546.0 L920.8 550.5" fill="none" stroke="#000" stroke-width="0.85"/>
<path d="M655.7 550.5 L655.7 546.7 L656.4 547.1 L657.1 547.1 L657.8 547.4 L658.5 547.4 L659.2 547.1 L659.9 547.4 L660.6 546.9 L661.3 547.8 L662.0 547.5 L662.7 547.2 L663.4 547.0 L664.1 547.4 L664.8 546.9 L665.5 547.2 L666.2 547.5 L666.9 547.4 L667.6 547.3 L668.3 547.6 L669.0 547.1 L669.7 547.4 L670.4 547.3 L671.1 547.2 L671.8 547.5 L672.5 547.2 L673.2 547.8 L673.9 547.3 L674.6 547.8 L675.3 547.2 L676.0 547.6 L676.7 547.2 L677.4 547.1 L678.1 547.5 L678.8 547.6 L679.5 547.2 L680.2 547.7 L680.9 547.3 L681.6 547.5 L682.3 547.5 L683.0 547.6 L683.7 547.0 L684.4 547.8 L685.1 547.6 L685.8 547.4 L686.5 547.2 L687.2 547.1 L687.9 547.2 L688.6 547.6 L689.3 547.4 L690.0 547.2 L690.7 547.3 L691.4 547.8 L692.1 547.4 L692.8 547.3 L693.5 547.8 L694.2 547.6 L694.9 547.5 L695.6 547.3 L696.3 547.1 L697.0 547.2 L697.7 547.4 L698.4 547.4 L699.1 547.6 L699.8 547.6 L700.5 547.5 L701.2 547.5 L701.9 547.3 L702.6 547.0 L703.3 547.4 L704.0 547.3 L704.7 547.3 L705.4 547.4 L706.1 547.2 L706.8 547.2 L707.5 547.5 L708.2 547.5 L708.9 547.4 L709.6 547.6 L710.3 547.5 L711.0 547.3 L711.7 547.5 L712.4 547.9 L713.1 547.4 L713.8 547.8 L714.5 547.8 L715.2 547.8 L715.9 547.3 L716.6 548.0 L717.3 547.5 L718.0 547.5 L718.7 547.5 L719.4 547.6 L720.1 547.5 L720.8 547.5 L721.5 547.8 L722.2 547.4 L722.9 547.3 L723.6 547.7 L724.3 547.7 L725.0 547.8 L725.7 547.3 L726.4 547.8 L727.1 547.6 L727.8 547.9 L728.5 547.2 L729.2 547.6 L729.9 547.5 L730.6 547.2 L731.3 547.4 L732.0 547.8 L732.7 547.4 L733.4 547.4 L734.1 547.7 L734.8 547.7 L735.5 547.7 L736.2 547.4 L736.9 547.5 L737.6 547.8 L738.3 547.4 L739.0 547.4 L739.7 547.7 L740.4 547.9 L741.1 547.3 L741.8 547.0 L742.5 547.2 L743.2 547.3 L743.9 547.5 L744.6 547.7 L745.3 547.5 L746.0 547.4 L746.7 547.6 L747.4 547.3 L748.1 547.5 L748.8 547.4 L749.5 548.1 L750.2 547.7 L750.9 547.4 L751.6 547.3 L752.3 547.4 L753.0 547.2 L753.7 547.4 L754.4 547.4 L755.1 547.7 L755.8 547.4 L756.5 547.4 L757.2 547.2 L757.9 547.3 L758.6 547.5 L759.3 547.5 L760.0 547.8 L760.7 547.4 L761.4 547.8 L762.1 547.6 L762.8 547.5 L763.5 547.1 L764.2 547.3 L764.9 547.7 L765.6 547.9 L766.3 547.6 L767.0 547.7 L767.7 547.5 L768.4 547.5 L769.1 547.4 L769.8 547.8 L770.5 547.6 L771.2 547.5 L771.9 547.5 L772.6 547.7 L773.3 547.6 L774.0 547.4 L774.7 547.9 L775.4 547.6 L776.1 547.6 L776.8 547.9 L777.5 547.8 L778.2 547.5 L778.9 547.7 L779.6 547.3 L780.3 547.4 L781.0 547.1 L781.7 547.8 L782.4 547.1 L783.1 547.7 L783.8 547.4 L784.5 547.3 L785.2 547.5 L785.9 547.6 L786.6 547.7 L787.3 547.9 L788.0 547.6 L788.7 547.8 L789.4 547.4 L790.1 547.7 L790.8 547.6 L791.5 547.5 L792.2 547.5 L792.9 547.5 L793.6 547.6 L794.3 547.6 L795.0 547.4 L795.7 547.4 L796.4 547.7 L797.1 547.2 L797.8 547.4 L798.5 547.9 L799.2 547.0 L799.9 547.4 L800.6 547.7 L801.3 547.2 L802.0 548.1 L802.7 547.0 L803.4 547.9 L804.1 547.9 L804.8 547.8 L805.5 547.5 L806.2 547.6 L806.9 547.4 L807.6 547.7 L808.3 547.3 L809.0 547.5 L809.7 547.8 L810.4 547.3 L811.1 547.5 L811.8 547.6 L812.5 547.3 L813.2 547.8 L813.9 547.6 L814.6 547.2 L815.3 547.6 L816.0 547.4 L816.7 547.4 L817.4 547.6 L818.1 547.4 L818.8 547.8 L819.5 547.4 L820.2 547.8 L820.9 547.6 L821.6 547.8 L822.3 547.5 L823.0 547.5 L823.7 547.3 L824.4 547.7 L825.1 547.8 L825.8 548.0 L826.5 547.9 L827.2 547.6 L827.9 547.5 L828.6 547.7 L829.3 547.6 L830.0 547.9 L830.7 547.8 L831.4 547.4 L832.1 547.4 L832.8 547.9 L833.5 547.6 L834.2 547.5 L834.9 547.8 L835.6 547.5 L836.3 547.5 L837.0 547.5 L837.7 547.1 L838.4 547.8 L839.1 547.3 L839.8 547.4 L840.5 547.4 L841.2 547.7 L841.9 547.6 L842.6 547.6 L843.3 547.2 L844.0 547.6 L844.7 547.3 L845.4 547.6 L846.1 547.7 L846.8 547.6 L847.5 548.0 L848.2 547.7 L848.9 547.7 L849.6 547.6 L850.3 547.5 L851.0 547.8 L851.7 547.8 L852.4 547.3 L853.1 547.8 L853.8 547.7 L854.5 547.8 L855.2 547.7 L855.9 547.3 L856.6 547.3 L857.3 548.0 L858.0 547.6 L858.7 547.3 L859.4 547.7 L860.1 547.5 L860.8 547.2 L861.5 547.1 L862.2 547.2 L862.9 547.6 L863.6 547.6 L864.3 547.5 L865.0 547.6 L865.7 547.7 L866.4 547.1 L867.1 547.5 L867.8 547.4 L868.5 547.3 L869.2 547.5 L869.9 547.6 L870.6 547.5 L871.3 547.3 L872.0 547.5 L872.7 548.0 L873.4 547.3 L874.1 547.2 L874.8 547.6 L875.5 547.7 L876.2 547.7 L876.9 547.3 L877.6 547.8 L878.3 547.4 L879.0 547.3 L879.7 547.4 L880.4 547.6 L881.1 547.7 L881.8 547.7 L882.5 547.6 L883.2 547.8 L883.9 547.6 L884.6 547.8 L885.3 547.3 L886.0 547.2 L886.7 547.8 L887.4 547.3 L888.1 547.5 L888.8 547.6 L889.5 547.5 L890.2 547.5 L890.9 547.9 L891.6 547.0 L892.3 547.8 L893.0 548.1 L893.7 547.6 L894.4 547.6 L895.1 547.7 L895.8 548.0 L896.5 547.3 L897.2 547.6 L897.9 547.5 L898.6 547.7 L899.3 547.6 L900.0 547.7 L900.7 547.5 L901.4 547.6 L902.1 547.4 L902.8 547.4 L903.5 547.6 L904.2 547.6 L904.9 547.3 L905.6 547.9 L906.3 547.6 L907.0 547.3 L907.7 547.8 L908.4 547.4 L909.1 547.7 L909.8 547.6 L910.5 547.6 L911.2 547.6 L911.9 547.5 L912.6 547.6 L913.3 548.0 L914.0 547.1 L914.7 547.6 L915.4 547.7 L916.1 547.4 L916.8 547.3 L917.5 548.1 L918.2 547.5 L918.9 548.0 L919.6 547.7 L920.3 547.6 L920.8 550.5" fill="none" stroke="#000" stroke-width="0.85"/>
<path d="M655.7 550.5 L655.7 548.5 L656.4 548.6 L657.1 548.7 L657.8 548.6 L658.5 548.5 L659.2 548.5 L659.9 548.8 L660.6 548.7 L661.3 548.3 L662.0 548.4 L662.7 548.6 L663.4 548.4 L664.1 548.5 L664.8 548.4 L665.5 548.5 L666.2 548.7 L666.9 548.8 L667.6 548.6 L668.3 549.0 L669.0 548.6 L669.7 549.3 L670.4 548.8 L671.1 548.7 L671.8 548.5 L672.5 548.0 L673.2 548.6 L673.9 548.6 L674.6 549.0 L675.3 548.3 L676.0 549.0 L676.7 548.6 L677.4 548.8 L678.1 548.1 L678.8 548.6 L679.5 548.5 L680.2 548.8 L680.9 548.6 L681.6 548.4 L682.3 548.8 L683.0 548.8 L683.7 548.8 L684.4 548.8 L685.1 548.9 L685.8 548.6 L686.5 548.3 L687.2 548.3 L687.9 548.9 L688.6 548.8 L689.3 548.7 L690.0 548.5 L690.7 548.6 L691.4 548.6 L692.1 548.6 L692.8 548.5 L693.5 549.1 L694.2 548.7 L694.9 548.5 L695.6 548.4 L696.3 548.5 L697.0 548.8 L697.7 548.8 L698.4 548.6 L699.1 548.7 L699.8 548.6 L700.5 548.4 L701.2 548.9 L701.9 548.7 L702.6 549.2 L703.3 548.5 L704.0 548.6 L704.7 548.8 L705.4 548.6 L706.1 548.3 L706.8 548.4 L707.5 548.7 L708.2 548.7 L708.9 548.6 L709.6 548.9 L710.3 548.9 L711.0 548.7 L711.7 548.7 L712.4 548.6 L713.1 548.8 L713.8 548.9 L714.5 548.7 L715.2 548.8 L715.9 548.6 L716.6 548.3 L717.3 548.4 L718.0 548.8 L718.7 548.8 L719.4 549.0 L720.1 548.7 L720.8 548.8 L721.5 548.9 L722.2 548.9 L722.9 548.5 L723.6 548.6 L724.3 548.7 L725.0 548.4 L725.7 548.8 L726.4 548.9 L727.1 548.6 L727.8 549.1 L728.5 548.6 L729.2 548.6 L729.9 548.6 L730.6 548.5 L731.3 548.8 L732.0 548.7 L732.7 549.0 L733.4 548.8 L734.1 548.8 L734.8 548.6 L735.5 548.4 L736.2 548.6 L736.9 548.5 L737.6 548.9 L738.3 548.7 L739.0 549.0 L739.7 548.8 L740.4 548.8 L741.1 548.7 L741.8 548.7 L742.5 548.8 L743.2 548.9 L743.9 548.5 L744.6 548.8 L745.3 549.2 L746.0 548.6 L746.7 548.6 L747.4 548.5 L748.1 548.4 L748.8 548.9 L749.5 548.7 L750.2 548.7 L750.9 549.1 L751.6 549.2 L752.3 548.5 L753.0 548.9 L753.7 548.8 L754.4 548.8 L755.1 548.8 L755.8 548.7 L756.5 549.0 L757.2 548.8 L757.9 548.7 L758.6 548.9 L759.3 548.9 L760.0 548.8 L760.7 548.7 L761.4 549.1 L762.1 548.8 L762.8 548.7 L763.5 548.5 L764.2 548.6 L764.9 548.4 L765.6 548.7 L766.3 548.7 L767.0 548.2 L767.7 548.7 L768.4 548.8 L769.1 548.7 L769.8 548.5 L770.5 549.0 L771.2 548.5 L771.9 548.4 L772.6 548.4 L773.3 548.7 L774.0 548.9 L774.7 548.9 L775.4 548.7 L776.1 548.4 L776.8 548.5 L777.5 548.5 L778.2 548.6 L778.9 548.3 L779.6 548.7 L780.3 548.8 L781.0 548.6 L781.7 548.8 L782.4 548.5 L783.1 548.4 L783.8 548.5 L784.5 548.9 L785.2 548.9 L785.9 548.6 L786.6 548.9 L787.3 548.6 L788.0 549.0 L788.7 548.8 L789.4 548.6 L790.1 548.9 L790.8 548.5 L791.5 548.5 L792.2 548.4 L792.9 548.7 L793.6 548.7 L794.3 548.7 L795.0 548.6 L795.7 549.0 L796.4 548.6 L797.1 548.5 L797.8 549.0 L798.5 549.0 L799.2 548.8 L799.9 548.3 L800.6 548.5 L801.3 548.8 L802.0 548.7 L802.7 549.0 L803.4 548.4 L804.1 548.8 L804.8 548.5 L805.5 549.0 L806.2 548.7 L806.9 548.9 L807.6 548.5 L808.3 548.4 L809.0 548.4 L809.7 548.5 L810.4 548.5 L811.1 548.9 L811.8 549.0 L812.5 548.7 L813.2 548.5 L813.9 548.7 L814.6 548.5 L815.3 549.0 L816.0 548.8 L816.7 548.8 L817.4 548.6 L818.1 548.2 L818.8 548.5 L819.5 548.4 L820.2 548.8 L820.9 548.7 L821.6 548.5 L822.3 548.6 L823.0 549.0 L823.7 548.5 L824.4 548.5 L825.1 548.6 L825.8 548.5 L826.5 548.6 L827.2 548.8 L827.9 549.1 L828.6 548.3 L829.3 548.7 L830.0 548.7 L830.7 548.7 L831.4 548.6 L832.1 548.6 L832.8 548.9 L833.5 548.6 L834.2 548.7 L834.9 548.7 L835.6 548.7 L836.3 548.6 L837.0 548.9 L837.7 548.7 L838.4 548.7 L839.1 548.7 L839.8 548.5 L840.5 548.5 L841.2 548.5 L841.9 548.7 L842.6 548.5 L843.3 548.5 L844.0 548.7 L844.7 548.8 L845.4 548.3 L846.1 549.1 L846.8 548.7 L847.5 548.7 L848.2 548.9 L848.9 548.7 L849.6 548.6 L850.3 549.2 L851.0 548.5 L851.7 548.7 L852.4 548.9 L853.1 548.5 L853.8 548.7 L854.5 548.8 L855.2 549.2 L855.9 548.5 L856.6 548.7 L857.3 548.8 L858.0 548.7 L858.7 548.4 L859.4 548.8 L860.1 548.7 L860.8 548.8 L861.5 548.9 L862.2 548.9 L862.9 548.8 L863.6 548.8 L864.3 548.4 L865.0 548.7 L865.7 548.7 L866.4 548.6 L867.1 548.7 L867.8 548.5 L868.5 549.0 L869.2 549.2 L869.9 548.6 L870.6 548.8 L871.3 548.6 L872.0 549.0 L872.7 548.8 L873.4 548.7 L874.1 548.6 L874.8 548.7 L875.5 548.5 L876.2 548.8 L876.9 548.5 L877.6 548.8 L878.3 548.7 L879.0 548.9 L879.7 548.7 L880.4 548.9 L881.1 548.5 L881.8 548.8 L882.5 548.6 L883.2 548.7 L883.9 548.7 L884.6 548.9 L885.3 548.2 L886.0 548.8 L886.7 548.4 L887.4 549.0 L888.1 548.3 L888.8 548.5 L889.5 548.3 L890.2 549.1 L890.9 548.4 L891.6 548.7 L892.3 548.6 L893.0 548.3 L893.7 548.6 L894.4 548.8 L895.1 548.7 L895.8 548.9 L896.5 548.6 L897.2 548.7 L897.9 548.6 L898.6 548.8 L899.3 549.1 L900.0 548.8 L900.7 548.7 L901.4 548.6 L902.1 548.5 L902.8 549.0 L903.5 548.4 L904.2 548.5 L904.9 548.7 L905.6 548.6 L906.3 549.1 L907.0 548.2 L907.7 548.8 L908.4 548.8 L909.1 548.4 L909.8 548.6 L910.5 548.8 L911.2 549.1 L911.9 548.5 L912.6 548.3 L913.3 548.9 L914.0 549.0 L914.7 548.6 L915.4 548.2 L916.1 549.0 L916.8 548.6 L917.5 548.9 L918.2 548.7 L918.9 548.6 L919.6 548.6 L920.3 549.0 L920.8 550.5" fill="none" stroke="#000" stroke-width="0.85"/>
<path d="M655.7 550.5 L655.7 549.8 L656.4 549.0 L657.1 549.3 L657.8 549.9 L658.5 549.4 L659.2 549.2 L659.9 549.5 L660.6 549.5 L661.3 549.5 L662.0 549.4 L662.7 549.5 L663.4 549.4 L664.1 549.6 L664.8 549.4 L665.5 549.5 L666.2 549.5 L666.9 549.8 L667.6 549.6 L668.3 549.5 L669.0 549.7 L669.7 549.7 L670.4 549.8 L671.1 549.7 L671.8 550.0 L672.5 549.9 L673.2 549.6 L673.9 549.5 L674.6 549.8 L675.3 549.7 L676.0 549.5 L676.7 549.2 L677.4 549.2 L678.1 549.6 L678.8 549.7 L679.5 549.7 L680.2 549.3 L680.9 549.8 L681.6 549.5 L682.3 549.7 L683.0 549.7 L683.7 549.4 L684.4 549.4 L685.1 549.1 L685.8 549.4 L686.5 549.2 L687.2 549.7 L687.9 549.6 L688.6 549.8 L689.3 549.7 L690.0 549.4 L690.7 549.7 L691.4 549.5 L692.1 549.7 L692.8 549.6 L693.5 549.4 L694.2 549.6 L694.9 549.6 L695.6 549.5 L696.3 549.8 L697.0 550.0 L697.7 549.5 L698.4 549.5 L699.1 549.1 L699.8 549.6 L700.5 549.5 L701.2 549.1 L701.9 549.6 L702.6 549.7 L703.3 549.4 L704.0 549.5 L704.7 549.4 L705.4 549.7 L706.1 549.2 L706.8 549.5 L707.5 550.0 L708.2 549.6 L708.9 549.7 L709.6 549.6 L710.3 549.3 L711.0 549.6 L711.7 549.7 L712.4 549.4 L713.1 549.7 L713.8 549.9 L714.5 549.8 L715.2 549.2 L715.9 549.4 L716.6 549.2 L717.3 549.8 L718.0 549.7 L718.7 549.7 L719.4 549.4 L720.1 549.3 L720.8 549.6 L721.5 549.6 L722.2 549.4 L722.9 549.6 L723.6 549.7 L724.3 549.6 L725.0 549.4 L725.7 549.1 L726.4 549.5 L727.1 549.6 L727.8 549.5 L728.5 549.5 L729.2 549.4 L729.9 549.7 L730.6 549.6 L731.3 549.6 L732.0 549.4 L732.7 549.5 L733.4 549.6 L734.1 549.4 L734.8 549.3 L735.5 549.5 L736.2 549.9 L736.9 549.6 L737.6 549.9 L738.3 549.6 L739.0 549.5 L739.7 549.3 L740.4 549.5 L741.1 549.9 L741.8 549.7 L742.5 549.8 L743.2 549.7 L743.9 549.6 L744.6 549.5 L745.3 549.6 L746.0 549.7 L746.7 549.7 L747.4 549.7 L748.1 549.6 L748.8 549.4 L749.5 549.5 L750.2 549.4 L750.9 549.8 L751.6 549.1 L752.3 549.5 L753.0 550.1 L753.7 549.5 L754.4 549.3 L755.1 549.6 L755.8 549.9 L756.5 549.6 L757.2 549.7 L757.9 549.6 L758.6 549.5 L759.3 550.3 L760.0 549.6 L760.7 549.5 L761.4 549.5 L762.1 549.7 L762.8 549.7 L763.5 549.8 L764.2 549.6 L764.9 549.3 L765.6 549.7 L766.3 549.5 L767.0 549.5 L767.7 549.3 L768.4 549.5 L769.1 549.4 L769.8 549.6 L770.5 549.3 L771.2 549.6 L771.9 549.6 L772.6 549.3 L773.3 549.5 L774.0 549.4 L774.7 549.8 L775.4 549.0 L776.1 549.5 L776.8 549.2 L777.5 549.5 L778.2 549.8 L778.9 549.5 L779.6 549.6 L780.3 549.4 L781.0 550.0 L781.7 549.8 L782.4 549.8 L783.1 549.3 L783.8 549.4 L784.5 549.8 L785.2 549.6 L785.9 549.5 L786.6 549.7 L787.3 549.3 L788.0 549.8 L788.7 549.6 L789.4 549.7 L790.1 549.4 L790.8 549.7 L791.5 549.4 L792.2 549.8 L792.9 549.8 L793.6 549.8 L794.3 549.7 L795.0 549.7 L795.7 549.0 L796.4 549.8 L797.1 549.5 L797.8 549.6 L798.5 549.5 L799.2 549.3 L799.9 549.5 L800.6 549.7 L801.3 549.9 L802.0 549.5 L802.7 549.4 L803.4 549.9 L804.1 549.4 L804.8 550.1 L805.5 549.6 L806.2 549.4 L806.9 549.8 L807.6 550.0 L808.3 549.3 L809.0 549.9 L809.7 549.5 L810.4 549.9 L811.1 549.5 L811.8 549.2 L812.5 549.7 L813.2 549.8 L813.9 550.1 L814.6 550.0 L815.3 549.7 L816.0 549.5 L816.7 549.5 L817.4 549.5 L818.1 549.4 L818.8 549.5 L819.5 549.0 L820.2 549.6 L820.9 549.6 L821.6 550.2 L822.3 549.8 L823.0 549.5 L823.7 549.7 L824.4 549.3 L825.1 549.5 L825.8 549.2 L826.5 549.9 L827.2 549.7 L827.9 549.3 L828.6 549.6 L829.3 549.8 L830.0 549.7 L830.7 549.7 L831.4 549.4 L832.1 549.5 L832.8 549.6 L833.5 549.8 L834.2 549.4 L834.9 549.3 L835.6 549.8 L836.3 549.4 L837.0 549.8 L837.7 549.6 L838.4 549.8 L839.1 550.0 L839.8 549.7 L840.5 549.8 L841.2 549.4 L841.9 549.4 L842.6 549.7 L843.3 549.9 L844.0 549.9 L844.7 550.1 L845.4 549.7 L846.1 549.6 L846.8 549.8 L847.5 549.6 L848.2 549.6 L848.9 549.4 L849.6 549.8 L850.3 549.4 L851.0 549.7 L851.7 549.3 L852.4 549.8 L853.1 549.4 L853.8 549.8 L854.5 549.2 L855.2 549.5 L855.9 549.9 L856.6 549.4 L857.3 549.6 L858.0 549.5 L858.7 549.1 L859.4 549.7 L860.1 549.7 L860.8 549.4 L861.5 549.7 L862.2 549.4 L862.9 549.4 L863.6 549.6 L864.3 549.4 L865.0 550.1 L865.7 549.3 L866.4 549.8 L867.1 549.8 L867.8 549.2 L868.5 549.2 L869.2 549.7 L869.9 549.5 L870.6 549.7 L871.3 549.8 L872.0 549.5 L872.7 549.4 L873.4 549.0 L874.1 549.6 L874.8 549.4 L875.5 549.7 L876.2 549.6 L876.9 549.3 L877.6 550.0 L878.3 549.8 L879.0 549.8 L879.7 549.3 L880.4 549.5 L881.1 549.5 L881.8 549.5 L882.5 549.3 L883.2 549.7 L883.9 549.6 L884.6 549.7 L885.3 549.5 L886.0 549.9 L886.7 549.6 L887.4 549.0 L888.1 549.5 L888.8 549.6 L889.5 549.8 L890.2 549.5 L890.9 549.5 L891.6 549.5 L892.3 549.7 L893.0 549.5 L893.7 549.5 L894.4 549.4 L895.1 549.7 L895.8 549.5 L896.5 549.2 L897.2 549.7 L897.9 549.4 L898.6 549.7 L899.3 549.7 L900.0 549.9 L900.7 549.8 L901.4 549.5 L902.1 549.6 L902.8 549.3 L903.5 550.0 L904.2 549.7 L904.9 549.9 L905.6 549.5 L906.3 549.1 L907.0 549.9 L907.7 549.6 L908.4 549.6 L909.1 549.6 L909.8 549.7 L910.5 549.7 L911.2 549.2 L911.9 549.8 L912.6 549.5 L913.3 549.5 L914.0 550.0 L914.7 549.8 L915.4 549.5 L916.1 549.2 L916.8 549.6 L917.5 549.7 L918.2 549.6 L918.9 549.3 L919.6 549.4 L920.3 549.3 L920.8 550.5" fill="none" stroke="#000" stroke-width="0.85"/>
<path d="M655.7 550.5 L655.7 550.4 L656.4 550.6 L657.1 550.6 L657.8 550.2 L658.5 550.5 L659.2 550.5 L659.9 550.3 L660.6 550.4 L661.3 550.9 L662.0 550.4 L662.7 550.6 L663.4 550.3 L664.1 550.4 L664.8 550.0 L665.5 550.4 L666.2 550.7 L666.9 550.9 L667.6 550.7 L668.3 550.6 L669.0 550.4 L669.7 550.3 L670.4 550.4 L671.1 550.5 L671.8 550.2 L672.5 550.6 L673.2 550.2 L673.9 550.0 L674.6 550.2 L675.3 550.0 L676.0 550.1 L676.7 550.6 L677.4 550.4 L678.1 550.4 L678.8 550.7 L679.5 550.7 L680.2 550.3 L680.9 550.7 L681.6 550.5 L682.3 550.4 L683.0 550.5 L683.7 550.1 L684.4 550.2 L685.1 550.4 L685.8 550.5 L686.5 550.3 L687.2 550.4 L687.9 550.6 L688.6 550.7 L689.3 550.6 L690.0 550.7 L690.7 550.3 L691.4 550.3 L692.1 550.5 L692.8 550.3 L693.5 550.3 L694.2 550.8 L694.9 550.4 L695.6 550.2 L696.3 550.5 L697.0 550.8 L697.7 550.4 L698.4 550.7 L699.1 550.3 L699.8 550.3 L700.5 550.2 L701.2 550.4 L701.9 550.8 L702.6 550.1 L703.3 550.8 L704.0 550.2 L704.7 550.3 L705.4 550.6 L706.1 550.5 L706.8 550.5 L707.5 550.0 L708.2 550.5 L708.9 550.2 L709.6 551.0 L710.3 550.4 L711.0 550.4 L711.7 550.1 L712.4 550.3 L713.1 550.1 L713.8 550.6 L714.5 550.3 L715.2 550.5 L715.9 550.2 L716.6 550.3 L717.3 550.7 L718.0 550.2 L718.7 550.0 L719.4 550.5 L720.1 550.1 L720.8 550.3 L721.5 550.6 L722.2 550.2 L722.9 550.6 L723.6 550.3 L724.3 550.7 L725.0 550.7 L725.7 550.3 L726.4 550.4 L727.1 550.2 L727.8 550.4 L728.5 550.7 L729.2 550.1 L729.9 550.6 L730.6 550.1 L731.3 550.2 L732.0 550.0 L732.7 550.9 L733.4 550.4 L734.1 550.5 L734.8 550.3 L735.5 550.6 L736.2 549.9 L736.9 550.4 L737.6 550.9 L738.3 550.3 L739.0 550.4 L739.7 550.5 L740.4 550.2 L741.1 550.4 L741.8 550.6 L742.5 550.4 L743.2 550.5 L743.9 550.3 L744.6 550.5 L745.3 550.4 L746.0 550.7 L746.7 550.6 L747.4 550.3 L748.1 549.9 L748.8 550.6 L749.5 550.6 L750.2 550.2 L750.9 550.0 L751.6 550.1 L752.3 550.6 L753.0 550.2 L753.7 550.3 L754.4 550.4 L755.1 550.7 L755.8 550.4 L756.5 550.4 L757.2 550.3 L757.9 550.8 L758.6 550.6 L759.3 550.4 L760.0 550.1 L760.7 550.2 L761.4 550.5 L762.1 550.2 L762.8 550.6 L763.5 550.5 L764.2 550.5 L764.9 550.5 L765.6 550.5 L766.3 550.2 L767.0 550.3 L767.7 550.9 L768.4 550.1 L769.1 550.3 L769.8 550.6 L770.5 550.4 L771.2 550.2 L771.9 550.1 L772.6 550.5 L773.3 550.6 L774.0 550.7 L774.7 550.4 L775.4 550.6 L776.1 550.2 L776.8 550.4 L777.5 550.3 L778.2 550.4 L778.9 550.6 L779.6 550.6 L780.3 550.2 L781.0 550.7 L781.7 550.3 L782.4 550.2 L783.1 550.4 L783.8 550.1 L784.5 550.4 L785.2 550.5 L785.9 550.4 L786.6 550.5 L787.3 550.3 L788.0 550.4 L788.7 550.1 L789.4 550.4 L790.1 550.2 L790.8 550.3 L791.5 550.4 L792.2 550.4 L792.9 550.0 L793.6 550.1 L794.3 550.3 L795.0 550.5 L795.7 550.5 L796.4 550.6 L797.1 550.7 L797.8 550.5 L798.5 550.4 L799.2 550.2 L799.9 550.2 L800.6 550.3 L801.3 550.5 L802.0 550.4 L802.7 550.4 L803.4 550.4 L804.1 550.5 L804.8 550.4 L805.5 550.5 L806.2 550.5 L806.9 550.3 L807.6 550.2 L808.3 550.5 L809.0 550.5 L809.7 550.4 L810.4 550.3 L811.1 550.9 L811.8 550.2 L812.5 550.4 L813.2 550.5 L813.9 550.1 L814.6 550.4 L815.3 550.8 L816.0 550.6 L816.7 550.5 L817.4 550.5 L818.1 550.4 L818.8 550.6 L819.5 550.4 L820.2 550.3 L820.9 550.4 L821.6 550.6 L822.3 550.5 L823.0 550.5 L823.7 550.0 L824.4 550.7 L825.1 550.9 L825.8 550.7 L826.5 550.3 L827.2 550.2 L827.9 550.5 L828.6 550.2 L829.3 550.6 L830.0 550.3 L830.7 550.6 L831.4 550.7 L832.1 550.0 L832.8 550.5 L833.5 550.2 L834.2 550.1 L834.9 550.3 L835.6 550.4 L836.3 550.6 L837.0 550.1 L837.7 550.6 L838.4 550.8 L839.1 550.5 L839.8 550.5 L840.5 550.4 L841.2 550.1 L841.9 550.5 L842.6 550.5 L843.3 550.6 L844.0 551.0 L844.7 550.6 L845.4 550.5 L846.1 550.7 L846.8 550.1 L847.5 550.1 L848.2 550.3 L848.9 550.3 L849.6 550.6 L850.3 550.3 L851.0 550.8 L851.7 550.7 L852.4 550.6 L853.1 550.3 L853.8 550.5 L854.5 550.6 L855.2 550.2 L855.9 550.5 L856.6 550.6 L857.3 550.4 L858.0 550.7 L858.7 550.7 L859.4 550.2 L860.1 550.4 L860.8 550.2 L861.5 550.5 L862.2 550.2 L862.9 550.6 L863.6 550.5 L864.3 550.6 L865.0 550.4 L865.7 550.1 L866.4 550.8 L867.1 550.4 L867.8 550.7 L868.5 550.5 L869.2 550.5 L869.9 550.8 L870.6 550.5 L871.3 550.7 L872.0 550.1 L872.7 550.6 L873.4 550.3 L874.1 550.4 L874.8 550.4 L875.5 550.5 L876.2 550.8 L876.9 550.0 L877.6 550.4 L878.3 550.2 L879.0 550.7 L879.7 550.3 L880.4 550.5 L881.1 550.3 L881.8 550.5 L882.5 550.6 L883.2 550.3 L883.9 550.4 L884.6 550.1 L885.3 550.5 L886.0 550.6 L886.7 550.3 L887.4 550.6 L888.1 549.9 L888.8 550.0 L889.5 550.1 L890.2 550.3 L890.9 550.4 L891.6 550.4 L892.3 550.4 L893.0 550.6 L893.7 550.3 L894.4 550.1 L895.1 550.1 L895.8 550.9 L896.5 549.9 L897.2 550.4 L897.9 550.7 L898.6 550.5 L899.3 550.2 L900.0 550.4 L900.7 550.6 L901.4 550.7 L902.1 550.2 L902.8 550.6 L903.5 550.5 L904.2 550.6 L904.9 550.7 L905.6 550.3 L906.3 550.1 L907.0 550.5 L907.7 550.8 L908.4 550.6 L909.1 550.5 L909.8 550.9 L910.5 550.2 L911.2 550.6 L911.9 550.3 L912.6 550.4 L913.3 550.4 L914.0 550.7 L914.7 550.2 L915.4 550.3 L916.1 550.0 L916.8 550.5 L917.5 550.3 L918.2 550.5 L918.9 550.2 L919.6 550.3 L920.3 550.6 L920.8 550.5" fill="none" stroke="#000" stroke-width="0.85"/>
<path d="M655.7 550.5 L655.7 551.2 L656.4 551.3 L657.1 551.3 L657.8 551.1 L658.5 550.9 L659.2 551.4 L659.9 551.2 L660.6 551.4 L661.3 550.8 L662.0 550.8 L662.7 550.7 L663.4 551.0 L664.1 551.4 L664.8 551.3 L665.5 551.2 L666.2 551.2 L666.9 551.4 L667.6 551.1 L668.3 551.3 L669.0 551.2 L669.7 550.7 L670.4 551.1 L671.1 551.5 L671.8 551.1 L672.5 551.2 L673.2 551.1 L673.9 551.1 L674.6 551.4 L675.3 551.1 L676.0 551.0 L676.7 550.5 L677.4 551.1 L678.1 550.8 L678.8 550.8 L679.5 551.4 L680.2 551.4 L680.9 550.8 L681.6 551.4 L682.3 551.3 L683.0 551.0 L683.7 551.4 L684.4 550.8 L685.1 550.9 L685.8 550.9 L686.5 551.0 L687.2 551.4 L687.9 550.9 L688.6 550.9 L689.3 551.0 L690.0 551.2 L690.7 551.1 L691.4 551.4 L692.1 551.0 L692.8 550.9 L693.5 551.1 L694.2 551.2 L694.9 551.0 L695.6 551.3 L696.3 551.6 L697.0 551.1 L697.7 551.2 L698.4 551.5 L699.1 551.1 L699.8 551.0 L700.5 551.0 L701.2 551.3 L701.9 551.3 L702.6 551.2 L703.3 551.2 L704.0 551.5 L704.7 551.4 L705.4 550.9 L706.1 551.2 L706.8 551.2 L707.5 551.4 L708.2 551.1 L708.9 551.1 L709.6 551.1 L710.3 550.8 L711.0 551.2 L711.7 551.1 L712.4 551.3 L713.1 551.0 L713.8 551.1 L714.5 551.0 L715.2 551.0 L715.9 551.3 L716.6 551.1 L717.3 551.3 L718.0 550.9 L718.7 551.2 L719.4 550.8 L720.1 551.1 L720.8 551.1 L721.5 551.3 L722.2 551.2 L722.9 551.2 L723.6 551.4 L724.3 551.2 L725.0 551.3 L725.7 551.4 L726.4 551.2 L727.1 551.1 L727.8 551.3 L728.5 551.1 L729.2 551.3 L729.9 551.4 L730.6 551.4 L731.3 551.1 L732.0 550.9 L732.7 551.2 L733.4 551.2 L734.1 551.4 L734.8 551.1 L735.5 551.1 L736.2 551.4 L736.9 551.1 L737.6 551.2 L738.3 551.6 L739.0 551.5 L739.7 551.3 L740.4 551.2 L741.1 551.0 L741.8 551.3 L742.5 551.2 L743.2 551.2 L743.9 551.1 L744.6 551.2 L745.3 551.1 L746.0 551.3 L746.7 551.5 L747.4 551.3 L748.1 550.8 L748.8 551.0 L749.5 550.8 L750.2 551.0 L750.9 551.3 L751.6 551.3 L752.3 551.1 L753.0 551.2 L753.7 551.0 L754.4 550.9 L755.1 550.9 L755.8 551.0 L756.5 551.5 L757.2 550.9 L757.9 551.5 L758.6 551.5 L759.3 551.1 L760.0 551.2 L760.7 551.1 L761.4 551.2 L762.1 551.3 L762.8 551.2 L763.5 551.4 L764.2 551.4 L764.9 551.3 L765.6 551.3 L766.3 551.2 L767.0 551.3 L767.7 550.9 L768.4 551.3 L769.1 551.2 L769.8 551.0 L770.5 551.7 L771.2 551.0 L771.9 551.0 L772.6 551.2 L773.3 550.8 L774.0 551.0 L774.7 550.9 L775.4 551.0 L776.1 551.2 L776.8 551.3 L777.5 551.4 L778.2 551.4 L778.9 551.4 L779.6 551.3 L780.3 551.1 L781.0 551.4 L781.7 551.1 L782.4 551.1 L783.1 551.5 L783.8 551.4 L784.5 551.2 L785.2 551.4 L785.9 551.4 L786.6 550.9 L787.3 551.2 L788.0 550.9 L788.7 551.2 L789.4 551.0 L790.1 551.5 L790.8 551.3 L791.5 551.0 L792.2 551.2 L792.9 550.9 L793.6 551.2 L794.3 551.3 L795.0 551.2 L795.7 550.8 L796.4 551.1 L797.1 551.3 L797.8 551.3 L798.5 551.4 L799.2 550.9 L799.9 551.3 L800.6 551.0 L801.3 551.2 L802.0 551.3 L802.7 551.3 L803.4 551.1 L804.1 551.2 L804.8 550.9 L805.5 550.9 L806.2 551.3 L806.9 551.2 L807.6 550.8 L808.3 551.0 L809.0 551.2 L809.7 551.5 L810.4 551.4 L811.1 551.4 L811.8 550.8 L812.5 551.2 L813.2 551.3 L813.9 551.3 L814.6 551.3 L815.3 551.1 L816.0 551.6 L816.7 551.5 L817.4 551.2 L818.1 551.0 L818.8 551.6 L819.5 551.1 L820.2 551.5 L820.9 551.6 L821.6 551.0 L822.3 551.3 L823.0 551.1 L823.7 551.3 L824.4 551.3 L825.1 551.6 L825.8 551.3 L826.5 551.2 L827.2 551.4 L827.9 551.1 L828.6 551.1 L829.3 551.7 L830.0 551.0 L830.7 551.1 L831.4 551.2 L832.1 551.0 L832.8 550.7 L833.5 551.4 L834.2 551.0 L834.9 551.1 L835.6 551.1 L836.3 551.0 L837.0 551.0 L837.7 551.2 L838.4 551.7 L839.1 551.3 L839.8 551.4 L840.5 550.9 L841.2 551.2 L841.9 550.9 L842.6 551.4 L843.3 551.1 L844.0 551.2 L844.7 551.2 L845.4 551.1 L846.1 550.9 L846.8 551.3 L847.5 550.9 L848.2 550.9 L848.9 551.1 L849.6 551.0 L850.3 551.2 L851.0 551.4 L851.7 551.2 L852.4 551.2 L853.1 551.2 L853.8 551.4 L854.5 550.8 L855.2 551.3 L855.9 551.0 L856.6 550.9 L857.3 551.2 L858.0 551.1 L858.7 551.3 L859.4 551.4 L860.1 550.7 L860.8 551.2 L861.5 551.6 L862.2 551.4 L862.9 551.5 L863.6 551.2 L864.3 550.9 L865.0 550.9 L865.7 551.3 L866.4 551.4 L867.1 551.0 L867.8 551.1 L868.5 551.2 L869.2 550.8 L869.9 551.1 L870.6 551.5 L871.3 551.7 L872.0 551.2 L872.7 551.6 L873.4 551.1 L874.1 551.0 L874.8 550.7 L875.5 551.4 L876.2 551.1 L876.9 551.7 L877.6 551.3 L878.3 551.2 L879.0 550.8 L879.7 551.5 L880.4 551.1 L881.1 551.2 L881.8 550.7 L882.5 551.4 L883.2 551.4 L883.9 551.1 L884.6 551.2 L885.3 551.3 L886.0 551.4 L886.7 551.2 L887.4 551.6 L888.1 551.1 L888.8 551.1 L889.5 551.1 L890.2 550.6 L890.9 551.0 L891.6 551.4 L892.3 551.2 L893.0 551.0 L893.7 551.3 L894.4 550.7 L895.1 551.1 L895.8 551.3 L896.5 551.3 L897.2 551.0 L897.9 551.4 L898.6 551.6 L899.3 551.1 L900.0 551.4 L900.7 550.8 L901.4 550.8 L902.1 551.3 L902.8 551.2 L903.5 551.2 L904.2 551.1 L904.9 551.1 L905.6 551.4 L906.3 551.6 L907.0 551.1 L907.7 550.8 L908.4 551.5 L909.1 551.3 L909.8 551.3 L910.5 551.2 L911.2 551.7 L911.9 551.2 L912.6 551.3 L913.3 550.8 L914.0 551.1 L914.7 551.0 L915.4 551.2 L916.1 551.3 L916.8 551.0 L917.5 551.6 L918.2 551.0 L918.9 551.1 L919.6 551.2 L920.3 550.9 L920.8 550.5" fill="none" stroke="#000" stroke-width="0.85"/>
<path d="M655.7 550.5 L655.7 552.0 L656.4 552.0 L657.1 551.8 L657.8 552.3 L658.5 551.9 L659.2 552.0 L659.9 551.7 L660.6 551.5 L661.3 551.7 L662.0 551.8 L662.7 551.8 L663.4 552.1 L664.1 551.4 L664.8 551.6 L665.5 551.5 L666.2 552.2 L666.9 551.8 L667.6 551.8 L668.3 551.6 L669.0 552.1 L669.7 551.8 L670.4 551.9 L671.1 551.4 L671.8 552.1 L672.5 552.0 L673.2 552.0 L673.9 552.2 L674.6 551.8 L675.3 551.9 L676.0 552.0 L676.7 552.0 L677.4 551.8 L678.1 551.9 L678.8 551.8 L679.5 552.0 L680.2 552.1 L680.9 551.9 L681.6 552.3 L682.3 551.6 L683.0 551.8 L683.7 552.3 L684.4 551.8 L685.1 551.5 L685.8 552.2 L686.5 552.0 L687.2 551.6 L687.9 552.1 L688.6 551.7 L689.3 551.6 L690.0 551.9 L690.7 551.8 L691.4 551.6 L692.1 551.8 L692.8 551.7 L693.5 551.9 L694.2 551.9 L694.9 552.1 L695.6 551.8 L696.3 551.6 L697.0 551.6 L697.7 551.8 L698.4 552.2 L699.1 552.1 L699.8 551.7 L700.5 552.1 L701.2 551.6 L701.9 552.1 L702.6 551.8 L703.3 552.1 L704.0 552.0 L704.7 551.8 L705.4 552.0 L706.1 551.7 L706.8 551.9 L707.5 552.1 L708.2 552.8 L708.9 552.0 L709.6 551.9 L710.3 551.7 L711.0 552.1 L711.7 551.5 L712.4 551.7 L713.1 552.0 L713.8 551.6 L714.5 552.2 L715.2 552.1 L715.9 551.8 L716.6 551.8 L717.3 551.6 L718.0 551.6 L718.7 552.0 L719.4 552.0 L720.1 552.0 L720.8 551.9 L721.5 551.8 L722.2 552.0 L722.9 551.6 L723.6 551.9 L724.3 552.2 L725.0 552.2 L725.7 551.8 L726.4 551.8 L727.1 552.2 L727.8 552.3 L728.5 551.6 L729.2 551.8 L729.9 551.9 L730.6 552.2 L731.3 551.7 L732.0 552.0 L732.7 551.8 L733.4 552.4 L734.1 552.0 L734.8 551.9 L735.5 551.8 L736.2 552.1 L736.9 552.0 L737.6 551.7 L738.3 551.9 L739.0 551.6 L739.7 551.7 L740.4 551.6 L741.1 551.6 L741.8 551.7 L742.5 551.7 L743.2 552.0 L743.9 552.1 L744.6 551.8 L745.3 551.6 L746.0 552.1 L746.7 551.4 L747.4 551.5 L748.1 552.1 L748.8 552.0 L749.5 552.1 L750.2 551.8 L750.9 551.6 L751.6 551.8 L752.3 552.0 L753.0 551.7 L753.7 551.7 L754.4 551.6 L755.1 551.6 L755.8 552.1 L756.5 552.0 L757.2 551.6 L757.9 551.7 L758.6 551.8 L759.3 552.0 L760.0 551.6 L760.7 551.9 L761.4 551.4 L762.1 551.6 L762.8 552.0 L763.5 552.1 L764.2 551.6 L764.9 551.7 L765.6 552.1 L766.3 551.8 L767.0 551.8 L767.7 552.0 L768.4 551.9 L769.1 552.1 L769.8 552.1 L770.5 551.8 L771.2 551.9 L771.9 551.9 L772.6 551.6 L773.3 551.7 L774.0 552.1 L774.7 551.5 L775.4 552.1 L776.1 552.0 L776.8 551.9 L777.5 552.0 L778.2 552.0 L778.9 552.2 L779.6 551.8 L780.3 551.8 L781.0 551.8 L781.7 552.3 L782.4 552.1 L783.1 551.7 L783.8 551.8 L784.5 551.7 L785.2 551.9 L785.9 551.9 L786.6 552.4 L787.3 551.5 L788.0 552.1 L788.7 552.0 L789.4 551.7 L790.1 551.9 L790.8 551.8 L791.5 551.9 L792.2 552.1 L792.9 551.6 L793.6 552.2 L794.3 551.8 L795.0 552.2 L795.7 552.0 L796.4 552.2 L797.1 552.0 L797.8 552.1 L798.5 551.9 L799.2 551.7 L799.9 552.0 L800.6 552.0 L801.3 552.4 L802.0 551.5 L802.7 551.8 L803.4 552.1 L804.1 551.6 L804.8 551.8 L805.5 552.4 L806.2 552.2 L806.9 551.7 L807.6 552.2 L808.3 552.2 L809.0 552.1 L809.7 552.0 L810.4 551.9 L811.1 551.7 L811.8 551.8 L812.5 552.1 L813.2 551.9 L813.9 552.3 L814.6 551.8 L815.3 551.4 L816.0 551.8 L816.7 552.0 L817.4 552.0 L818.1 551.9 L818.8 551.7 L819.5 552.2 L820.2 551.7 L820.9 552.1 L821.6 551.8 L822.3 551.6 L823.0 552.2 L823.7 551.3 L824.4 551.7 L825.1 552.0 L825.8 551.8 L826.5 552.1 L827.2 551.9 L827.9 551.8 L828.6 552.4 L829.3 551.8 L830.0 551.9 L830.7 551.7 L831.4 551.7 L832.1 552.0 L832.8 552.0 L833.5 551.9 L834.2 551.7 L834.9 552.0 L835.6 551.5 L836.3 551.8 L837.0 551.8 L837.7 551.7 L838.4 551.9 L839.1 551.7 L839.8 551.7 L840.5 552.3 L841.2 552.1 L841.9 552.2 L842.6 551.9 L843.3 552.1 L844.0 552.1 L844.7 552.2 L845.4 552.4 L846.1 551.8 L846.8 552.0 L847.5 551.9 L848.2 551.1 L848.9 551.6 L849.6 551.9 L850.3 552.0 L851.0 551.8 L851.7 552.1 L852.4 552.2 L853.1 551.8 L853.8 552.2 L854.5 552.3 L855.2 552.0 L855.9 551.7 L856.6 552.2 L857.3 551.9 L858.0 551.8 L858.7 551.9 L859.4 551.8 L860.1 552.1 L860.8 552.1 L861.5 552.2 L862.2 552.0 L862.9 551.7 L863.6 551.9 L864.3 552.1 L865.0 551.8 L865.7 552.5 L866.4 551.8 L867.1 551.8 L867.8 552.2 L868.5 552.1 L869.2 551.9 L869.9 551.8 L870.6 552.0 L871.3 552.1 L872.0 552.1 L872.7 551.8 L873.4 552.0 L874.1 552.1 L874.8 552.1 L875.5 551.2 L876.2 551.7 L876.9 551.7 L877.6 551.8 L878.3 551.9 L879.0 552.1 L879.7 552.0 L880.4 551.9 L881.1 551.9 L881.8 552.3 L882.5 551.8 L883.2 552.0 L883.9 552.2 L884.6 552.0 L885.3 551.5 L886.0 552.0 L886.7 551.8 L887.4 551.9 L888.1 552.1 L888.8 552.0 L889.5 551.8 L890.2 552.1 L890.9 552.0 L891.6 551.9 L892.3 552.0 L893.0 552.0 L893.7 551.8 L894.4 551.8 L895.1 551.9 L895.8 551.7 L896.5 551.6 L897.2 552.2 L897.9 551.8 L898.6 551.9 L899.3 551.9 L900.0 551.9 L900.7 551.9 L901.4 551.9 L902.1 551.7 L902.8 552.1 L903.5 551.7 L904.2 552.1 L904.9 551.5 L905.6 551.7 L906.3 552.1 L907.0 551.9 L907.7 551.8 L908.4 552.0 L909.1 551.7 L909.8 551.9 L910.5 551.4 L911.2 551.8 L911.9 551.8 L912.6 552.0 L913.3 552.1 L914.0 551.7 L914.7 552.3 L915.4 551.8 L916.1 551.4 L916.8 551.4 L917.5 552.2 L918.2 551.9 L918.9 551.8 L919.6 551.7 L920.3 551.7 L920.8 550.5" fill="none" stroke="#000" stroke-width="0.85"/>
<path d="M591.2 763.1 L591.6 762.1 L592.0 763.5 L592.4 762.1 L592.8 760.6 L593.2 762.8 L593.6 761.9 L594.0 762.0 L594.4 763.3 L594.8 762.0 L595.2 763.0 L595.6 762.2 L596.0 761.7 L596.4 762.6 L596.8 761.8 L597.2 763.1 L597.6 762.9 L598.0 762.2 L598.4 762.6 L598.8 762.6 L599.2 762.0 L599.6 762.8 L600.0 762.0 L600.4 762.6 L600.8 761.5 L601.2 762.3 L601.6 762.5 L602.0 761.6 L602.4 761.9 L602.8 761.8 L603.2 762.7 L603.6 761.7 L604.0 762.5 L604.4 763.3 L604.8 762.5 L605.2 761.1 L605.6 762.3 L606.0 762.9 L606.4 762.0 L606.8 763.0 L607.2 762.6 L607.6 762.5 L608.0 762.0 L608.4 761.8 L608.8 762.0 L609.2 762.3 L609.6 762.6 L610.0 762.5 L610.4 762.0 L610.8 762.3 L611.2 762.5 L611.6 761.1 L612.0 761.7 L612.4 761.6 L612.8 762.1 L613.2 762.0 L613.6 762.0 L614.0 761.6 L614.4 762.7 L614.8 762.4 L615.2 761.1 L615.6 762.2 L616.0 761.4 L616.4 763.4 L616.8 761.9 L617.2 761.9 L617.6 762.3 L618.0 762.1 L618.4 762.2 L618.8 763.3 L619.2 762.4 L619.6 762.8 L620.0 763.0 L620.4 761.5 L620.8 763.4 L621.2 762.7 L621.6 762.9 L622.0 761.6 L622.4 762.8 L622.8 762.5 L623.2 761.8 L623.6 763.8 L624.0 762.6 L624.4 762.0 L624.8 762.3 L625.2 762.9 L625.6 763.0 L626.0 762.6 L626.4 763.1 L626.8 763.2 L627.2 761.3 L627.6 761.9 L628.0 761.6 L628.4 762.3 L628.8 763.2 L629.2 762.7 L629.6 761.5 L630.0 762.0 L630.4 762.9 L630.8 761.8 L631.2 762.1 L631.6 762.4 L632.0 760.9 L632.4 762.8 L632.8 762.5 L633.2 762.6 L633.6 761.5 L634.0 761.7 L634.4 761.8 L634.8 762.4 L635.2 762.3 L635.6 762.3 L636.0 763.5 L636.4 763.1 L636.8 761.7 L637.2 761.8 L637.6 763.4 L638.0 762.0 L638.4 763.2 L638.8 763.3 L639.2 761.8 L639.6 762.0 L640.0 762.3 L640.4 761.6 L640.8 761.5 L641.2 761.9 L641.6 762.8 L642.0 761.9 L642.4 762.1 L642.8 761.9 L643.2 761.3 L643.6 763.3 L644.0 760.6 L644.4 761.8 L644.8 762.6 L645.2 761.2 L645.6 762.6 L646.0 763.1 L646.4 761.6 L646.8 762.4 L647.2 761.4 L647.6 762.6 L648.0 762.3 L648.4 762.4 L648.8 763.2 L649.2 762.5 L649.6 763.2 L650.0 762.7 L650.4 761.4 L650.8 762.4 L651.2 762.6 L651.6 761.2 L652.0 763.1 L652.4 762.3 L652.8 762.5 L653.2 761.6 L653.6 762.3 L654.0 762.4 L654.4 762.0 L654.8 762.3 L655.2 760.7 L655.6 763.2" fill="none" stroke="#8843a8" stroke-width="1.6"/>
<path d="M920.8 755.9 L921.2 755.6 L921.6 756.9 L922.0 757.3 L922.4 758.6 L922.8 757.9 L923.2 759.0 L923.6 758.4 L924.0 760.9 L924.4 759.9 L924.8 761.1 L925.2 759.2 L925.6 760.6 L926.0 759.6 L926.4 760.8 L926.8 761.0 L927.2 759.6 L927.6 760.0 L928.0 760.1 L928.4 760.0 L928.8 760.6 L929.2 760.5 L929.6 760.3 L930.0 761.4 L930.4 761.8 L930.8 760.5 L931.2 761.1 L931.6 761.6 L932.0 761.5 L932.4 761.2 L932.8 762.3 L933.2 762.3 L933.6 762.3 L934.0 761.7 L934.4 763.2 L934.8 763.1 L935.2 761.6 L935.6 761.8 L936.0 762.8 L936.4 761.4 L936.8 762.3 L937.2 762.0 L937.6 761.5 L938.0 761.9 L938.4 760.9 L938.8 761.7 L939.2 760.7 L939.6 763.7 L940.0 763.1 L940.4 763.0 L940.8 762.3 L941.2 762.8 L941.6 763.0 L942.0 762.8 L942.4 762.8 L942.8 761.5 L943.2 762.4 L943.6 761.8 L944.0 761.3 L944.4 761.4 L944.8 762.5 L945.2 762.9 L945.6 761.2 L946.0 763.4 L946.4 763.2 L946.8 761.9 L947.2 761.9 L947.6 762.1 L948.0 762.9 L948.4 761.9 L948.8 761.4 L949.2 762.4 L949.6 760.7 L950.0 762.3 L950.4 763.0 L950.8 762.4 L951.2 762.7 L951.6 762.5 L952.0 762.7 L952.4 762.3 L952.8 761.6 L953.2 762.0 L953.6 762.1 L954.0 763.1 L954.4 763.3 L954.8 762.5 L955.2 761.7 L955.6 761.7 L956.0 762.1 L956.4 763.2 L956.8 762.4 L957.2 762.2 L957.6 761.7 L958.0 762.8 L958.4 762.4 L958.8 762.2 L959.2 762.3 L959.6 763.4 L960.0 762.1 L960.4 763.4 L960.8 763.1 L961.2 762.2 L961.6 762.8 L962.0 762.1 L962.4 761.6 L962.8 762.0 L963.2 761.6 L963.6 762.6 L964.0 762.2 L964.4 762.6 L964.8 762.8 L965.2 760.0 L965.6 762.4 L966.0 760.9 L966.4 762.3 L966.8 761.6 L967.2 762.3 L967.6 763.2 L968.0 761.0 L968.4 762.3 L968.8 762.1 L969.2 760.9 L969.6 762.7 L970.0 762.2 L970.4 761.8 L970.8 761.7 L971.2 764.4 L971.6 761.9 L972.0 760.9 L972.4 761.5 L972.8 761.9 L973.2 761.9 L973.6 762.1 L974.0 761.5 L974.4 762.6 L974.8 761.9 L975.2 761.2 L975.6 761.6 L976.0 761.9 L976.4 762.8 L976.8 762.5 L977.2 762.0 L977.6 762.2 L978.0 762.4 L978.4 763.6 L978.8 761.8 L979.2 762.5 L979.6 762.7 L980.0 761.5 L980.4 762.3 L980.8 762.3 L981.2 761.9 L981.6 762.6 L982.0 762.9 L982.4 763.0 L982.8 762.1 L983.2 762.3 L983.6 763.8 L984.0 761.4 L984.4 762.4 L984.8 762.8 L985.2 762.3 L985.6 762.7 L986.0 762.3 L986.4 762.7 L986.8 763.1" fill="none" stroke="#8843a8" stroke-width="1.6"/>
<path d="M655.7 590.7 L656.2 591.9 L656.7 593.1 L657.2 594.1 L657.7 595.3 L658.2 596.2 L658.7 597.6 L659.2 599.6 L659.7 601.0 L660.2 602.0 L660.7 602.4 L661.2 603.5 L661.7 604.5 L662.2 605.0 L662.7 606.7 L663.2 607.3 L663.7 608.0 L664.2 609.3 L664.7 609.9 L665.2 610.5 L665.7 611.6 L666.2 612.7 L666.7 613.8 L667.2 615.2 L667.7 615.5 L668.2 615.9 L668.7 617.1 L669.2 617.9 L669.7 618.6 L670.2 619.8 L670.7 621.0 L671.2 621.5 L671.7 622.3 L672.2 623.8 L672.7 624.6 L673.2 625.1 L673.7 626.8 L674.2 628.4 L674.7 628.4 L675.2 628.5 L675.7 630.0 L676.2 631.0 L676.7 631.7 L677.2 632.6 L677.7 633.2 L678.2 632.9 L678.7 632.4 L679.2 633.1 L679.7 634.3 L680.2 634.9 L680.7 634.4 L681.2 634.9 L681.7 635.9 L682.2 636.0 L682.7 636.0 L683.2 636.5 L683.7 637.3 L684.2 637.5 L684.7 637.5 L685.2 637.6 L685.7 637.5 L686.2 637.5 L686.7 637.9 L687.2 638.2 L687.7 638.3 L688.2 638.8 L688.7 639.2 L689.2 639.4 L689.7 639.0 L690.2 639.1 L690.7 639.6 L691.2 639.4 L691.7 639.4 L692.2 640.1 L692.7 640.7 L693.2 640.2 L693.7 639.8 L694.2 640.1 L694.7 640.3 L695.2 640.9 L695.7 640.7 L696.2 639.8 L696.7 640.3 L697.2 640.9 L697.7 641.1 L698.2 641.4 L698.7 642.1 L699.2 641.8 L699.7 641.2 L700.2 640.9 L700.7 641.4 L701.2 642.4 L701.7 642.5 L702.2 642.8 L702.7 643.1 L703.2 643.5 L703.7 643.8 L704.2 643.3 L704.7 643.3 L705.2 643.4 L705.7 643.3 L706.2 644.1 L706.7 645.1 L707.2 645.8 L707.7 645.8 L708.2 645.4 L708.7 645.3 L709.2 645.9 L709.7 646.6 L710.2 646.4 L710.7 646.7 L711.2 647.3 L711.7 646.7 L712.2 647.0 L712.7 647.8 L713.2 647.7 L713.7 647.7 L714.2 648.6 L714.7 649.3 L715.2 649.6 L715.7 649.0 L716.2 648.5 L716.7 649.3 L717.2 649.4 L717.7 649.1 L718.2 649.2 L718.7 650.1 L719.2 651.2 L719.7 651.0 L720.2 650.9 L720.7 650.9 L721.2 650.9 L721.7 651.4 L722.2 651.6 L722.7 652.0 L723.2 652.2 L723.7 651.8 L724.2 652.6 L724.7 653.0 L725.2 653.0 L725.7 653.1 L726.2 652.5 L726.7 653.0 L727.2 653.5 L727.7 653.9 L728.2 654.0 L728.7 653.4 L729.2 654.1 L729.7 655.0 L730.2 655.2 L730.7 654.9 L731.2 655.3 L731.7 655.3 L732.2 655.0 L732.7 655.2 L733.2 655.3 L733.7 655.9 L734.2 655.9 L734.7 655.8 L735.2 656.3 L735.7 655.7 L736.2 655.2 L736.7 655.7 L737.2 655.9 L737.7 656.2 L738.2 655.8 L738.7 656.0 L739.2 656.8 L739.7 656.7 L740.2 656.1 L740.7 656.2 L741.2 656.5 L741.7 656.8 L742.2 656.9 L742.7 657.1 L743.2 657.0 L743.7 657.3 L744.2 656.8 L744.7 656.2 L745.2 657.0 L745.7 657.0 L746.2 657.1 L746.7 657.2 L747.2 657.1 L747.7 657.3 L748.2 657.2 L748.7 657.6 L749.2 657.7 L749.7 657.6 L750.2 658.3 L750.7 658.5 L751.2 657.7 L751.7 658.0 L752.2 658.6 L752.7 658.7 L753.2 659.1 L753.7 658.5 L754.2 658.4 L754.7 659.2 L755.2 659.0 L755.7 658.9 L756.2 658.2 L756.7 658.1 L757.2 659.6 L757.7 659.4 L758.2 658.9 L758.7 659.6 L759.2 660.1 L759.7 660.6 L760.2 660.1 L760.7 659.8 L761.2 660.7 L761.7 660.5 L762.2 660.4 L762.7 661.4 L763.2 662.0 L763.7 661.7 L764.2 660.8 L764.7 660.7 L765.2 661.7 L765.7 661.8 L766.2 661.8 L766.7 663.0 L767.2 663.1 L767.7 662.0 L768.2 662.3 L768.7 662.5 L769.2 662.4 L769.7 662.5 L770.2 662.8 L770.7 662.9 L771.2 662.4 L771.7 662.3 L772.2 662.8 L772.7 662.7 L773.2 663.0 L773.7 663.3 L774.2 662.8 L774.7 662.7 L775.2 663.5 L775.7 663.9 L776.2 663.4 L776.7 663.2 L777.2 663.0 L777.7 662.4 L778.2 662.8 L778.7 663.3 L779.2 663.3 L779.7 663.3 L780.2 663.2 L780.7 663.1 L781.2 663.2 L781.7 663.6 L782.2 663.5 L782.7 663.5 L783.2 663.0 L783.7 662.6 L784.2 663.5 L784.7 664.3 L785.2 664.0 L785.7 663.5 L786.2 663.1 L786.7 663.2 L787.2 663.8 L787.7 663.3 L788.2 663.3 L788.7 663.9 L789.2 663.9 L789.7 663.4 L790.2 663.5 L790.7 663.4 L791.2 663.7 L791.7 664.2 L792.2 663.5 L792.7 663.8 L793.2 664.5 L793.7 664.0 L794.2 664.3 L794.7 664.2 L795.2 663.7 L795.7 664.4 L796.2 663.7 L796.7 663.6 L797.2 664.3 L797.7 664.0 L798.2 663.7 L798.7 663.9 L799.2 663.9 L799.7 663.5 L800.2 663.7 L800.7 663.7 L801.2 664.2 L801.7 664.2 L802.2 663.6 L802.7 663.9 L803.2 664.1 L803.7 664.5 L804.2 664.7 L804.7 664.4 L805.2 664.1 L805.7 664.2 L806.2 664.6 L806.7 664.8 L807.2 664.4 L807.7 663.6 L808.2 664.4 L808.7 665.3 L809.2 664.8 L809.7 664.6 L810.2 664.4 L810.7 664.0 L811.2 664.1 L811.7 664.3 L812.2 664.3 L812.7 663.9 L813.2 664.0 L813.7 664.6 L814.2 664.6 L814.7 664.5 L815.2 664.0 L815.7 664.0 L816.2 664.5 L816.7 664.3 L817.2 663.8 L817.7 664.3 L818.2 664.6 L818.7 664.6 L819.2 664.8 L819.7 664.8 L820.2 664.9 L820.7 664.3 L821.2 664.4 L821.7 664.7 L822.2 664.9 L822.7 664.9 L823.2 664.6 L823.7 665.0 L824.2 665.5 L824.7 665.5 L825.2 665.5 L825.7 665.4 L826.2 665.3 L826.7 665.5 L827.2 665.4 L827.7 665.2 L828.2 665.1 L828.7 665.8 L829.2 665.8 L829.7 665.0 L830.2 664.9 L830.7 665.0 L831.2 665.2 L831.7 664.9 L832.2 664.3 L832.7 664.7 L833.2 664.8 L833.7 664.8 L834.2 665.3 L834.7 665.6 L835.2 666.1 L835.7 665.9 L836.2 665.2 L836.7 664.8 L837.2 664.8 L837.7 665.1 L838.2 664.8 L838.7 664.8 L839.2 665.4 L839.7 665.6 L840.2 665.5 L840.7 665.4 L841.2 665.3 L841.7 665.1 L842.2 664.9 L842.7 665.0 L843.2 666.0 L843.7 666.0 L844.2 665.7 L844.7 665.4 L845.2 665.7 L845.7 665.8 L846.2 665.6 L846.7 665.9 L847.2 665.4 L847.7 665.7 L848.2 666.0 L848.7 665.8 L849.2 665.9 L849.7 665.9 L850.2 665.6 L850.7 665.8 L851.2 665.8 L851.7 665.7 L852.2 665.7 L852.7 665.2 L853.2 665.2 L853.7 665.5 L854.2 665.8 L854.7 666.2 L855.2 665.8 L855.7 665.5 L856.2 665.4 L856.7 665.0 L857.2 665.5 L857.7 665.2 L858.2 664.8 L858.7 665.5 L859.2 666.1 L859.7 666.1 L860.2 665.8 L860.7 666.5 L861.2 666.7 L861.7 665.8 L862.2 666.4 L862.7 666.8 L863.2 666.3 L863.7 666.4 L864.2 666.6 L864.7 666.5 L865.2 666.5 L865.7 666.0 L866.2 666.3 L866.7 666.6 L867.2 666.1 L867.7 665.8 L868.2 666.4 L868.7 666.5 L869.2 666.3 L869.7 666.6 L870.2 666.6 L870.7 666.0 L871.2 666.2 L871.7 666.9 L872.2 667.0 L872.7 667.2 L873.2 667.1 L873.7 666.9 L874.2 667.2 L874.7 666.9 L875.2 667.0 L875.7 667.6 L876.2 667.3 L876.7 667.4 L877.2 667.4 L877.7 666.7 L878.2 666.7 L878.7 667.1 L879.2 666.9 L879.7 666.9 L880.2 667.2 L880.7 667.3 L881.2 666.7 L881.7 666.7 L882.2 667.2 L882.7 666.8 L883.2 666.5 L883.7 666.6 L884.2 666.6 L884.7 666.8 L885.2 667.3 L885.7 667.8 L886.2 667.8 L886.7 667.6 L887.2 667.6 L887.7 667.7 L888.2 667.3 L888.7 667.1 L889.2 667.3 L889.7 667.1 L890.2 666.9 L890.7 666.8 L891.2 666.9 L891.7 666.7 L892.2 667.0 L892.7 667.3 L893.2 667.2 L893.7 667.3 L894.2 667.5 L894.7 667.3 L895.2 667.1 L895.7 666.8 L896.2 666.2 L896.7 666.1 L897.2 667.2 L897.7 667.3 L898.2 667.0 L898.7 668.0 L899.2 667.7 L899.7 667.8 L900.2 668.4 L900.7 668.3 L901.2 668.4 L901.7 668.4 L902.2 667.5 L902.7 667.5 L903.2 667.6 L903.7 667.1 L904.2 666.9 L904.7 667.9 L905.2 668.1 L905.7 667.5 L906.2 667.5 L906.7 667.5 L907.2 667.7 L907.7 667.5 L908.2 667.3 L908.7 667.0 L909.2 667.2 L909.7 667.7 L910.2 668.5 L910.7 668.7 L911.2 668.7 L911.7 668.5 L912.2 668.0 L912.7 667.5 L913.2 667.6 L913.7 667.3 L914.2 667.3 L914.7 668.4 L915.2 668.6 L915.7 668.4 L916.2 668.3 L916.7 667.6 L917.2 667.5 L917.7 667.8 L918.2 668.3 L918.7 669.0 L919.2 668.5 L919.7 667.9 L920.2 668.0 L920.7 668.1" fill="none" stroke="#8843a8" stroke-width="1.15"/>
<path d="M655.7 630.9 L656.2 631.4 L656.7 632.3 L657.2 632.9 L657.7 633.0 L658.2 633.3 L658.7 633.7 L659.2 634.5 L659.7 635.2 L660.2 635.3 L660.7 636.0 L661.2 636.4 L661.7 636.7 L662.2 636.9 L662.7 638.2 L663.2 639.3 L663.7 639.4 L664.2 640.4 L664.7 640.8 L665.2 640.8 L665.7 641.4 L666.2 642.1 L666.7 642.7 L667.2 643.0 L667.7 643.2 L668.2 643.7 L668.7 644.6 L669.2 644.3 L669.7 644.3 L670.2 645.2 L670.7 645.6 L671.2 645.5 L671.7 646.2 L672.2 647.0 L672.7 647.1 L673.2 647.6 L673.7 647.6 L674.2 648.0 L674.7 648.3 L675.2 648.6 L675.7 649.4 L676.2 650.1 L676.7 650.6 L677.2 651.0 L677.7 652.0 L678.2 652.5 L678.7 652.0 L679.2 652.1 L679.7 652.6 L680.2 653.2 L680.7 653.6 L681.2 653.8 L681.7 654.8 L682.2 655.5 L682.7 655.3 L683.2 655.5 L683.7 655.8 L684.2 656.5 L684.7 657.0 L685.2 657.1 L685.7 656.3 L686.2 656.4 L686.7 657.8 L687.2 658.5 L687.7 658.5 L688.2 657.7 L688.7 658.1 L689.2 658.7 L689.7 658.2 L690.2 658.5 L690.7 659.5 L691.2 660.3 L691.7 660.5 L692.2 660.1 L692.7 660.8 L693.2 661.1 L693.7 660.6 L694.2 660.7 L694.7 661.4 L695.2 662.2 L695.7 662.3 L696.2 662.5 L696.7 662.4 L697.2 662.6 L697.7 662.3 L698.2 662.7 L698.7 663.6 L699.2 663.4 L699.7 663.2 L700.2 663.6 L700.7 664.2 L701.2 664.4 L701.7 664.1 L702.2 664.0 L702.7 663.7 L703.2 663.8 L703.7 664.4 L704.2 664.7 L704.7 664.8 L705.2 665.3 L705.7 665.5 L706.2 665.5 L706.7 665.7 L707.2 665.9 L707.7 665.8 L708.2 666.0 L708.7 665.7 L709.2 666.1 L709.7 666.4 L710.2 666.4 L710.7 666.9 L711.2 667.1 L711.7 667.3 L712.2 666.8 L712.7 667.3 L713.2 667.7 L713.7 667.6 L714.2 667.7 L714.7 668.1 L715.2 668.4 L715.7 668.3 L716.2 667.8 L716.7 667.7 L717.2 668.3 L717.7 669.1 L718.2 669.3 L718.7 668.9 L719.2 669.2 L719.7 669.4 L720.2 669.1 L720.7 669.3 L721.2 669.1 L721.7 669.4 L722.2 670.1 L722.7 669.9 L723.2 669.5 L723.7 669.8 L724.2 670.7 L724.7 670.6 L725.2 670.0 L725.7 670.4 L726.2 670.4 L726.7 669.7 L727.2 670.2 L727.7 670.7 L728.2 670.9 L728.7 671.0 L729.2 671.3 L729.7 671.5 L730.2 671.3 L730.7 671.4 L731.2 671.8 L731.7 672.3 L732.2 672.5 L732.7 672.6 L733.2 671.5 L733.7 671.1 L734.2 672.0 L734.7 672.5 L735.2 672.2 L735.7 672.7 L736.2 673.3 L736.7 672.9 L737.2 672.9 L737.7 673.1 L738.2 673.0 L738.7 673.3 L739.2 673.5 L739.7 673.1 L740.2 673.1 L740.7 673.6 L741.2 673.6 L741.7 674.1 L742.2 674.2 L742.7 674.4 L743.2 675.1 L743.7 674.5 L744.2 674.3 L744.7 675.1 L745.2 675.1 L745.7 674.5 L746.2 674.7 L746.7 675.7 L747.2 675.4 L747.7 675.1 L748.2 675.6 L748.7 675.4 L749.2 675.4 L749.7 675.3 L750.2 675.8 L750.7 676.1 L751.2 675.5 L751.7 675.8 L752.2 675.7 L752.7 675.5 L753.2 676.0 L753.7 676.2 L754.2 676.2 L754.7 676.2 L755.2 676.1 L755.7 676.2 L756.2 676.3 L756.7 676.7 L757.2 676.4 L757.7 676.1 L758.2 676.5 L758.7 676.2 L759.2 676.0 L759.7 676.1 L760.2 675.9 L760.7 675.4 L761.2 676.0 L761.7 676.0 L762.2 676.2 L762.7 676.6 L763.2 676.3 L763.7 676.4 L764.2 676.5 L764.7 676.5 L765.2 676.3 L765.7 676.3 L766.2 676.8 L766.7 677.2 L767.2 677.2 L767.7 677.1 L768.2 676.7 L768.7 676.1 L769.2 676.4 L769.7 677.1 L770.2 676.9 L770.7 676.9 L771.2 677.4 L771.7 677.2 L772.2 677.2 L772.7 677.3 L773.2 676.5 L773.7 676.3 L774.2 676.7 L774.7 677.0 L775.2 676.9 L775.7 676.7 L776.2 676.7 L776.7 676.8 L777.2 677.2 L777.7 677.5 L778.2 677.7 L778.7 677.5 L779.2 677.4 L779.7 677.4 L780.2 677.4 L780.7 677.8 L781.2 677.1 L781.7 676.6 L782.2 677.5 L782.7 677.9 L783.2 677.5 L783.7 677.3 L784.2 677.9 L784.7 677.7 L785.2 676.9 L785.7 677.0 L786.2 677.2 L786.7 677.5 L787.2 677.7 L787.7 678.0 L788.2 678.3 L788.7 677.6 L789.2 677.5 L789.7 677.4 L790.2 677.7 L790.7 678.5 L791.2 678.3 L791.7 678.2 L792.2 678.0 L792.7 677.8 L793.2 678.8 L793.7 678.3 L794.2 678.1 L794.7 678.8 L795.2 678.0 L795.7 677.2 L796.2 677.5 L796.7 678.3 L797.2 678.4 L797.7 678.1 L798.2 678.5 L798.7 678.6 L799.2 678.5 L799.7 678.4 L800.2 678.7 L800.7 678.6 L801.2 678.8 L801.7 678.9 L802.2 678.2 L802.7 678.5 L803.2 678.9 L803.7 678.2 L804.2 678.2 L804.7 678.4 L805.2 678.1 L805.7 678.7 L806.2 678.8 L806.7 678.7 L807.2 678.8 L807.7 679.3 L808.2 679.4 L808.7 678.6 L809.2 678.3 L809.7 678.4 L810.2 678.8 L810.7 679.1 L811.2 679.3 L811.7 679.4 L812.2 679.2 L812.7 679.2 L813.2 679.2 L813.7 679.2 L814.2 679.5 L814.7 679.7 L815.2 679.3 L815.7 678.6 L816.2 678.5 L816.7 679.1 L817.2 678.7 L817.7 678.5 L818.2 679.3 L818.7 679.3 L819.2 678.9 L819.7 679.6 L820.2 680.3 L820.7 679.8 L821.2 679.8 L821.7 680.2 L822.2 679.6 L822.7 680.0 L823.2 680.1 L823.7 679.2 L824.2 679.2 L824.7 679.3 L825.2 679.3 L825.7 679.3 L826.2 680.0 L826.7 680.1 L827.2 679.7 L827.7 680.1 L828.2 680.0 L828.7 679.8 L829.2 680.0 L829.7 679.8 L830.2 679.9 L830.7 679.9 L831.2 679.9 L831.7 679.7 L832.2 679.5 L832.7 679.9 L833.2 680.1 L833.7 679.6 L834.2 679.5 L834.7 679.6 L835.2 679.8 L835.7 680.1 L836.2 680.2 L836.7 680.0 L837.2 680.0 L837.7 679.8 L838.2 679.0 L838.7 679.4 L839.2 679.7 L839.7 679.5 L840.2 679.6 L840.7 680.1 L841.2 680.1 L841.7 680.0 L842.2 680.2 L842.7 679.8 L843.2 679.5 L843.7 679.9 L844.2 680.5 L844.7 680.6 L845.2 681.0 L845.7 680.9 L846.2 680.4 L846.7 680.3 L847.2 680.3 L847.7 680.2 L848.2 679.9 L848.7 680.6 L849.2 680.3 L849.7 679.9 L850.2 680.5 L850.7 680.5 L851.2 680.1 L851.7 680.0 L852.2 680.1 L852.7 679.9 L853.2 680.0 L853.7 680.2 L854.2 680.1 L854.7 680.4 L855.2 680.3 L855.7 680.2 L856.2 680.3 L856.7 680.3 L857.2 680.5 L857.7 680.5 L858.2 680.2 L858.7 679.9 L859.2 679.9 L859.7 680.2 L860.2 680.7 L860.7 680.9 L861.2 680.6 L861.7 680.3 L862.2 680.0 L862.7 679.3 L863.2 679.5 L863.7 680.0 L864.2 679.8 L864.7 679.5 L865.2 680.1 L865.7 680.4 L866.2 679.7 L866.7 680.6 L867.2 681.2 L867.7 680.4 L868.2 680.6 L868.7 680.5 L869.2 680.7 L869.7 680.5 L870.2 679.7 L870.7 680.1 L871.2 680.2 L871.7 680.7 L872.2 680.5 L872.7 679.8 L873.2 680.4 L873.7 680.8 L874.2 681.0 L874.7 680.9 L875.2 681.3 L875.7 681.0 L876.2 680.5 L876.7 680.8 L877.2 680.7 L877.7 680.4 L878.2 680.3 L878.7 680.3 L879.2 680.1 L879.7 680.1 L880.2 680.0 L880.7 680.3 L881.2 680.2 L881.7 680.7 L882.2 681.7 L882.7 681.4 L883.2 680.9 L883.7 680.4 L884.2 680.8 L884.7 681.0 L885.2 680.8 L885.7 680.6 L886.2 680.7 L886.7 680.7 L887.2 680.4 L887.7 680.2 L888.2 680.0 L888.7 680.6 L889.2 680.7 L889.7 680.4 L890.2 680.8 L890.7 680.9 L891.2 681.0 L891.7 680.3 L892.2 680.2 L892.7 681.0 L893.2 680.4 L893.7 679.9 L894.2 680.6 L894.7 680.7 L895.2 680.2 L895.7 680.7 L896.2 680.8 L896.7 680.8 L897.2 680.6 L897.7 680.6 L898.2 681.1 L898.7 681.2 L899.2 680.2 L899.7 680.3 L900.2 681.0 L900.7 680.5 L901.2 680.9 L901.7 680.7 L902.2 680.8 L902.7 681.1 L903.2 681.1 L903.7 681.2 L904.2 680.4 L904.7 680.5 L905.2 680.9 L905.7 681.1 L906.2 681.3 L906.7 680.9 L907.2 680.7 L907.7 681.2 L908.2 681.0 L908.7 680.5 L909.2 680.3 L909.7 680.8 L910.2 681.3 L910.7 680.9 L911.2 680.3 L911.7 680.8 L912.2 680.8 L912.7 680.5 L913.2 680.7 L913.7 680.2 L914.2 680.4 L914.7 680.9 L915.2 681.3 L915.7 682.0 L916.2 681.5 L916.7 681.2 L917.2 681.5 L917.7 681.1 L918.2 680.5 L918.7 681.2 L919.2 681.3 L919.7 680.8 L920.2 680.9 L920.7 680.8" fill="none" stroke="#8843a8" stroke-width="1.15"/>
<path d="M655.7 662.3 L656.2 662.5 L656.7 663.0 L657.2 662.7 L657.7 662.0 L658.2 662.1 L658.7 662.1 L659.2 661.9 L659.7 662.6 L660.2 663.4 L660.7 663.1 L661.2 662.3 L661.7 662.4 L662.2 662.1 L662.7 661.7 L663.2 662.7 L663.7 663.0 L664.2 662.3 L664.7 661.7 L665.2 662.2 L665.7 662.7 L666.2 662.3 L666.7 662.4 L667.2 662.4 L667.7 661.8 L668.2 662.2 L668.7 662.5 L669.2 662.0 L669.7 661.9 L670.2 662.2 L670.7 662.3 L671.2 662.4 L671.7 662.5 L672.2 662.6 L672.7 662.6 L673.2 662.2 L673.7 661.8 L674.2 661.7 L674.7 662.3 L675.2 663.4 L675.7 662.9 L676.2 661.9 L676.7 662.3 L677.2 662.6 L677.7 662.4 L678.2 662.3 L678.7 662.0 L679.2 661.9 L679.7 662.6 L680.2 663.1 L680.7 662.8 L681.2 662.3 L681.7 662.5 L682.2 662.8 L682.7 662.8 L683.2 662.4 L683.7 662.3 L684.2 662.8 L684.7 662.5 L685.2 661.9 L685.7 662.2 L686.2 662.6 L686.7 662.8 L687.2 662.7 L687.7 662.3 L688.2 662.1 L688.7 662.0 L689.2 661.9 L689.7 662.0 L690.2 662.1 L690.7 662.6 L691.2 662.4 L691.7 662.1 L692.2 662.2 L692.7 662.6 L693.2 662.9 L693.7 662.4 L694.2 662.5 L694.7 662.6 L695.2 662.3 L695.7 662.7 L696.2 663.0 L696.7 663.0 L697.2 663.1 L697.7 662.9 L698.2 662.6 L698.7 662.2 L699.2 662.3 L699.7 662.6 L700.2 662.6 L700.7 662.6 L701.2 662.2 L701.7 662.0 L702.2 662.3 L702.7 662.9 L703.2 662.6 L703.7 662.4 L704.2 662.9 L704.7 662.5 L705.2 662.1 L705.7 662.0 L706.2 662.4 L706.7 662.8 L707.2 662.3 L707.7 661.9 L708.2 661.9 L708.7 662.6 L709.2 662.6 L709.7 662.2 L710.2 662.4 L710.7 662.2 L711.2 662.1 L711.7 662.5 L712.2 662.3 L712.7 662.0 L713.2 662.2 L713.7 662.4 L714.2 662.3 L714.7 662.4 L715.2 662.5 L715.7 662.2 L716.2 662.0 L716.7 662.3 L717.2 662.8 L717.7 663.0 L718.2 662.5 L718.7 662.4 L719.2 662.8 L719.7 662.6 L720.2 662.5 L720.7 662.7 L721.2 663.0 L721.7 662.5 L722.2 662.2 L722.7 662.5 L723.2 662.3 L723.7 662.6 L724.2 662.9 L724.7 662.3 L725.2 662.0 L725.7 662.3 L726.2 662.1 L726.7 662.2 L727.2 662.6 L727.7 662.4 L728.2 662.5 L728.7 662.9 L729.2 662.8 L729.7 662.3 L730.2 662.7 L730.7 662.7 L731.2 662.1 L731.7 661.9 L732.2 662.3 L732.7 662.7 L733.2 662.5 L733.7 662.5 L734.2 662.4 L734.7 662.1 L735.2 661.9 L735.7 662.3 L736.2 662.5 L736.7 662.8 L737.2 662.6 L737.7 662.0 L738.2 662.0 L738.7 662.4 L739.2 662.4 L739.7 662.2 L740.2 662.9 L740.7 662.7 L741.2 662.5 L741.7 662.0 L742.2 661.7 L742.7 661.8 L743.2 662.0 L743.7 662.4 L744.2 662.1 L744.7 662.4 L745.2 662.7 L745.7 662.3 L746.2 662.1 L746.7 661.8 L747.2 661.9 L747.7 662.8 L748.2 662.7 L748.7 662.2 L749.2 662.3 L749.7 662.4 L750.2 662.6 L750.7 662.4 L751.2 661.8 L751.7 661.7 L752.2 662.5 L752.7 662.6 L753.2 662.4 L753.7 662.4 L754.2 661.7 L754.7 661.9 L755.2 662.5 L755.7 662.2 L756.2 662.1 L756.7 662.3 L757.2 662.2 L757.7 662.2 L758.2 662.3 L758.7 661.7 L759.2 661.7 L759.7 662.1 L760.2 661.9 L760.7 662.2 L761.2 662.3 L761.7 662.3 L762.2 662.7 L762.7 662.6 L763.2 661.9 L763.7 661.7 L764.2 662.3 L764.7 662.5 L765.2 662.0 L765.7 662.1 L766.2 662.4 L766.7 662.5 L767.2 662.5 L767.7 662.2 L768.2 662.0 L768.7 662.2 L769.2 662.3 L769.7 661.8 L770.2 661.8 L770.7 662.0 L771.2 662.4 L771.7 663.2 L772.2 663.3 L772.7 663.1 L773.2 662.6 L773.7 662.7 L774.2 662.8 L774.7 662.7 L775.2 662.5 L775.7 662.3 L776.2 662.6 L776.7 663.2 L777.2 663.1 L777.7 663.3 L778.2 664.0 L778.7 663.1 L779.2 662.5 L779.7 662.6 L780.2 662.6 L780.7 662.7 L781.2 662.7 L781.7 663.1 L782.2 663.4 L782.7 663.2 L783.2 663.0 L783.7 663.0 L784.2 663.1 L784.7 663.2 L785.2 663.2 L785.7 663.2 L786.2 662.9 L786.7 663.0 L787.2 663.8 L787.7 663.7 L788.2 662.9 L788.7 663.2 L789.2 663.5 L789.7 662.4 L790.2 662.5 L790.7 663.4 L791.2 663.6 L791.7 663.8 L792.2 663.8 L792.7 663.6 L793.2 662.9 L793.7 662.7 L794.2 663.2 L794.7 663.7 L795.2 663.4 L795.7 663.1 L796.2 663.5 L796.7 663.2 L797.2 662.6 L797.7 663.1 L798.2 663.6 L798.7 663.6 L799.2 663.0 L799.7 663.1 L800.2 663.4 L800.7 663.6 L801.2 663.9 L801.7 663.8 L802.2 664.0 L802.7 663.9 L803.2 663.9 L803.7 664.4 L804.2 664.3 L804.7 664.4 L805.2 664.1 L805.7 664.0 L806.2 664.3 L806.7 663.8 L807.2 663.8 L807.7 663.9 L808.2 663.8 L808.7 664.0 L809.2 664.4 L809.7 664.3 L810.2 664.1 L810.7 663.9 L811.2 663.9 L811.7 664.6 L812.2 664.8 L812.7 664.6 L813.2 664.3 L813.7 663.9 L814.2 664.1 L814.7 664.0 L815.2 663.7 L815.7 664.3 L816.2 664.4 L816.7 664.7 L817.2 664.6 L817.7 664.3 L818.2 664.3 L818.7 664.3 L819.2 664.4 L819.7 664.3 L820.2 664.6 L820.7 664.5 L821.2 664.7 L821.7 665.2 L822.2 664.9 L822.7 664.8 L823.2 665.0 L823.7 664.8 L824.2 665.3 L824.7 664.8 L825.2 664.1 L825.7 664.2 L826.2 664.3 L826.7 664.8 L827.2 665.8 L827.7 666.0 L828.2 665.5 L828.7 665.8 L829.2 665.2 L829.7 665.0 L830.2 665.6 L830.7 665.5 L831.2 665.2 L831.7 665.3 L832.2 664.9 L832.7 664.6 L833.2 665.1 L833.7 665.4 L834.2 665.1 L834.7 664.9 L835.2 665.2 L835.7 665.2 L836.2 665.5 L836.7 665.5 L837.2 665.4 L837.7 665.1 L838.2 664.8 L838.7 665.3 L839.2 665.1 L839.7 665.1 L840.2 665.4 L840.7 665.2 L841.2 665.5 L841.7 665.6 L842.2 665.2 L842.7 665.2 L843.2 665.5 L843.7 666.4 L844.2 665.9 L844.7 665.2 L845.2 665.7 L845.7 666.0 L846.2 666.0 L846.7 665.1 L847.2 665.6 L847.7 665.9 L848.2 665.6 L848.7 665.6 L849.2 665.3 L849.7 665.6 L850.2 666.1 L850.7 666.5 L851.2 666.1 L851.7 666.1 L852.2 666.2 L852.7 666.1 L853.2 666.2 L853.7 666.4 L854.2 666.2 L854.7 666.1 L855.2 666.3 L855.7 666.4 L856.2 666.1 L856.7 666.6 L857.2 666.7 L857.7 666.5 L858.2 666.7 L858.7 666.8 L859.2 666.2 L859.7 666.5 L860.2 667.0 L860.7 666.2 L861.2 666.3 L861.7 667.2 L862.2 667.3 L862.7 666.5 L863.2 666.3 L863.7 666.9 L864.2 666.7 L864.7 666.4 L865.2 666.7 L865.7 667.3 L866.2 667.3 L866.7 667.1 L867.2 667.1 L867.7 666.5 L868.2 667.0 L868.7 667.4 L869.2 666.7 L869.7 666.7 L870.2 667.4 L870.7 667.1 L871.2 667.0 L871.7 667.3 L872.2 667.1 L872.7 666.9 L873.2 666.9 L873.7 667.0 L874.2 666.9 L874.7 666.9 L875.2 666.9 L875.7 667.0 L876.2 667.4 L876.7 667.1 L877.2 667.4 L877.7 668.1 L878.2 668.3 L878.7 667.5 L879.2 667.5 L879.7 667.9 L880.2 667.6 L880.7 667.4 L881.2 667.5 L881.7 668.0 L882.2 668.2 L882.7 667.7 L883.2 667.4 L883.7 667.5 L884.2 667.8 L884.7 668.4 L885.2 668.0 L885.7 667.6 L886.2 667.8 L886.7 667.6 L887.2 667.8 L887.7 668.2 L888.2 667.8 L888.7 667.4 L889.2 668.1 L889.7 668.4 L890.2 668.3 L890.7 668.1 L891.2 667.9 L891.7 668.2 L892.2 668.2 L892.7 667.8 L893.2 668.0 L893.7 668.5 L894.2 668.3 L894.7 668.3 L895.2 668.8 L895.7 668.3 L896.2 668.2 L896.7 668.4 L897.2 668.6 L897.7 668.8 L898.2 668.3 L898.7 667.9 L899.2 668.5 L899.7 668.9 L900.2 668.7 L900.7 668.8 L901.2 669.1 L901.7 668.8 L902.2 668.7 L902.7 668.8 L903.2 668.7 L903.7 669.3 L904.2 668.8 L904.7 668.6 L905.2 668.9 L905.7 668.7 L906.2 668.9 L906.7 668.7 L907.2 668.5 L907.7 668.9 L908.2 669.4 L908.7 669.1 L909.2 668.6 L909.7 669.3 L910.2 670.0 L910.7 669.5 L911.2 669.0 L911.7 668.8 L912.2 669.1 L912.7 669.1 L913.2 669.4 L913.7 669.7 L914.2 669.5 L914.7 669.2 L915.2 668.9 L915.7 669.0 L916.2 669.3 L916.7 669.5 L917.2 669.3 L917.7 669.5 L918.2 669.7 L918.7 670.0 L919.2 669.9 L919.7 669.3 L920.2 669.4 L920.7 670.0" fill="none" stroke="#8843a8" stroke-width="1.15"/>
<path d="M655.7 690.1 L656.2 690.1 L656.7 690.1 L657.2 690.2 L657.7 690.3 L658.2 690.1 L658.7 690.0 L659.2 690.3 L659.7 690.6 L660.2 690.6 L660.7 690.5 L661.2 690.3 L661.7 690.1 L662.2 690.3 L662.7 690.1 L663.2 690.0 L663.7 689.8 L664.2 689.8 L664.7 690.0 L665.2 689.8 L665.7 690.1 L666.2 690.2 L666.7 690.0 L667.2 690.1 L667.7 690.0 L668.2 690.3 L668.7 690.4 L669.2 690.1 L669.7 690.0 L670.2 689.9 L670.7 690.0 L671.2 690.1 L671.7 690.0 L672.2 690.1 L672.7 690.5 L673.2 690.5 L673.7 690.1 L674.2 690.1 L674.7 690.6 L675.2 691.0 L675.7 690.6 L676.2 690.4 L676.7 690.2 L677.2 690.0 L677.7 690.2 L678.2 690.2 L678.7 690.0 L679.2 689.9 L679.7 690.1 L680.2 690.3 L680.7 689.9 L681.2 689.8 L681.7 690.4 L682.2 690.3 L682.7 690.1 L683.2 690.0 L683.7 690.1 L684.2 690.1 L684.7 689.7 L685.2 689.9 L685.7 690.6 L686.2 690.5 L686.7 689.8 L687.2 690.0 L687.7 690.3 L688.2 690.5 L688.7 690.3 L689.2 689.7 L689.7 689.8 L690.2 690.2 L690.7 690.3 L691.2 690.5 L691.7 690.1 L692.2 689.8 L692.7 690.0 L693.2 690.3 L693.7 690.4 L694.2 690.2 L694.7 689.9 L695.2 690.2 L695.7 690.5 L696.2 690.9 L696.7 690.7 L697.2 690.5 L697.7 690.3 L698.2 689.9 L698.7 690.0 L699.2 690.0 L699.7 689.9 L700.2 689.9 L700.7 690.1 L701.2 690.1 L701.7 690.2 L702.2 690.3 L702.7 690.2 L703.2 690.5 L703.7 690.5 L704.2 690.3 L704.7 690.2 L705.2 690.2 L705.7 690.3 L706.2 690.1 L706.7 690.3 L707.2 690.7 L707.7 690.7 L708.2 690.3 L708.7 689.8 L709.2 689.8 L709.7 690.1 L710.2 690.4 L710.7 690.3 L711.2 690.1 L711.7 690.4 L712.2 690.3 L712.7 690.3 L713.2 690.6 L713.7 690.1 L714.2 690.0 L714.7 690.1 L715.2 689.9 L715.7 689.7 L716.2 689.5 L716.7 690.0 L717.2 690.2 L717.7 690.2 L718.2 690.0 L718.7 689.9 L719.2 690.1 L719.7 689.8 L720.2 689.6 L720.7 690.0 L721.2 690.3 L721.7 690.0 L722.2 690.0 L722.7 690.3 L723.2 690.7 L723.7 690.4 L724.2 690.1 L724.7 690.7 L725.2 690.6 L725.7 690.5 L726.2 690.0 L726.7 690.0 L727.2 690.5 L727.7 689.8 L728.2 690.0 L728.7 690.5 L729.2 690.6 L729.7 690.6 L730.2 690.4 L730.7 690.0 L731.2 690.0 L731.7 690.1 L732.2 690.3 L732.7 690.2 L733.2 690.1 L733.7 690.4 L734.2 690.4 L734.7 690.7 L735.2 691.0 L735.7 690.4 L736.2 689.9 L736.7 689.8 L737.2 689.7 L737.7 690.1 L738.2 690.1 L738.7 689.8 L739.2 689.9 L739.7 690.3 L740.2 690.3 L740.7 690.1 L741.2 690.3 L741.7 690.4 L742.2 690.4 L742.7 690.5 L743.2 690.2 L743.7 690.0 L744.2 690.1 L744.7 690.3 L745.2 690.5 L745.7 690.1 L746.2 690.2 L746.7 690.2 L747.2 690.2 L747.7 690.4 L748.2 690.1 L748.7 689.8 L749.2 689.9 L749.7 690.1 L750.2 690.1 L750.7 690.2 L751.2 690.0 L751.7 689.9 L752.2 690.2 L752.7 689.8 L753.2 689.9 L753.7 690.0 L754.2 689.5 L754.7 689.6 L755.2 690.0 L755.7 690.3 L756.2 690.3 L756.7 690.4 L757.2 690.7 L757.7 690.7 L758.2 690.6 L758.7 690.5 L759.2 690.1 L759.7 690.2 L760.2 690.5 L760.7 690.4 L761.2 690.2 L761.7 689.8 L762.2 690.0 L762.7 690.4 L763.2 690.0 L763.7 690.0 L764.2 690.3 L764.7 690.3 L765.2 690.3 L765.7 690.5 L766.2 690.1 L766.7 689.9 L767.2 690.2 L767.7 690.5 L768.2 690.6 L768.7 690.1 L769.2 689.8 L769.7 690.3 L770.2 690.6 L770.7 690.7 L771.2 690.3 L771.7 689.9 L772.2 689.9 L772.7 690.1 L773.2 690.1 L773.7 690.2 L774.2 690.6 L774.7 690.5 L775.2 689.9 L775.7 689.7 L776.2 690.2 L776.7 690.1 L777.2 689.9 L777.7 690.1 L778.2 690.3 L778.7 690.4 L779.2 690.3 L779.7 690.2 L780.2 690.1 L780.7 690.2 L781.2 690.3 L781.7 690.3 L782.2 690.3 L782.7 690.1 L783.2 690.1 L783.7 690.4 L784.2 690.4 L784.7 690.4 L785.2 690.4 L785.7 690.6 L786.2 690.4 L786.7 690.1 L787.2 690.2 L787.7 690.2 L788.2 689.9 L788.7 689.9 L789.2 690.1 L789.7 690.0 L790.2 690.0 L790.7 689.9 L791.2 690.2 L791.7 690.5 L792.2 690.6 L792.7 690.4 L793.2 689.8 L793.7 690.0 L794.2 689.9 L794.7 689.9 L795.2 690.1 L795.7 690.0 L796.2 690.2 L796.7 690.2 L797.2 690.5 L797.7 690.7 L798.2 690.1 L798.7 690.1 L799.2 690.1 L799.7 690.0 L800.2 690.0 L800.7 689.8 L801.2 690.3 L801.7 690.3 L802.2 690.0 L802.7 690.0 L803.2 690.0 L803.7 690.4 L804.2 690.2 L804.7 689.7 L805.2 690.1 L805.7 690.0 L806.2 689.8 L806.7 690.3 L807.2 690.4 L807.7 690.1 L808.2 690.0 L808.7 689.9 L809.2 689.9 L809.7 690.1 L810.2 690.4 L810.7 690.6 L811.2 690.3 L811.7 689.9 L812.2 690.2 L812.7 690.0 L813.2 689.8 L813.7 690.0 L814.2 689.9 L814.7 689.8 L815.2 690.1 L815.7 689.9 L816.2 689.7 L816.7 689.9 L817.2 690.1 L817.7 689.9 L818.2 690.1 L818.7 690.3 L819.2 690.1 L819.7 690.1 L820.2 690.0 L820.7 689.9 L821.2 690.2 L821.7 690.4 L822.2 690.2 L822.7 690.3 L823.2 690.2 L823.7 690.2 L824.2 690.3 L824.7 690.0 L825.2 690.2 L825.7 690.0 L826.2 690.0 L826.7 690.1 L827.2 690.1 L827.7 690.5 L828.2 690.5 L828.7 690.2 L829.2 690.1 L829.7 690.1 L830.2 689.9 L830.7 689.7 L831.2 690.0 L831.7 690.3 L832.2 689.9 L832.7 689.8 L833.2 690.3 L833.7 690.3 L834.2 690.0 L834.7 690.2 L835.2 690.1 L835.7 690.1 L836.2 690.6 L836.7 690.1 L837.2 689.8 L837.7 690.3 L838.2 690.3 L838.7 690.1 L839.2 690.0 L839.7 689.8 L840.2 689.9 L840.7 690.3 L841.2 690.1 L841.7 689.9 L842.2 689.9 L842.7 690.1 L843.2 690.2 L843.7 690.2 L844.2 690.2 L844.7 689.9 L845.2 689.4 L845.7 689.8 L846.2 690.5 L846.7 690.2 L847.2 689.8 L847.7 690.1 L848.2 690.4 L848.7 690.5 L849.2 690.5 L849.7 690.4 L850.2 690.2 L850.7 690.3 L851.2 690.2 L851.7 690.3 L852.2 690.5 L852.7 690.5 L853.2 690.3 L853.7 690.3 L854.2 690.2 L854.7 690.0 L855.2 689.7 L855.7 689.5 L856.2 690.1 L856.7 690.2 L857.2 690.1 L857.7 689.9 L858.2 690.1 L858.7 690.6 L859.2 690.3 L859.7 690.2 L860.2 690.3 L860.7 690.5 L861.2 690.5 L861.7 689.9 L862.2 689.8 L862.7 690.4 L863.2 690.5 L863.7 690.2 L864.2 690.2 L864.7 690.3 L865.2 690.3 L865.7 690.0 L866.2 689.7 L866.7 690.1 L867.2 690.2 L867.7 690.2 L868.2 690.6 L868.7 690.5 L869.2 690.1 L869.7 690.1 L870.2 689.9 L870.7 690.0 L871.2 689.9 L871.7 689.5 L872.2 690.0 L872.7 690.4 L873.2 690.4 L873.7 690.4 L874.2 690.2 L874.7 690.3 L875.2 690.4 L875.7 690.1 L876.2 690.2 L876.7 690.2 L877.2 690.0 L877.7 690.7 L878.2 690.7 L878.7 690.5 L879.2 690.4 L879.7 690.2 L880.2 690.3 L880.7 690.2 L881.2 690.1 L881.7 689.8 L882.2 690.1 L882.7 689.9 L883.2 689.7 L883.7 690.1 L884.2 690.2 L884.7 689.9 L885.2 689.8 L885.7 690.0 L886.2 690.1 L886.7 690.1 L887.2 690.2 L887.7 690.5 L888.2 690.4 L888.7 689.7 L889.2 689.8 L889.7 690.2 L890.2 690.2 L890.7 689.9 L891.2 690.1 L891.7 690.4 L892.2 690.1 L892.7 689.9 L893.2 690.0 L893.7 690.2 L894.2 690.4 L894.7 690.3 L895.2 689.9 L895.7 690.0 L896.2 690.0 L896.7 690.1 L897.2 690.0 L897.7 689.9 L898.2 690.1 L898.7 690.1 L899.2 690.1 L899.7 689.9 L900.2 690.0 L900.7 690.0 L901.2 690.1 L901.7 690.1 L902.2 689.7 L902.7 689.7 L903.2 690.4 L903.7 690.5 L904.2 690.3 L904.7 690.4 L905.2 690.2 L905.7 689.8 L906.2 690.1 L906.7 690.5 L907.2 690.5 L907.7 690.3 L908.2 690.3 L908.7 690.2 L909.2 690.2 L909.7 690.2 L910.2 690.2 L910.7 690.0 L911.2 689.9 L911.7 690.2 L912.2 690.2 L912.7 689.7 L913.2 689.7 L913.7 689.8 L914.2 690.1 L914.7 690.6 L915.2 690.4 L915.7 690.2 L916.2 689.8 L916.7 689.9 L917.2 690.1 L917.7 690.0 L918.2 690.1 L918.7 690.3 L919.2 690.4 L919.7 690.1 L920.2 689.6 L920.7 689.8" fill="none" stroke="#8843a8" stroke-width="1.15"/>
<path d="M655.7 716.0 L656.2 716.0 L656.7 716.4 L657.2 716.7 L657.7 716.4 L658.2 716.3 L658.7 716.6 L659.2 716.4 L659.7 716.1 L660.2 716.3 L660.7 716.2 L661.2 716.0 L661.7 715.8 L662.2 715.9 L662.7 716.0 L663.2 716.1 L663.7 716.2 L664.2 716.3 L664.7 716.6 L665.2 716.1 L665.7 716.0 L666.2 716.2 L666.7 716.2 L667.2 716.4 L667.7 716.2 L668.2 716.2 L668.7 716.1 L669.2 716.0 L669.7 716.2 L670.2 716.1 L670.7 716.1 L671.2 716.0 L671.7 716.0 L672.2 716.0 L672.7 716.0 L673.2 716.3 L673.7 716.3 L674.2 716.1 L674.7 716.5 L675.2 716.6 L675.7 716.1 L676.2 716.0 L676.7 716.2 L677.2 716.2 L677.7 716.2 L678.2 716.1 L678.7 716.0 L679.2 716.1 L679.7 716.2 L680.2 716.2 L680.7 715.9 L681.2 716.0 L681.7 715.9 L682.2 715.7 L682.7 716.0 L683.2 715.9 L683.7 715.9 L684.2 716.1 L684.7 715.8 L685.2 716.0 L685.7 716.2 L686.2 716.1 L686.7 715.9 L687.2 716.2 L687.7 716.4 L688.2 716.2 L688.7 715.9 L689.2 715.8 L689.7 715.8 L690.2 716.1 L690.7 716.3 L691.2 716.2 L691.7 716.4 L692.2 716.3 L692.7 716.0 L693.2 715.9 L693.7 716.4 L694.2 716.1 L694.7 715.8 L695.2 716.2 L695.7 716.2 L696.2 716.5 L696.7 716.7 L697.2 716.4 L697.7 716.1 L698.2 716.0 L698.7 716.1 L699.2 716.0 L699.7 716.1 L700.2 716.0 L700.7 716.1 L701.2 716.5 L701.7 716.6 L702.2 716.3 L702.7 715.8 L703.2 715.9 L703.7 716.5 L704.2 716.3 L704.7 716.0 L705.2 716.1 L705.7 716.1 L706.2 716.1 L706.7 716.0 L707.2 715.7 L707.7 715.9 L708.2 715.8 L708.7 715.8 L709.2 716.2 L709.7 716.0 L710.2 716.0 L710.7 716.2 L711.2 716.1 L711.7 716.2 L712.2 716.1 L712.7 715.9 L713.2 715.7 L713.7 715.7 L714.2 715.8 L714.7 716.3 L715.2 716.6 L715.7 716.0 L716.2 716.0 L716.7 716.3 L717.2 716.1 L717.7 716.1 L718.2 716.3 L718.7 716.1 L719.2 715.9 L719.7 716.1 L720.2 716.0 L720.7 716.0 L721.2 716.1 L721.7 716.0 L722.2 715.8 L722.7 716.0 L723.2 716.3 L723.7 716.3 L724.2 716.0 L724.7 716.1 L725.2 716.3 L725.7 716.2 L726.2 716.4 L726.7 716.1 L727.2 715.9 L727.7 716.0 L728.2 715.8 L728.7 716.3 L729.2 716.6 L729.7 716.0 L730.2 715.9 L730.7 716.1 L731.2 716.2 L731.7 716.3 L732.2 716.1 L732.7 716.1 L733.2 716.2 L733.7 716.2 L734.2 716.1 L734.7 716.0 L735.2 716.2 L735.7 716.0 L736.2 715.9 L736.7 716.1 L737.2 716.0 L737.7 716.1 L738.2 716.0 L738.7 715.8 L739.2 715.9 L739.7 716.0 L740.2 716.1 L740.7 716.0 L741.2 716.2 L741.7 715.9 L742.2 715.9 L742.7 716.0 L743.2 715.9 L743.7 716.0 L744.2 716.2 L744.7 716.4 L745.2 716.5 L745.7 716.4 L746.2 716.0 L746.7 715.9 L747.2 716.1 L747.7 716.5 L748.2 716.4 L748.7 716.1 L749.2 716.0 L749.7 716.2 L750.2 716.2 L750.7 716.0 L751.2 715.5 L751.7 715.6 L752.2 716.2 L752.7 716.3 L753.2 715.7 L753.7 715.7 L754.2 715.8 L754.7 716.1 L755.2 716.5 L755.7 715.9 L756.2 716.0 L756.7 716.1 L757.2 716.1 L757.7 716.2 L758.2 715.9 L758.7 716.0 L759.2 716.0 L759.7 716.1 L760.2 716.3 L760.7 715.9 L761.2 715.6 L761.7 716.1 L762.2 716.6 L762.7 716.1 L763.2 716.2 L763.7 716.4 L764.2 716.1 L764.7 716.0 L765.2 716.0 L765.7 716.3 L766.2 716.4 L766.7 715.8 L767.2 716.1 L767.7 716.6 L768.2 716.1 L768.7 715.8 L769.2 715.9 L769.7 715.9 L770.2 716.2 L770.7 716.2 L771.2 716.0 L771.7 715.9 L772.2 716.1 L772.7 716.2 L773.2 716.5 L773.7 716.4 L774.2 716.1 L774.7 716.2 L775.2 716.0 L775.7 716.2 L776.2 716.4 L776.7 716.0 L777.2 715.9 L777.7 716.2 L778.2 716.1 L778.7 716.1 L779.2 716.5 L779.7 716.2 L780.2 716.3 L780.7 716.7 L781.2 716.5 L781.7 716.2 L782.2 716.5 L782.7 716.7 L783.2 716.2 L783.7 715.9 L784.2 716.0 L784.7 716.0 L785.2 715.8 L785.7 716.0 L786.2 716.3 L786.7 716.1 L787.2 716.4 L787.7 716.3 L788.2 716.0 L788.7 716.1 L789.2 716.1 L789.7 716.0 L790.2 716.2 L790.7 716.2 L791.2 716.3 L791.7 716.2 L792.2 716.0 L792.7 715.9 L793.2 715.8 L793.7 716.0 L794.2 716.2 L794.7 716.5 L795.2 716.3 L795.7 716.5 L796.2 716.7 L796.7 716.5 L797.2 716.1 L797.7 715.7 L798.2 715.8 L798.7 716.0 L799.2 715.9 L799.7 715.9 L800.2 715.8 L800.7 716.1 L801.2 716.2 L801.7 715.8 L802.2 716.1 L802.7 715.9 L803.2 716.0 L803.7 716.4 L804.2 716.2 L804.7 715.8 L805.2 715.8 L805.7 715.7 L806.2 716.0 L806.7 716.4 L807.2 716.0 L807.7 715.8 L808.2 716.0 L808.7 716.5 L809.2 716.1 L809.7 715.8 L810.2 715.7 L810.7 715.9 L811.2 716.3 L811.7 716.5 L812.2 716.5 L812.7 716.0 L813.2 715.9 L813.7 716.1 L814.2 716.0 L814.7 715.9 L815.2 716.3 L815.7 716.1 L816.2 715.8 L816.7 716.1 L817.2 716.6 L817.7 716.4 L818.2 716.1 L818.7 716.5 L819.2 716.3 L819.7 715.9 L820.2 715.8 L820.7 715.9 L821.2 716.1 L821.7 716.0 L822.2 715.9 L822.7 715.7 L823.2 715.6 L823.7 715.7 L824.2 716.0 L824.7 716.1 L825.2 715.9 L825.7 716.1 L826.2 716.3 L826.7 716.1 L827.2 715.8 L827.7 716.1 L828.2 716.3 L828.7 716.0 L829.2 716.0 L829.7 716.1 L830.2 716.3 L830.7 716.1 L831.2 716.1 L831.7 716.3 L832.2 716.0 L832.7 716.1 L833.2 716.5 L833.7 716.0 L834.2 716.2 L834.7 716.3 L835.2 715.7 L835.7 715.9 L836.2 716.2 L836.7 716.3 L837.2 716.2 L837.7 716.3 L838.2 716.4 L838.7 716.4 L839.2 716.9 L839.7 716.6 L840.2 715.7 L840.7 715.5 L841.2 715.8 L841.7 715.9 L842.2 716.1 L842.7 715.9 L843.2 715.7 L843.7 715.8 L844.2 716.0 L844.7 715.6 L845.2 715.8 L845.7 716.3 L846.2 716.1 L846.7 716.2 L847.2 716.0 L847.7 715.9 L848.2 716.3 L848.7 716.5 L849.2 716.4 L849.7 716.1 L850.2 715.9 L850.7 716.2 L851.2 716.4 L851.7 716.1 L852.2 715.6 L852.7 715.5 L853.2 715.6 L853.7 716.0 L854.2 716.4 L854.7 716.0 L855.2 715.9 L855.7 716.5 L856.2 716.8 L856.7 716.1 L857.2 715.8 L857.7 715.8 L858.2 715.5 L858.7 715.8 L859.2 716.6 L859.7 716.8 L860.2 716.4 L860.7 716.0 L861.2 716.1 L861.7 716.3 L862.2 716.0 L862.7 715.5 L863.2 716.1 L863.7 716.5 L864.2 716.5 L864.7 716.4 L865.2 716.4 L865.7 716.3 L866.2 716.1 L866.7 716.5 L867.2 716.6 L867.7 716.2 L868.2 716.2 L868.7 716.1 L869.2 715.7 L869.7 715.9 L870.2 716.5 L870.7 716.5 L871.2 716.0 L871.7 716.0 L872.2 716.4 L872.7 716.1 L873.2 715.5 L873.7 715.8 L874.2 716.5 L874.7 716.4 L875.2 715.9 L875.7 715.5 L876.2 716.0 L876.7 716.4 L877.2 716.3 L877.7 716.1 L878.2 716.1 L878.7 716.1 L879.2 715.9 L879.7 715.9 L880.2 716.0 L880.7 716.1 L881.2 716.2 L881.7 716.4 L882.2 716.1 L882.7 716.3 L883.2 716.2 L883.7 716.0 L884.2 716.4 L884.7 716.5 L885.2 715.9 L885.7 715.9 L886.2 716.5 L886.7 716.6 L887.2 716.0 L887.7 715.5 L888.2 716.0 L888.7 716.0 L889.2 716.3 L889.7 716.2 L890.2 716.2 L890.7 716.4 L891.2 715.9 L891.7 715.6 L892.2 715.8 L892.7 716.0 L893.2 716.3 L893.7 716.3 L894.2 716.2 L894.7 716.0 L895.2 715.2 L895.7 715.5 L896.2 716.1 L896.7 716.1 L897.2 715.8 L897.7 716.0 L898.2 716.5 L898.7 716.4 L899.2 715.9 L899.7 715.8 L900.2 716.3 L900.7 716.5 L901.2 716.2 L901.7 716.4 L902.2 716.5 L902.7 716.1 L903.2 716.1 L903.7 716.4 L904.2 716.4 L904.7 716.4 L905.2 716.2 L905.7 716.0 L906.2 716.0 L906.7 716.1 L907.2 716.1 L907.7 716.1 L908.2 716.0 L908.7 715.9 L909.2 716.0 L909.7 716.0 L910.2 716.1 L910.7 716.1 L911.2 716.0 L911.7 715.7 L912.2 715.9 L912.7 716.2 L913.2 715.9 L913.7 715.9 L914.2 716.1 L914.7 716.1 L915.2 716.0 L915.7 716.4 L916.2 716.6 L916.7 716.6 L917.2 716.4 L917.7 716.0 L918.2 716.1 L918.7 716.6 L919.2 716.5 L919.7 716.4 L920.2 716.3 L920.7 716.0" fill="none" stroke="#8843a8" stroke-width="1.15"/>
<path d="M655.7 735.3 L656.2 735.6 L656.7 735.1 L657.2 735.1 L657.7 735.3 L658.2 735.3 L658.7 735.3 L659.2 735.4 L659.7 735.5 L660.2 735.5 L660.7 735.0 L661.2 735.0 L661.7 735.3 L662.2 734.9 L662.7 735.0 L663.2 735.0 L663.7 735.0 L664.2 735.6 L664.7 735.3 L665.2 735.2 L665.7 735.4 L666.2 735.3 L666.7 735.0 L667.2 735.0 L667.7 735.2 L668.2 735.3 L668.7 735.2 L669.2 735.3 L669.7 735.4 L670.2 735.3 L670.7 735.5 L671.2 735.4 L671.7 735.3 L672.2 735.3 L672.7 735.3 L673.2 735.1 L673.7 735.2 L674.2 735.5 L674.7 735.3 L675.2 735.2 L675.7 735.3 L676.2 735.0 L676.7 735.0 L677.2 735.4 L677.7 735.3 L678.2 734.7 L678.7 734.8 L679.2 735.0 L679.7 735.3 L680.2 735.5 L680.7 735.1 L681.2 735.0 L681.7 735.0 L682.2 735.1 L682.7 734.8 L683.2 734.9 L683.7 734.9 L684.2 735.2 L684.7 735.1 L685.2 734.9 L685.7 735.0 L686.2 734.7 L686.7 735.2 L687.2 735.0 L687.7 735.0 L688.2 735.1 L688.7 734.9 L689.2 735.6 L689.7 735.1 L690.2 734.5 L690.7 735.1 L691.2 735.4 L691.7 735.0 L692.2 735.0 L692.7 734.9 L693.2 735.0 L693.7 735.4 L694.2 735.3 L694.7 735.1 L695.2 735.4 L695.7 735.7 L696.2 735.4 L696.7 735.1 L697.2 735.1 L697.7 734.9 L698.2 734.9 L698.7 734.9 L699.2 734.7 L699.7 734.4 L700.2 734.6 L700.7 735.0 L701.2 735.4 L701.7 735.2 L702.2 735.0 L702.7 735.2 L703.2 735.4 L703.7 735.2 L704.2 735.1 L704.7 735.5 L705.2 735.4 L705.7 735.0 L706.2 734.7 L706.7 734.9 L707.2 735.1 L707.7 735.4 L708.2 735.4 L708.7 735.2 L709.2 735.4 L709.7 735.6 L710.2 735.2 L710.7 735.2 L711.2 735.4 L711.7 735.1 L712.2 735.0 L712.7 735.0 L713.2 735.0 L713.7 734.6 L714.2 734.8 L714.7 735.2 L715.2 734.9 L715.7 734.9 L716.2 735.5 L716.7 735.6 L717.2 735.1 L717.7 735.4 L718.2 735.3 L718.7 734.9 L719.2 735.0 L719.7 735.0 L720.2 735.2 L720.7 735.4 L721.2 735.1 L721.7 735.0 L722.2 735.1 L722.7 735.1 L723.2 735.0 L723.7 735.0 L724.2 734.8 L724.7 735.0 L725.2 734.9 L725.7 735.0 L726.2 735.2 L726.7 734.9 L727.2 734.8 L727.7 734.9 L728.2 735.0 L728.7 735.1 L729.2 735.1 L729.7 734.9 L730.2 735.2 L730.7 735.5 L731.2 735.3 L731.7 735.3 L732.2 735.3 L732.7 735.1 L733.2 735.1 L733.7 735.6 L734.2 735.8 L734.7 735.5 L735.2 735.2 L735.7 735.1 L736.2 735.6 L736.7 735.6 L737.2 735.4 L737.7 735.5 L738.2 735.5 L738.7 735.5 L739.2 735.4 L739.7 735.2 L740.2 735.1 L740.7 735.5 L741.2 735.7 L741.7 735.2 L742.2 735.4 L742.7 735.3 L743.2 735.0 L743.7 735.0 L744.2 735.0 L744.7 735.0 L745.2 735.1 L745.7 735.2 L746.2 735.0 L746.7 734.9 L747.2 735.0 L747.7 735.0 L748.2 735.2 L748.7 735.4 L749.2 735.3 L749.7 734.9 L750.2 735.0 L750.7 735.0 L751.2 734.9 L751.7 735.2 L752.2 735.0 L752.7 734.8 L753.2 734.8 L753.7 735.4 L754.2 735.4 L754.7 735.0 L755.2 735.2 L755.7 735.4 L756.2 735.4 L756.7 735.1 L757.2 734.7 L757.7 735.5 L758.2 735.7 L758.7 735.0 L759.2 735.1 L759.7 735.3 L760.2 735.1 L760.7 734.9 L761.2 735.2 L761.7 735.2 L762.2 735.3 L762.7 735.0 L763.2 734.9 L763.7 734.5 L764.2 734.8 L764.7 735.0 L765.2 734.8 L765.7 735.3 L766.2 735.3 L766.7 735.1 L767.2 735.2 L767.7 735.2 L768.2 735.2 L768.7 735.0 L769.2 735.3 L769.7 735.3 L770.2 734.8 L770.7 734.8 L771.2 735.1 L771.7 735.0 L772.2 735.0 L772.7 735.4 L773.2 735.6 L773.7 735.4 L774.2 735.1 L774.7 734.9 L775.2 734.7 L775.7 735.1 L776.2 735.2 L776.7 735.2 L777.2 735.1 L777.7 735.0 L778.2 734.9 L778.7 735.1 L779.2 735.3 L779.7 735.3 L780.2 735.4 L780.7 735.5 L781.2 735.0 L781.7 734.7 L782.2 735.0 L782.7 735.0 L783.2 735.2 L783.7 735.4 L784.2 735.2 L784.7 735.1 L785.2 735.4 L785.7 735.3 L786.2 735.0 L786.7 735.2 L787.2 735.4 L787.7 735.5 L788.2 735.4 L788.7 735.3 L789.2 735.1 L789.7 734.8 L790.2 734.9 L790.7 734.6 L791.2 734.7 L791.7 735.4 L792.2 735.3 L792.7 735.1 L793.2 735.3 L793.7 735.3 L794.2 735.3 L794.7 735.7 L795.2 735.6 L795.7 735.4 L796.2 735.4 L796.7 735.2 L797.2 735.2 L797.7 735.2 L798.2 735.3 L798.7 735.0 L799.2 734.8 L799.7 735.2 L800.2 735.1 L800.7 734.9 L801.2 735.0 L801.7 735.1 L802.2 735.3 L802.7 735.5 L803.2 735.5 L803.7 735.1 L804.2 735.0 L804.7 735.3 L805.2 735.5 L805.7 735.0 L806.2 734.8 L806.7 734.8 L807.2 734.9 L807.7 735.3 L808.2 735.3 L808.7 735.4 L809.2 735.3 L809.7 735.1 L810.2 735.1 L810.7 735.4 L811.2 735.3 L811.7 735.1 L812.2 734.9 L812.7 735.1 L813.2 735.2 L813.7 734.9 L814.2 734.9 L814.7 734.9 L815.2 734.9 L815.7 735.3 L816.2 735.5 L816.7 735.5 L817.2 735.6 L817.7 735.2 L818.2 735.0 L818.7 735.5 L819.2 735.8 L819.7 735.3 L820.2 734.6 L820.7 734.9 L821.2 735.1 L821.7 734.9 L822.2 735.0 L822.7 735.0 L823.2 734.6 L823.7 734.7 L824.2 735.1 L824.7 735.2 L825.2 735.4 L825.7 735.3 L826.2 735.1 L826.7 734.9 L827.2 734.7 L827.7 734.7 L828.2 735.2 L828.7 735.4 L829.2 735.6 L829.7 735.5 L830.2 734.8 L830.7 734.9 L831.2 735.4 L831.7 735.1 L832.2 734.6 L832.7 734.8 L833.2 735.3 L833.7 735.0 L834.2 734.8 L834.7 734.9 L835.2 734.8 L835.7 734.7 L836.2 734.9 L836.7 735.1 L837.2 734.9 L837.7 734.5 L838.2 735.0 L838.7 735.3 L839.2 734.9 L839.7 734.9 L840.2 735.0 L840.7 734.9 L841.2 734.8 L841.7 735.1 L842.2 735.2 L842.7 735.1 L843.2 734.8 L843.7 734.9 L844.2 735.4 L844.7 735.2 L845.2 734.9 L845.7 735.0 L846.2 735.0 L846.7 735.3 L847.2 735.2 L847.7 735.2 L848.2 735.2 L848.7 735.0 L849.2 735.0 L849.7 734.8 L850.2 734.7 L850.7 734.9 L851.2 734.9 L851.7 735.2 L852.2 735.3 L852.7 735.3 L853.2 735.4 L853.7 734.9 L854.2 734.7 L854.7 735.2 L855.2 735.1 L855.7 734.8 L856.2 735.0 L856.7 735.4 L857.2 735.5 L857.7 735.3 L858.2 735.2 L858.7 735.4 L859.2 735.6 L859.7 735.7 L860.2 735.4 L860.7 735.1 L861.2 735.1 L861.7 735.2 L862.2 735.1 L862.7 735.2 L863.2 735.1 L863.7 734.8 L864.2 735.0 L864.7 735.1 L865.2 735.0 L865.7 734.7 L866.2 734.9 L866.7 735.2 L867.2 735.1 L867.7 735.2 L868.2 735.2 L868.7 735.0 L869.2 735.3 L869.7 735.4 L870.2 735.2 L870.7 735.6 L871.2 735.3 L871.7 735.0 L872.2 735.0 L872.7 735.1 L873.2 735.2 L873.7 734.8 L874.2 735.1 L874.7 735.5 L875.2 735.1 L875.7 735.2 L876.2 735.4 L876.7 735.6 L877.2 735.9 L877.7 735.3 L878.2 735.0 L878.7 734.9 L879.2 735.0 L879.7 735.1 L880.2 735.2 L880.7 735.3 L881.2 734.8 L881.7 734.7 L882.2 735.2 L882.7 735.6 L883.2 735.3 L883.7 735.0 L884.2 735.0 L884.7 735.1 L885.2 734.8 L885.7 735.0 L886.2 735.1 L886.7 735.0 L887.2 734.7 L887.7 734.7 L888.2 735.4 L888.7 734.9 L889.2 735.0 L889.7 735.5 L890.2 735.1 L890.7 734.7 L891.2 735.0 L891.7 735.4 L892.2 735.3 L892.7 735.2 L893.2 734.9 L893.7 735.1 L894.2 735.1 L894.7 735.1 L895.2 735.0 L895.7 734.6 L896.2 734.7 L896.7 735.1 L897.2 735.0 L897.7 734.6 L898.2 735.0 L898.7 735.3 L899.2 735.5 L899.7 735.8 L900.2 735.5 L900.7 735.3 L901.2 734.9 L901.7 734.6 L902.2 734.9 L902.7 735.0 L903.2 734.8 L903.7 734.7 L904.2 734.8 L904.7 735.1 L905.2 735.4 L905.7 735.1 L906.2 735.0 L906.7 735.1 L907.2 735.0 L907.7 734.9 L908.2 734.7 L908.7 734.9 L909.2 735.4 L909.7 735.3 L910.2 735.3 L910.7 735.3 L911.2 735.5 L911.7 735.5 L912.2 734.9 L912.7 734.7 L913.2 735.0 L913.7 735.4 L914.2 735.4 L914.7 735.4 L915.2 735.3 L915.7 734.9 L916.2 734.7 L916.7 734.6 L917.2 734.7 L917.7 734.8 L918.2 734.9 L918.7 735.1 L919.2 734.7 L919.7 734.9 L920.2 735.4 L920.7 735.0" fill="none" stroke="#8843a8" stroke-width="1.15"/>
<path d="M655.7 746.5 L656.2 746.7 L656.7 746.6 L657.2 746.6 L657.7 746.7 L658.2 746.8 L658.7 746.8 L659.2 746.5 L659.7 746.6 L660.2 746.8 L660.7 746.7 L661.2 746.5 L661.7 746.2 L662.2 746.2 L662.7 746.3 L663.2 746.4 L663.7 746.6 L664.2 746.5 L664.7 746.5 L665.2 746.5 L665.7 746.9 L666.2 747.1 L666.7 746.6 L667.2 746.5 L667.7 746.5 L668.2 746.4 L668.7 746.4 L669.2 746.3 L669.7 746.1 L670.2 745.7 L670.7 746.0 L671.2 746.8 L671.7 746.6 L672.2 746.4 L672.7 746.5 L673.2 746.5 L673.7 746.4 L674.2 746.3 L674.7 746.4 L675.2 746.0 L675.7 746.0 L676.2 746.5 L676.7 745.9 L677.2 746.1 L677.7 746.6 L678.2 746.5 L678.7 746.6 L679.2 746.5 L679.7 746.2 L680.2 746.2 L680.7 746.3 L681.2 746.9 L681.7 747.4 L682.2 746.8 L682.7 746.3 L683.2 746.5 L683.7 746.7 L684.2 746.5 L684.7 746.1 L685.2 746.7 L685.7 747.1 L686.2 746.4 L686.7 745.8 L687.2 745.9 L687.7 746.4 L688.2 746.7 L688.7 746.5 L689.2 746.1 L689.7 746.2 L690.2 746.7 L690.7 746.6 L691.2 746.4 L691.7 746.5 L692.2 746.6 L692.7 746.2 L693.2 746.3 L693.7 746.2 L694.2 746.4 L694.7 746.8 L695.2 746.4 L695.7 746.3 L696.2 746.8 L696.7 746.3 L697.2 746.0 L697.7 746.8 L698.2 746.5 L698.7 746.1 L699.2 746.1 L699.7 746.2 L700.2 746.0 L700.7 745.6 L701.2 746.0 L701.7 746.4 L702.2 746.6 L702.7 746.7 L703.2 746.8 L703.7 746.9 L704.2 746.8 L704.7 746.4 L705.2 746.2 L705.7 747.1 L706.2 747.7 L706.7 747.2 L707.2 746.8 L707.7 746.9 L708.2 746.6 L708.7 746.8 L709.2 746.8 L709.7 746.4 L710.2 746.9 L710.7 746.5 L711.2 746.1 L711.7 746.2 L712.2 746.0 L712.7 746.3 L713.2 746.4 L713.7 746.4 L714.2 746.4 L714.7 746.3 L715.2 746.2 L715.7 746.1 L716.2 746.1 L716.7 746.3 L717.2 746.3 L717.7 746.4 L718.2 746.5 L718.7 746.3 L719.2 746.7 L719.7 746.8 L720.2 746.1 L720.7 746.2 L721.2 746.0 L721.7 745.9 L722.2 746.5 L722.7 746.1 L723.2 746.2 L723.7 746.4 L724.2 746.9 L724.7 746.8 L725.2 746.8 L725.7 747.2 L726.2 746.7 L726.7 746.2 L727.2 746.6 L727.7 746.7 L728.2 746.5 L728.7 746.5 L729.2 746.2 L729.7 746.1 L730.2 746.2 L730.7 745.9 L731.2 746.1 L731.7 746.8 L732.2 747.2 L732.7 746.8 L733.2 746.5 L733.7 746.6 L734.2 746.9 L734.7 746.9 L735.2 746.5 L735.7 746.3 L736.2 746.7 L736.7 747.3 L737.2 746.9 L737.7 745.9 L738.2 746.2 L738.7 746.6 L739.2 746.5 L739.7 746.8 L740.2 746.8 L740.7 746.2 L741.2 745.8 L741.7 746.0 L742.2 746.2 L742.7 746.3 L743.2 746.3 L743.7 746.1 L744.2 746.1 L744.7 746.1 L745.2 746.3 L745.7 746.5 L746.2 746.9 L746.7 746.7 L747.2 746.3 L747.7 746.7 L748.2 747.0 L748.7 746.7 L749.2 746.8 L749.7 746.9 L750.2 747.0 L750.7 746.9 L751.2 746.8 L751.7 746.5 L752.2 746.2 L752.7 746.3 L753.2 746.5 L753.7 746.5 L754.2 746.6 L754.7 746.6 L755.2 746.4 L755.7 746.0 L756.2 746.3 L756.7 746.8 L757.2 746.4 L757.7 746.4 L758.2 746.7 L758.7 746.6 L759.2 746.1 L759.7 745.8 L760.2 746.1 L760.7 746.7 L761.2 746.7 L761.7 746.2 L762.2 746.2 L762.7 746.1 L763.2 746.5 L763.7 746.1 L764.2 745.4 L764.7 746.0 L765.2 746.6 L765.7 746.4 L766.2 746.6 L766.7 746.9 L767.2 746.2 L767.7 746.0 L768.2 746.7 L768.7 746.6 L769.2 746.3 L769.7 746.6 L770.2 746.6 L770.7 746.2 L771.2 746.1 L771.7 746.0 L772.2 746.3 L772.7 746.2 L773.2 746.3 L773.7 746.3 L774.2 746.1 L774.7 746.2 L775.2 746.1 L775.7 746.6 L776.2 747.0 L776.7 747.0 L777.2 746.8 L777.7 746.5 L778.2 746.6 L778.7 746.7 L779.2 746.5 L779.7 746.6 L780.2 746.8 L780.7 746.8 L781.2 746.8 L781.7 746.7 L782.2 746.5 L782.7 746.2 L783.2 746.1 L783.7 746.1 L784.2 746.4 L784.7 746.6 L785.2 746.4 L785.7 746.9 L786.2 747.2 L786.7 746.7 L787.2 747.0 L787.7 746.2 L788.2 745.9 L788.7 746.8 L789.2 746.3 L789.7 746.1 L790.2 746.5 L790.7 746.2 L791.2 746.4 L791.7 746.1 L792.2 746.1 L792.7 746.4 L793.2 746.2 L793.7 746.5 L794.2 747.4 L794.7 747.3 L795.2 746.7 L795.7 746.6 L796.2 746.3 L796.7 746.4 L797.2 746.9 L797.7 746.9 L798.2 746.7 L798.7 746.6 L799.2 747.0 L799.7 746.7 L800.2 746.3 L800.7 746.7 L801.2 746.7 L801.7 746.3 L802.2 746.0 L802.7 746.2 L803.2 746.5 L803.7 746.2 L804.2 746.0 L804.7 746.4 L805.2 746.8 L805.7 746.6 L806.2 746.2 L806.7 746.2 L807.2 746.9 L807.7 747.1 L808.2 746.6 L808.7 746.7 L809.2 747.2 L809.7 747.3 L810.2 746.4 L810.7 746.1 L811.2 746.4 L811.7 746.3 L812.2 746.1 L812.7 746.1 L813.2 746.2 L813.7 746.3 L814.2 746.6 L814.7 746.2 L815.2 745.8 L815.7 746.0 L816.2 746.5 L816.7 746.7 L817.2 746.6 L817.7 745.7 L818.2 745.6 L818.7 746.2 L819.2 746.2 L819.7 746.1 L820.2 746.1 L820.7 746.2 L821.2 746.9 L821.7 747.2 L822.2 746.6 L822.7 746.4 L823.2 746.4 L823.7 746.5 L824.2 746.4 L824.7 746.4 L825.2 746.7 L825.7 746.9 L826.2 746.7 L826.7 746.8 L827.2 746.8 L827.7 746.3 L828.2 745.9 L828.7 745.9 L829.2 746.3 L829.7 746.6 L830.2 746.8 L830.7 746.6 L831.2 746.2 L831.7 746.5 L832.2 746.9 L832.7 746.6 L833.2 746.5 L833.7 746.9 L834.2 746.9 L834.7 746.5 L835.2 746.0 L835.7 746.3 L836.2 746.9 L836.7 746.7 L837.2 746.4 L837.7 746.1 L838.2 746.2 L838.7 746.4 L839.2 746.7 L839.7 746.5 L840.2 746.5 L840.7 746.8 L841.2 746.8 L841.7 746.5 L842.2 746.3 L842.7 746.8 L843.2 746.8 L843.7 746.2 L844.2 746.1 L844.7 746.5 L845.2 746.3 L845.7 745.8 L846.2 746.2 L846.7 746.3 L847.2 746.4 L847.7 746.4 L848.2 745.8 L848.7 745.9 L849.2 746.6 L849.7 746.6 L850.2 746.3 L850.7 746.5 L851.2 746.3 L851.7 746.5 L852.2 746.8 L852.7 746.6 L853.2 746.2 L853.7 745.7 L854.2 745.5 L854.7 745.8 L855.2 746.4 L855.7 746.6 L856.2 747.0 L856.7 746.8 L857.2 746.4 L857.7 746.5 L858.2 746.9 L858.7 746.6 L859.2 746.4 L859.7 746.6 L860.2 746.4 L860.7 746.6 L861.2 746.5 L861.7 746.1 L862.2 746.4 L862.7 746.6 L863.2 746.4 L863.7 746.4 L864.2 746.6 L864.7 746.5 L865.2 746.6 L865.7 746.7 L866.2 746.9 L866.7 747.1 L867.2 747.0 L867.7 746.6 L868.2 746.5 L868.7 746.4 L869.2 747.0 L869.7 747.1 L870.2 746.6 L870.7 746.9 L871.2 746.5 L871.7 746.0 L872.2 746.2 L872.7 746.2 L873.2 746.0 L873.7 746.1 L874.2 746.7 L874.7 746.9 L875.2 746.7 L875.7 746.5 L876.2 746.1 L876.7 746.3 L877.2 746.7 L877.7 746.3 L878.2 746.3 L878.7 746.5 L879.2 746.3 L879.7 746.1 L880.2 746.1 L880.7 746.1 L881.2 746.4 L881.7 746.7 L882.2 746.6 L882.7 746.5 L883.2 746.4 L883.7 746.9 L884.2 746.5 L884.7 746.3 L885.2 746.8 L885.7 746.6 L886.2 746.4 L886.7 746.3 L887.2 746.2 L887.7 745.9 L888.2 746.2 L888.7 746.1 L889.2 746.3 L889.7 746.9 L890.2 746.0 L890.7 745.4 L891.2 746.2 L891.7 746.6 L892.2 746.6 L892.7 746.6 L893.2 746.7 L893.7 746.8 L894.2 747.1 L894.7 746.9 L895.2 746.7 L895.7 746.3 L896.2 746.1 L896.7 746.2 L897.2 746.5 L897.7 747.3 L898.2 747.1 L898.7 746.3 L899.2 746.2 L899.7 746.5 L900.2 746.5 L900.7 746.8 L901.2 746.9 L901.7 746.1 L902.2 746.2 L902.7 746.7 L903.2 746.3 L903.7 746.7 L904.2 746.7 L904.7 746.1 L905.2 745.9 L905.7 746.2 L906.2 746.7 L906.7 747.0 L907.2 746.8 L907.7 746.3 L908.2 746.7 L908.7 746.7 L909.2 746.7 L909.7 746.9 L910.2 746.6 L910.7 746.5 L911.2 746.5 L911.7 746.5 L912.2 746.2 L912.7 746.3 L913.2 746.3 L913.7 746.4 L914.2 746.6 L914.7 746.5 L915.2 746.4 L915.7 746.4 L916.2 746.8 L916.7 746.9 L917.2 746.4 L917.7 746.3 L918.2 746.6 L918.7 746.6 L919.2 746.4 L919.7 746.4 L920.2 746.5 L920.7 746.6" fill="none" stroke="#8843a8" stroke-width="1.15"/>
<path d="M655.7 753.7 L656.2 753.3 L656.7 752.9 L657.2 752.6 L657.7 753.1 L658.2 754.1 L658.7 754.2 L659.2 754.0 L659.7 753.9 L660.2 753.9 L660.7 753.5 L661.2 753.2 L661.7 753.0 L662.2 753.2 L662.7 753.7 L663.2 754.2 L663.7 753.9 L664.2 753.6 L664.7 753.8 L665.2 753.5 L665.7 753.0 L666.2 753.0 L666.7 753.0 L667.2 753.1 L667.7 753.5 L668.2 753.5 L668.7 753.5 L669.2 753.7 L669.7 753.5 L670.2 753.6 L670.7 753.4 L671.2 753.2 L671.7 753.7 L672.2 753.5 L672.7 753.0 L673.2 753.3 L673.7 753.6 L674.2 753.6 L674.7 754.0 L675.2 753.8 L675.7 753.6 L676.2 753.8 L676.7 753.9 L677.2 753.4 L677.7 753.4 L678.2 753.8 L678.7 753.8 L679.2 753.7 L679.7 753.6 L680.2 753.5 L680.7 753.3 L681.2 753.0 L681.7 753.5 L682.2 753.7 L682.7 753.5 L683.2 753.3 L683.7 753.2 L684.2 753.4 L684.7 754.1 L685.2 754.1 L685.7 753.1 L686.2 753.6 L686.7 754.1 L687.2 753.3 L687.7 753.1 L688.2 753.9 L688.7 753.5 L689.2 753.4 L689.7 753.6 L690.2 753.2 L690.7 753.2 L691.2 753.4 L691.7 753.1 L692.2 753.8 L692.7 754.0 L693.2 753.3 L693.7 753.6 L694.2 753.8 L694.7 753.9 L695.2 753.9 L695.7 753.6 L696.2 753.7 L696.7 753.7 L697.2 753.6 L697.7 753.5 L698.2 754.0 L698.7 753.8 L699.2 753.3 L699.7 753.4 L700.2 753.6 L700.7 753.8 L701.2 753.9 L701.7 753.5 L702.2 753.3 L702.7 753.6 L703.2 753.5 L703.7 753.6 L704.2 753.1 L704.7 753.2 L705.2 753.7 L705.7 753.3 L706.2 753.2 L706.7 754.0 L707.2 753.9 L707.7 753.6 L708.2 753.7 L708.7 753.3 L709.2 753.1 L709.7 753.3 L710.2 753.8 L710.7 754.1 L711.2 753.6 L711.7 753.7 L712.2 753.8 L712.7 753.4 L713.2 753.5 L713.7 753.5 L714.2 753.0 L714.7 753.5 L715.2 753.5 L715.7 753.3 L716.2 753.3 L716.7 753.2 L717.2 753.5 L717.7 753.4 L718.2 752.9 L718.7 753.0 L719.2 753.5 L719.7 753.4 L720.2 753.3 L720.7 753.8 L721.2 753.7 L721.7 753.5 L722.2 753.4 L722.7 753.4 L723.2 753.8 L723.7 754.4 L724.2 754.4 L724.7 753.9 L725.2 754.0 L725.7 753.7 L726.2 753.6 L726.7 753.7 L727.2 753.3 L727.7 753.7 L728.2 753.9 L728.7 754.0 L729.2 753.6 L729.7 753.3 L730.2 753.5 L730.7 753.4 L731.2 753.0 L731.7 753.3 L732.2 753.9 L732.7 753.4 L733.2 753.0 L733.7 753.0 L734.2 753.7 L734.7 753.9 L735.2 753.5 L735.7 753.6 L736.2 753.7 L736.7 753.7 L737.2 753.8 L737.7 753.9 L738.2 753.9 L738.7 753.5 L739.2 753.3 L739.7 753.5 L740.2 753.5 L740.7 753.6 L741.2 753.4 L741.7 753.3 L742.2 753.7 L742.7 753.7 L743.2 753.1 L743.7 753.4 L744.2 754.0 L744.7 753.8 L745.2 753.6 L745.7 753.4 L746.2 753.3 L746.7 753.8 L747.2 754.1 L747.7 753.8 L748.2 753.6 L748.7 753.1 L749.2 753.3 L749.7 753.8 L750.2 754.0 L750.7 754.4 L751.2 754.2 L751.7 753.9 L752.2 753.6 L752.7 753.6 L753.2 754.1 L753.7 754.2 L754.2 754.1 L754.7 753.9 L755.2 754.1 L755.7 753.8 L756.2 753.6 L756.7 754.0 L757.2 753.7 L757.7 753.1 L758.2 753.4 L758.7 753.7 L759.2 753.8 L759.7 753.9 L760.2 753.6 L760.7 753.5 L761.2 754.0 L761.7 753.8 L762.2 753.4 L762.7 753.3 L763.2 753.5 L763.7 754.3 L764.2 753.7 L764.7 753.5 L765.2 754.0 L765.7 753.7 L766.2 753.4 L766.7 753.3 L767.2 753.2 L767.7 753.5 L768.2 753.8 L768.7 753.8 L769.2 753.8 L769.7 753.9 L770.2 753.4 L770.7 753.7 L771.2 754.3 L771.7 753.7 L772.2 753.9 L772.7 754.2 L773.2 753.8 L773.7 754.1 L774.2 753.5 L774.7 752.6 L775.2 753.4 L775.7 753.7 L776.2 753.3 L776.7 753.7 L777.2 754.1 L777.7 753.4 L778.2 753.1 L778.7 753.7 L779.2 754.3 L779.7 753.6 L780.2 753.2 L780.7 753.6 L781.2 753.1 L781.7 753.1 L782.2 753.2 L782.7 753.1 L783.2 753.9 L783.7 754.1 L784.2 753.9 L784.7 754.0 L785.2 753.9 L785.7 753.9 L786.2 753.6 L786.7 753.2 L787.2 753.7 L787.7 753.6 L788.2 753.3 L788.7 753.8 L789.2 754.3 L789.7 753.8 L790.2 753.3 L790.7 753.6 L791.2 753.8 L791.7 753.5 L792.2 753.6 L792.7 753.9 L793.2 753.8 L793.7 754.4 L794.2 754.7 L794.7 754.2 L795.2 754.1 L795.7 754.6 L796.2 754.6 L796.7 753.7 L797.2 753.5 L797.7 753.7 L798.2 753.5 L798.7 753.5 L799.2 753.7 L799.7 753.7 L800.2 753.5 L800.7 753.7 L801.2 753.4 L801.7 753.4 L802.2 753.8 L802.7 753.7 L803.2 753.1 L803.7 753.4 L804.2 753.6 L804.7 753.0 L805.2 753.6 L805.7 753.6 L806.2 753.4 L806.7 753.0 L807.2 753.0 L807.7 753.6 L808.2 753.8 L808.7 753.7 L809.2 753.6 L809.7 753.8 L810.2 753.6 L810.7 753.3 L811.2 753.9 L811.7 753.9 L812.2 753.7 L812.7 753.9 L813.2 754.0 L813.7 753.8 L814.2 753.6 L814.7 753.8 L815.2 753.6 L815.7 753.6 L816.2 753.5 L816.7 753.4 L817.2 753.5 L817.7 753.7 L818.2 753.8 L818.7 753.3 L819.2 753.2 L819.7 753.5 L820.2 753.4 L820.7 753.7 L821.2 754.1 L821.7 753.9 L822.2 753.6 L822.7 753.3 L823.2 753.8 L823.7 753.5 L824.2 753.4 L824.7 753.7 L825.2 753.5 L825.7 753.5 L826.2 753.4 L826.7 753.4 L827.2 753.4 L827.7 753.0 L828.2 753.7 L828.7 753.8 L829.2 752.9 L829.7 753.3 L830.2 753.7 L830.7 752.5 L831.2 752.7 L831.7 753.8 L832.2 753.9 L832.7 754.1 L833.2 754.0 L833.7 753.7 L834.2 753.5 L834.7 753.4 L835.2 754.0 L835.7 754.1 L836.2 753.8 L836.7 753.2 L837.2 753.0 L837.7 753.2 L838.2 753.5 L838.7 753.6 L839.2 753.5 L839.7 753.5 L840.2 753.8 L840.7 753.8 L841.2 753.4 L841.7 754.3 L842.2 754.3 L842.7 753.5 L843.2 753.6 L843.7 754.0 L844.2 754.1 L844.7 753.3 L845.2 753.2 L845.7 753.1 L846.2 753.6 L846.7 754.1 L847.2 753.5 L847.7 753.7 L848.2 753.9 L848.7 753.4 L849.2 753.7 L849.7 754.0 L850.2 753.1 L850.7 753.5 L851.2 754.4 L851.7 754.3 L852.2 754.1 L852.7 753.5 L853.2 753.6 L853.7 754.3 L854.2 754.3 L854.7 754.2 L855.2 753.8 L855.7 753.7 L856.2 754.1 L856.7 753.5 L857.2 752.8 L857.7 753.0 L858.2 753.5 L858.7 753.8 L859.2 753.7 L859.7 753.6 L860.2 753.6 L860.7 753.6 L861.2 753.8 L861.7 753.9 L862.2 753.7 L862.7 753.7 L863.2 753.6 L863.7 753.7 L864.2 753.7 L864.7 753.9 L865.2 754.0 L865.7 753.7 L866.2 753.5 L866.7 753.3 L867.2 753.6 L867.7 753.7 L868.2 753.5 L868.7 753.2 L869.2 753.3 L869.7 753.7 L870.2 753.8 L870.7 754.1 L871.2 753.9 L871.7 753.0 L872.2 753.1 L872.7 753.1 L873.2 752.8 L873.7 753.6 L874.2 754.0 L874.7 753.6 L875.2 753.3 L875.7 753.4 L876.2 753.2 L876.7 753.3 L877.2 753.7 L877.7 754.0 L878.2 753.8 L878.7 753.6 L879.2 753.7 L879.7 753.7 L880.2 753.6 L880.7 753.6 L881.2 753.7 L881.7 753.3 L882.2 753.4 L882.7 753.7 L883.2 753.9 L883.7 754.1 L884.2 754.2 L884.7 753.2 L885.2 752.9 L885.7 753.0 L886.2 753.0 L886.7 753.7 L887.2 753.4 L887.7 753.0 L888.2 753.4 L888.7 753.6 L889.2 754.0 L889.7 754.1 L890.2 753.8 L890.7 754.2 L891.2 753.9 L891.7 753.5 L892.2 753.4 L892.7 753.4 L893.2 754.0 L893.7 754.2 L894.2 754.0 L894.7 753.4 L895.2 753.3 L895.7 753.1 L896.2 753.3 L896.7 754.0 L897.2 753.4 L897.7 752.5 L898.2 753.4 L898.7 753.6 L899.2 753.3 L899.7 753.4 L900.2 753.5 L900.7 754.0 L901.2 753.9 L901.7 753.9 L902.2 753.9 L902.7 753.8 L903.2 754.2 L903.7 754.4 L904.2 753.7 L904.7 753.3 L905.2 753.4 L905.7 753.5 L906.2 753.6 L906.7 753.5 L907.2 753.6 L907.7 753.8 L908.2 753.7 L908.7 753.7 L909.2 753.8 L909.7 753.5 L910.2 753.7 L910.7 754.1 L911.2 753.8 L911.7 753.9 L912.2 754.1 L912.7 754.1 L913.2 753.9 L913.7 753.7 L914.2 753.2 L914.7 753.3 L915.2 753.6 L915.7 753.5 L916.2 754.2 L916.7 753.8 L917.2 753.2 L917.7 754.0 L918.2 754.2 L918.7 754.2 L919.2 753.6 L919.7 753.1 L920.2 753.6 L920.7 753.7" fill="none" stroke="#8843a8" stroke-width="1.15"/>
<path d="M655.7 762.2 L656.2 762.3 L656.7 761.8 L657.2 761.9 L657.7 761.7 L658.2 761.6 L658.7 761.5 L659.2 761.4 L659.7 761.5 L660.2 761.6 L660.7 761.3 L661.2 760.7 L661.7 761.3 L662.2 761.9 L662.7 761.4 L663.2 761.3 L663.7 761.2 L664.2 762.0 L664.7 761.8 L665.2 761.7 L665.7 761.9 L666.2 761.5 L666.7 761.7 L667.2 761.4 L667.7 761.8 L668.2 762.2 L668.7 761.8 L669.2 761.3 L669.7 762.0 L670.2 762.8 L670.7 762.1 L671.2 761.6 L671.7 761.7 L672.2 761.8 L672.7 762.1 L673.2 761.7 L673.7 761.4 L674.2 761.4 L674.7 761.8 L675.2 762.6 L675.7 762.2 L676.2 761.8 L676.7 762.3 L677.2 762.0 L677.7 761.3 L678.2 761.7 L678.7 762.1 L679.2 761.8 L679.7 762.1 L680.2 762.2 L680.7 761.2 L681.2 761.2 L681.7 761.7 L682.2 762.2 L682.7 762.3 L683.2 761.6 L683.7 761.7 L684.2 761.9 L684.7 761.3 L685.2 761.2 L685.7 761.6 L686.2 762.0 L686.7 762.9 L687.2 762.1 L687.7 761.0 L688.2 761.1 L688.7 761.2 L689.2 761.2 L689.7 761.5 L690.2 762.0 L690.7 761.6 L691.2 760.8 L691.7 760.6 L692.2 761.4 L692.7 762.4 L693.2 761.6 L693.7 760.7 L694.2 761.2 L694.7 762.0 L695.2 762.3 L695.7 762.0 L696.2 761.9 L696.7 762.0 L697.2 761.6 L697.7 762.1 L698.2 762.3 L698.7 761.3 L699.2 761.2 L699.7 761.0 L700.2 761.2 L700.7 762.0 L701.2 761.6 L701.7 761.6 L702.2 762.7 L702.7 762.4 L703.2 761.4 L703.7 761.0 L704.2 761.3 L704.7 761.1 L705.2 760.9 L705.7 761.2 L706.2 761.5 L706.7 761.8 L707.2 761.5 L707.7 761.9 L708.2 762.6 L708.7 762.3 L709.2 761.7 L709.7 762.0 L710.2 762.1 L710.7 762.1 L711.2 762.6 L711.7 761.7 L712.2 761.2 L712.7 762.1 L713.2 762.6 L713.7 761.9 L714.2 761.7 L714.7 761.8 L715.2 761.5 L715.7 761.4 L716.2 761.4 L716.7 761.3 L717.2 761.7 L717.7 761.5 L718.2 761.6 L718.7 761.9 L719.2 761.9 L719.7 762.2 L720.2 762.3 L720.7 762.3 L721.2 762.1 L721.7 761.8 L722.2 761.8 L722.7 761.6 L723.2 761.3 L723.7 761.8 L724.2 761.9 L724.7 761.8 L725.2 761.5 L725.7 761.8 L726.2 761.9 L726.7 761.6 L727.2 761.8 L727.7 762.0 L728.2 761.8 L728.7 761.2 L729.2 760.7 L729.7 761.0 L730.2 761.2 L730.7 761.5 L731.2 762.3 L731.7 761.4 L732.2 760.5 L732.7 761.3 L733.2 762.2 L733.7 762.2 L734.2 761.9 L734.7 761.9 L735.2 762.0 L735.7 762.4 L736.2 762.4 L736.7 761.5 L737.2 761.1 L737.7 761.6 L738.2 761.5 L738.7 761.3 L739.2 761.4 L739.7 761.3 L740.2 761.7 L740.7 761.8 L741.2 761.2 L741.7 761.1 L742.2 761.4 L742.7 762.3 L743.2 762.4 L743.7 762.2 L744.2 762.3 L744.7 761.1 L745.2 761.1 L745.7 761.5 L746.2 761.0 L746.7 760.9 L747.2 761.9 L747.7 761.7 L748.2 761.0 L748.7 761.8 L749.2 762.2 L749.7 761.3 L750.2 761.1 L750.7 761.5 L751.2 761.4 L751.7 761.8 L752.2 761.7 L752.7 761.4 L753.2 762.0 L753.7 761.5 L754.2 760.9 L754.7 761.7 L755.2 761.4 L755.7 761.1 L756.2 761.0 L756.7 761.3 L757.2 761.5 L757.7 761.7 L758.2 762.2 L758.7 762.0 L759.2 761.6 L759.7 761.6 L760.2 761.8 L760.7 761.3 L761.2 761.6 L761.7 762.1 L762.2 762.0 L762.7 761.5 L763.2 761.5 L763.7 762.6 L764.2 762.5 L764.7 761.4 L765.2 761.2 L765.7 761.7 L766.2 761.7 L766.7 761.7 L767.2 761.7 L767.7 761.7 L768.2 761.6 L768.7 761.5 L769.2 761.5 L769.7 762.0 L770.2 761.8 L770.7 761.7 L771.2 761.6 L771.7 761.3 L772.2 761.5 L772.7 762.0 L773.2 761.8 L773.7 761.8 L774.2 761.6 L774.7 761.1 L775.2 761.9 L775.7 762.2 L776.2 761.6 L776.7 760.9 L777.2 761.5 L777.7 761.5 L778.2 761.4 L778.7 761.7 L779.2 761.5 L779.7 762.4 L780.2 762.9 L780.7 762.4 L781.2 761.5 L781.7 761.3 L782.2 761.8 L782.7 761.6 L783.2 762.1 L783.7 761.5 L784.2 761.2 L784.7 761.8 L785.2 761.5 L785.7 762.0 L786.2 761.8 L786.7 761.3 L787.2 761.7 L787.7 761.0 L788.2 760.5 L788.7 760.9 L789.2 761.6 L789.7 762.2 L790.2 762.1 L790.7 761.9 L791.2 761.0 L791.7 761.0 L792.2 761.6 L792.7 761.9 L793.2 762.5 L793.7 762.8 L794.2 762.6 L794.7 762.1 L795.2 761.6 L795.7 761.3 L796.2 761.3 L796.7 761.5 L797.2 761.6 L797.7 761.2 L798.2 761.3 L798.7 761.2 L799.2 761.6 L799.7 761.6 L800.2 761.5 L800.7 761.4 L801.2 761.8 L801.7 761.9 L802.2 761.8 L802.7 762.7 L803.2 761.6 L803.7 760.5 L804.2 761.3 L804.7 762.0 L805.2 761.9 L805.7 761.6 L806.2 761.5 L806.7 761.6 L807.2 761.4 L807.7 761.5 L808.2 761.0 L808.7 760.1 L809.2 761.6 L809.7 762.3 L810.2 761.4 L810.7 762.1 L811.2 762.7 L811.7 762.4 L812.2 761.9 L812.7 761.7 L813.2 762.0 L813.7 761.3 L814.2 761.3 L814.7 761.8 L815.2 762.0 L815.7 762.5 L816.2 761.9 L816.7 761.2 L817.2 761.5 L817.7 761.9 L818.2 761.7 L818.7 761.5 L819.2 761.8 L819.7 762.0 L820.2 762.2 L820.7 762.1 L821.2 761.4 L821.7 760.8 L822.2 761.3 L822.7 761.8 L823.2 761.4 L823.7 761.4 L824.2 761.0 L824.7 761.0 L825.2 760.7 L825.7 760.7 L826.2 761.2 L826.7 762.0 L827.2 762.4 L827.7 761.7 L828.2 761.6 L828.7 761.9 L829.2 761.6 L829.7 761.3 L830.2 761.5 L830.7 762.3 L831.2 762.5 L831.7 761.0 L832.2 761.3 L832.7 762.7 L833.2 762.2 L833.7 762.5 L834.2 762.8 L834.7 761.9 L835.2 761.8 L835.7 761.4 L836.2 761.2 L836.7 760.9 L837.2 760.6 L837.7 761.3 L838.2 761.6 L838.7 761.4 L839.2 761.9 L839.7 761.5 L840.2 761.4 L840.7 761.6 L841.2 761.4 L841.7 761.5 L842.2 761.7 L842.7 761.3 L843.2 760.9 L843.7 760.9 L844.2 761.4 L844.7 762.1 L845.2 762.6 L845.7 762.2 L846.2 762.1 L846.7 762.0 L847.2 762.0 L847.7 762.0 L848.2 761.8 L848.7 761.7 L849.2 761.5 L849.7 762.3 L850.2 761.9 L850.7 761.2 L851.2 761.4 L851.7 761.8 L852.2 762.5 L852.7 762.1 L853.2 760.6 L853.7 760.9 L854.2 762.0 L854.7 761.3 L855.2 761.0 L855.7 761.5 L856.2 760.9 L856.7 761.1 L857.2 762.0 L857.7 761.9 L858.2 761.4 L858.7 761.1 L859.2 761.2 L859.7 761.6 L860.2 761.5 L860.7 761.8 L861.2 762.2 L861.7 761.0 L862.2 761.5 L862.7 762.2 L863.2 761.5 L863.7 761.5 L864.2 761.1 L864.7 761.1 L865.2 760.9 L865.7 760.5 L866.2 761.7 L866.7 762.5 L867.2 761.9 L867.7 761.2 L868.2 761.6 L868.7 761.9 L869.2 761.7 L869.7 761.9 L870.2 761.5 L870.7 761.5 L871.2 761.2 L871.7 761.4 L872.2 761.6 L872.7 760.9 L873.2 761.2 L873.7 761.6 L874.2 762.1 L874.7 762.0 L875.2 761.9 L875.7 762.0 L876.2 761.8 L876.7 761.0 L877.2 760.2 L877.7 760.1 L878.2 760.8 L878.7 761.5 L879.2 761.5 L879.7 761.7 L880.2 761.6 L880.7 761.2 L881.2 760.8 L881.7 760.5 L882.2 761.4 L882.7 762.3 L883.2 761.5 L883.7 761.1 L884.2 761.7 L884.7 762.3 L885.2 762.0 L885.7 761.5 L886.2 762.1 L886.7 761.4 L887.2 760.8 L887.7 761.4 L888.2 761.4 L888.7 762.1 L889.2 762.6 L889.7 762.0 L890.2 761.4 L890.7 761.6 L891.2 762.1 L891.7 761.7 L892.2 761.3 L892.7 761.0 L893.2 761.1 L893.7 761.9 L894.2 762.2 L894.7 762.1 L895.2 762.1 L895.7 761.7 L896.2 761.3 L896.7 761.9 L897.2 762.2 L897.7 761.5 L898.2 761.5 L898.7 762.1 L899.2 762.1 L899.7 761.9 L900.2 761.5 L900.7 761.6 L901.2 762.3 L901.7 762.2 L902.2 761.4 L902.7 761.5 L903.2 761.3 L903.7 761.3 L904.2 761.6 L904.7 761.8 L905.2 762.0 L905.7 762.0 L906.2 762.7 L906.7 762.3 L907.2 761.3 L907.7 761.5 L908.2 761.7 L908.7 761.6 L909.2 761.5 L909.7 761.6 L910.2 761.8 L910.7 760.9 L911.2 760.8 L911.7 761.6 L912.2 762.1 L912.7 761.8 L913.2 761.2 L913.7 761.7 L914.2 761.8 L914.7 761.4 L915.2 761.8 L915.7 762.0 L916.2 761.9 L916.7 761.2 L917.2 761.6 L917.7 761.8 L918.2 761.3 L918.7 762.1 L919.2 762.6 L919.7 761.6 L920.2 761.1 L920.7 761.4" fill="none" stroke="#8843a8" stroke-width="1.15"/>
<path d="M655.7 767.3 L656.2 766.6 L656.7 767.2 L657.2 768.2 L657.7 768.0 L658.2 767.6 L658.7 767.5 L659.2 768.0 L659.7 767.5 L660.2 767.1 L660.7 767.3 L661.2 767.7 L661.7 768.0 L662.2 767.2 L662.7 766.9 L663.2 768.1 L663.7 767.9 L664.2 767.3 L664.7 767.4 L665.2 767.9 L665.7 768.1 L666.2 767.4 L666.7 767.0 L667.2 767.1 L667.7 767.8 L668.2 768.2 L668.7 767.4 L669.2 767.7 L669.7 768.1 L670.2 767.1 L670.7 767.2 L671.2 767.4 L671.7 767.1 L672.2 767.1 L672.7 767.3 L673.2 767.4 L673.7 766.7 L674.2 767.1 L674.7 767.6 L675.2 767.9 L675.7 768.3 L676.2 768.1 L676.7 767.9 L677.2 768.2 L677.7 768.0 L678.2 767.1 L678.7 767.4 L679.2 766.7 L679.7 766.4 L680.2 767.5 L680.7 767.5 L681.2 767.9 L681.7 768.4 L682.2 767.9 L682.7 767.5 L683.2 767.9 L683.7 767.8 L684.2 767.2 L684.7 767.7 L685.2 768.1 L685.7 768.6 L686.2 768.3 L686.7 766.8 L687.2 767.1 L687.7 768.4 L688.2 768.0 L688.7 768.2 L689.2 768.9 L689.7 768.0 L690.2 767.2 L690.7 766.9 L691.2 767.3 L691.7 768.1 L692.2 768.1 L692.7 767.4 L693.2 766.8 L693.7 766.7 L694.2 766.4 L694.7 766.4 L695.2 766.5 L695.7 766.9 L696.2 767.7 L696.7 768.0 L697.2 767.8 L697.7 767.3 L698.2 767.3 L698.7 767.8 L699.2 767.7 L699.7 767.5 L700.2 767.5 L700.7 767.3 L701.2 767.4 L701.7 767.2 L702.2 767.6 L702.7 767.4 L703.2 767.2 L703.7 767.2 L704.2 767.7 L704.7 768.5 L705.2 767.6 L705.7 767.1 L706.2 767.0 L706.7 767.1 L707.2 767.7 L707.7 768.8 L708.2 768.1 L708.7 767.6 L709.2 767.9 L709.7 767.5 L710.2 768.1 L710.7 768.2 L711.2 768.0 L711.7 767.7 L712.2 767.5 L712.7 767.7 L713.2 768.1 L713.7 767.5 L714.2 766.8 L714.7 766.9 L715.2 766.7 L715.7 766.9 L716.2 767.7 L716.7 768.9 L717.2 769.0 L717.7 767.7 L718.2 767.2 L718.7 767.2 L719.2 767.3 L719.7 768.3 L720.2 768.3 L720.7 768.2 L721.2 767.9 L721.7 766.8 L722.2 766.0 L722.7 766.8 L723.2 767.8 L723.7 768.3 L724.2 768.0 L724.7 767.5 L725.2 767.7 L725.7 768.1 L726.2 768.0 L726.7 767.1 L727.2 767.6 L727.7 768.2 L728.2 767.9 L728.7 767.3 L729.2 767.1 L729.7 766.9 L730.2 766.1 L730.7 766.7 L731.2 767.3 L731.7 767.7 L732.2 768.4 L732.7 768.2 L733.2 768.3 L733.7 768.1 L734.2 767.7 L734.7 767.4 L735.2 767.2 L735.7 767.5 L736.2 767.4 L736.7 767.7 L737.2 767.1 L737.7 766.9 L738.2 767.3 L738.7 767.3 L739.2 767.8 L739.7 767.6 L740.2 767.3 L740.7 767.0 L741.2 767.4 L741.7 767.6 L742.2 767.5 L742.7 767.2 L743.2 767.6 L743.7 767.7 L744.2 767.7 L744.7 767.9 L745.2 767.6 L745.7 767.8 L746.2 767.8 L746.7 767.9 L747.2 768.1 L747.7 768.4 L748.2 768.1 L748.7 768.5 L749.2 768.0 L749.7 767.8 L750.2 768.1 L750.7 767.0 L751.2 767.2 L751.7 767.7 L752.2 768.2 L752.7 768.1 L753.2 767.4 L753.7 767.7 L754.2 766.9 L754.7 767.1 L755.2 767.4 L755.7 767.8 L756.2 768.8 L756.7 768.2 L757.2 767.0 L757.7 767.1 L758.2 767.7 L758.7 768.0 L759.2 767.8 L759.7 767.0 L760.2 767.1 L760.7 767.2 L761.2 767.9 L761.7 768.0 L762.2 767.1 L762.7 767.3 L763.2 767.1 L763.7 766.9 L764.2 767.4 L764.7 767.4 L765.2 767.3 L765.7 768.0 L766.2 768.3 L766.7 767.2 L767.2 766.9 L767.7 767.7 L768.2 767.6 L768.7 767.4 L769.2 767.6 L769.7 767.8 L770.2 767.7 L770.7 767.5 L771.2 767.2 L771.7 767.4 L772.2 767.4 L772.7 767.9 L773.2 768.3 L773.7 767.5 L774.2 767.8 L774.7 767.9 L775.2 767.6 L775.7 767.6 L776.2 767.3 L776.7 767.0 L777.2 767.0 L777.7 767.8 L778.2 767.8 L778.7 767.2 L779.2 767.3 L779.7 767.7 L780.2 768.6 L780.7 768.0 L781.2 767.5 L781.7 767.9 L782.2 767.5 L782.7 767.7 L783.2 767.3 L783.7 767.4 L784.2 768.0 L784.7 767.3 L785.2 767.8 L785.7 768.6 L786.2 768.4 L786.7 767.5 L787.2 766.9 L787.7 767.3 L788.2 767.6 L788.7 768.4 L789.2 767.4 L789.7 766.9 L790.2 767.6 L790.7 767.9 L791.2 768.0 L791.7 767.1 L792.2 767.0 L792.7 767.1 L793.2 766.9 L793.7 767.3 L794.2 767.4 L794.7 767.5 L795.2 767.1 L795.7 767.9 L796.2 769.0 L796.7 768.4 L797.2 767.4 L797.7 766.3 L798.2 766.4 L798.7 767.2 L799.2 768.4 L799.7 769.0 L800.2 767.9 L800.7 767.9 L801.2 768.5 L801.7 768.1 L802.2 768.1 L802.7 768.2 L803.2 767.5 L803.7 766.9 L804.2 767.1 L804.7 767.9 L805.2 767.5 L805.7 766.4 L806.2 767.2 L806.7 766.8 L807.2 767.3 L807.7 768.1 L808.2 767.7 L808.7 768.6 L809.2 767.8 L809.7 766.6 L810.2 768.1 L810.7 768.4 L811.2 767.4 L811.7 767.6 L812.2 768.1 L812.7 768.5 L813.2 768.2 L813.7 767.5 L814.2 767.5 L814.7 767.7 L815.2 768.2 L815.7 768.2 L816.2 768.4 L816.7 768.0 L817.2 767.5 L817.7 768.5 L818.2 768.8 L818.7 768.2 L819.2 767.4 L819.7 767.0 L820.2 767.3 L820.7 767.7 L821.2 767.6 L821.7 766.9 L822.2 766.7 L822.7 767.5 L823.2 768.1 L823.7 767.4 L824.2 766.9 L824.7 766.8 L825.2 766.7 L825.7 768.8 L826.2 769.0 L826.7 767.5 L827.2 767.2 L827.7 766.9 L828.2 766.4 L828.7 766.9 L829.2 767.5 L829.7 768.1 L830.2 767.5 L830.7 767.1 L831.2 768.3 L831.7 767.4 L832.2 767.1 L832.7 767.2 L833.2 767.2 L833.7 768.4 L834.2 768.2 L834.7 767.7 L835.2 767.4 L835.7 767.4 L836.2 768.2 L836.7 768.0 L837.2 767.5 L837.7 767.7 L838.2 768.1 L838.7 767.3 L839.2 767.0 L839.7 767.4 L840.2 767.5 L840.7 768.2 L841.2 768.1 L841.7 768.2 L842.2 767.7 L842.7 767.1 L843.2 767.1 L843.7 767.2 L844.2 767.7 L844.7 767.6 L845.2 767.0 L845.7 767.1 L846.2 767.4 L846.7 767.7 L847.2 767.7 L847.7 767.9 L848.2 768.1 L848.7 767.0 L849.2 766.8 L849.7 767.0 L850.2 767.4 L850.7 768.5 L851.2 768.2 L851.7 767.8 L852.2 767.2 L852.7 766.2 L853.2 766.5 L853.7 767.3 L854.2 766.9 L854.7 767.0 L855.2 767.8 L855.7 768.0 L856.2 768.5 L856.7 768.5 L857.2 767.8 L857.7 767.5 L858.2 767.9 L858.7 767.4 L859.2 767.7 L859.7 768.5 L860.2 767.9 L860.7 767.3 L861.2 768.8 L861.7 769.4 L862.2 768.3 L862.7 768.7 L863.2 768.7 L863.7 768.1 L864.2 768.0 L864.7 767.5 L865.2 767.5 L865.7 767.3 L866.2 767.2 L866.7 768.0 L867.2 767.2 L867.7 767.7 L868.2 767.9 L868.7 767.6 L869.2 767.8 L869.7 767.5 L870.2 767.5 L870.7 768.3 L871.2 769.0 L871.7 768.7 L872.2 768.6 L872.7 768.2 L873.2 767.9 L873.7 767.6 L874.2 767.8 L874.7 767.9 L875.2 767.6 L875.7 767.0 L876.2 767.0 L876.7 767.7 L877.2 767.7 L877.7 767.6 L878.2 767.7 L878.7 767.2 L879.2 766.9 L879.7 767.0 L880.2 767.2 L880.7 767.4 L881.2 768.0 L881.7 767.6 L882.2 766.4 L882.7 767.1 L883.2 767.7 L883.7 767.4 L884.2 768.6 L884.7 769.2 L885.2 768.4 L885.7 768.2 L886.2 768.0 L886.7 768.0 L887.2 767.8 L887.7 767.1 L888.2 767.2 L888.7 768.1 L889.2 768.8 L889.7 768.0 L890.2 767.8 L890.7 768.0 L891.2 768.0 L891.7 767.9 L892.2 767.9 L892.7 768.0 L893.2 767.5 L893.7 767.5 L894.2 767.7 L894.7 767.5 L895.2 766.9 L895.7 767.8 L896.2 768.1 L896.7 766.8 L897.2 766.0 L897.7 765.6 L898.2 766.3 L898.7 767.9 L899.2 767.5 L899.7 766.9 L900.2 766.8 L900.7 767.3 L901.2 768.2 L901.7 767.9 L902.2 768.3 L902.7 768.8 L903.2 768.7 L903.7 767.8 L904.2 766.9 L904.7 766.7 L905.2 766.5 L905.7 767.7 L906.2 768.3 L906.7 767.6 L907.2 767.8 L907.7 768.5 L908.2 768.2 L908.7 767.9 L909.2 768.2 L909.7 767.7 L910.2 766.8 L910.7 767.2 L911.2 767.7 L911.7 767.2 L912.2 767.5 L912.7 767.8 L913.2 768.1 L913.7 767.8 L914.2 767.4 L914.7 767.8 L915.2 767.8 L915.7 767.9 L916.2 767.8 L916.7 768.0 L917.2 767.8 L917.7 766.8 L918.2 767.1 L918.7 768.1 L919.2 767.9 L919.7 767.2 L920.2 767.2 L920.7 767.6" fill="none" stroke="#8843a8" stroke-width="1.15"/>
<path d="M655.7 773.3 L656.2 773.5 L656.7 772.8 L657.2 773.3 L657.7 774.5 L658.2 773.3 L658.7 773.7 L659.2 774.3 L659.7 774.4 L660.2 773.6 L660.7 773.7 L661.2 774.3 L661.7 772.5 L662.2 772.8 L662.7 773.7 L663.2 772.8 L663.7 772.8 L664.2 772.4 L664.7 772.8 L665.2 773.6 L665.7 773.2 L666.2 774.0 L666.7 774.2 L667.2 773.1 L667.7 772.7 L668.2 773.0 L668.7 773.9 L669.2 773.7 L669.7 772.7 L670.2 773.4 L670.7 773.9 L671.2 773.5 L671.7 774.5 L672.2 773.9 L672.7 773.0 L673.2 772.7 L673.7 772.4 L674.2 773.6 L674.7 774.3 L675.2 773.4 L675.7 773.2 L676.2 774.3 L676.7 773.8 L677.2 774.6 L677.7 774.7 L678.2 773.0 L678.7 773.2 L679.2 772.8 L679.7 773.3 L680.2 774.7 L680.7 773.8 L681.2 773.6 L681.7 774.0 L682.2 774.7 L682.7 774.1 L683.2 772.5 L683.7 771.8 L684.2 772.3 L684.7 772.6 L685.2 772.6 L685.7 773.6 L686.2 773.5 L686.7 772.8 L687.2 773.6 L687.7 774.0 L688.2 773.5 L688.7 774.1 L689.2 773.3 L689.7 772.4 L690.2 774.2 L690.7 774.6 L691.2 772.9 L691.7 772.8 L692.2 773.1 L692.7 772.6 L693.2 772.7 L693.7 773.3 L694.2 773.5 L694.7 773.7 L695.2 772.9 L695.7 771.9 L696.2 773.1 L696.7 773.7 L697.2 773.9 L697.7 774.2 L698.2 772.9 L698.7 773.1 L699.2 773.3 L699.7 773.1 L700.2 774.2 L700.7 775.1 L701.2 774.5 L701.7 773.8 L702.2 774.0 L702.7 774.0 L703.2 772.6 L703.7 772.0 L704.2 773.4 L704.7 773.9 L705.2 773.4 L705.7 773.5 L706.2 774.4 L706.7 774.1 L707.2 773.4 L707.7 773.2 L708.2 773.4 L708.7 774.1 L709.2 774.8 L709.7 774.0 L710.2 772.8 L710.7 772.7 L711.2 773.6 L711.7 774.1 L712.2 773.8 L712.7 773.9 L713.2 773.9 L713.7 773.6 L714.2 772.9 L714.7 772.7 L715.2 773.3 L715.7 773.8 L716.2 773.5 L716.7 773.1 L717.2 774.0 L717.7 773.9 L718.2 773.4 L718.7 773.5 L719.2 772.9 L719.7 772.3 L720.2 772.5 L720.7 772.8 L721.2 773.5 L721.7 773.4 L722.2 772.7 L722.7 773.6 L723.2 773.8 L723.7 773.7 L724.2 774.2 L724.7 773.1 L725.2 772.5 L725.7 772.8 L726.2 773.7 L726.7 774.1 L727.2 773.7 L727.7 774.6 L728.2 774.2 L728.7 773.4 L729.2 773.8 L729.7 773.6 L730.2 774.0 L730.7 774.5 L731.2 774.4 L731.7 774.0 L732.2 773.4 L732.7 773.2 L733.2 773.2 L733.7 772.5 L734.2 772.9 L734.7 774.1 L735.2 773.9 L735.7 773.3 L736.2 773.3 L736.7 773.6 L737.2 773.8 L737.7 774.6 L738.2 774.0 L738.7 773.3 L739.2 774.0 L739.7 773.9 L740.2 773.4 L740.7 772.9 L741.2 772.7 L741.7 773.6 L742.2 774.6 L742.7 773.9 L743.2 773.4 L743.7 774.0 L744.2 774.3 L744.7 774.1 L745.2 773.9 L745.7 774.2 L746.2 773.4 L746.7 773.0 L747.2 772.7 L747.7 771.7 L748.2 772.2 L748.7 772.4 L749.2 773.0 L749.7 774.3 L750.2 773.9 L750.7 773.3 L751.2 773.4 L751.7 773.3 L752.2 773.5 L752.7 773.8 L753.2 773.5 L753.7 772.9 L754.2 772.9 L754.7 773.7 L755.2 773.7 L755.7 774.0 L756.2 774.1 L756.7 774.1 L757.2 773.6 L757.7 772.6 L758.2 773.4 L758.7 774.0 L759.2 773.7 L759.7 774.4 L760.2 774.6 L760.7 773.7 L761.2 773.4 L761.7 774.1 L762.2 774.8 L762.7 774.2 L763.2 773.0 L763.7 772.9 L764.2 773.5 L764.7 773.5 L765.2 774.2 L765.7 773.6 L766.2 773.3 L766.7 774.1 L767.2 774.0 L767.7 773.5 L768.2 772.9 L768.7 772.7 L769.2 772.6 L769.7 773.4 L770.2 774.1 L770.7 773.0 L771.2 773.0 L771.7 772.9 L772.2 771.4 L772.7 772.6 L773.2 774.7 L773.7 773.4 L774.2 772.5 L774.7 773.3 L775.2 773.5 L775.7 773.0 L776.2 772.9 L776.7 773.2 L777.2 773.2 L777.7 773.4 L778.2 773.5 L778.7 773.1 L779.2 773.2 L779.7 772.8 L780.2 773.5 L780.7 773.4 L781.2 772.7 L781.7 773.7 L782.2 773.9 L782.7 773.9 L783.2 774.3 L783.7 773.6 L784.2 773.0 L784.7 773.6 L785.2 773.4 L785.7 773.0 L786.2 773.9 L786.7 773.8 L787.2 773.0 L787.7 773.2 L788.2 773.3 L788.7 773.5 L789.2 773.5 L789.7 773.6 L790.2 773.8 L790.7 773.9 L791.2 774.4 L791.7 773.8 L792.2 774.0 L792.7 774.1 L793.2 773.7 L793.7 774.0 L794.2 773.5 L794.7 772.5 L795.2 773.4 L795.7 774.0 L796.2 772.8 L796.7 773.7 L797.2 774.1 L797.7 774.5 L798.2 775.3 L798.7 774.7 L799.2 774.0 L799.7 774.1 L800.2 773.3 L800.7 773.0 L801.2 773.7 L801.7 773.4 L802.2 773.5 L802.7 773.0 L803.2 773.3 L803.7 774.6 L804.2 773.6 L804.7 773.0 L805.2 774.4 L805.7 774.5 L806.2 773.3 L806.7 772.6 L807.2 773.5 L807.7 774.9 L808.2 773.9 L808.7 773.1 L809.2 773.2 L809.7 773.1 L810.2 773.6 L810.7 773.7 L811.2 773.2 L811.7 774.3 L812.2 774.5 L812.7 773.4 L813.2 774.0 L813.7 774.1 L814.2 773.5 L814.7 773.9 L815.2 773.5 L815.7 773.4 L816.2 774.4 L816.7 774.4 L817.2 773.8 L817.7 773.5 L818.2 772.8 L818.7 772.7 L819.2 773.7 L819.7 774.1 L820.2 774.1 L820.7 773.5 L821.2 773.0 L821.7 773.2 L822.2 773.6 L822.7 774.2 L823.2 774.2 L823.7 773.4 L824.2 773.3 L824.7 773.3 L825.2 773.3 L825.7 772.4 L826.2 771.8 L826.7 772.3 L827.2 773.3 L827.7 773.8 L828.2 773.6 L828.7 774.2 L829.2 773.7 L829.7 773.6 L830.2 774.3 L830.7 773.4 L831.2 774.0 L831.7 773.6 L832.2 772.4 L832.7 773.0 L833.2 773.7 L833.7 773.7 L834.2 772.5 L834.7 772.5 L835.2 773.4 L835.7 774.8 L836.2 775.5 L836.7 774.3 L837.2 773.1 L837.7 773.3 L838.2 773.2 L838.7 773.2 L839.2 773.9 L839.7 773.6 L840.2 773.5 L840.7 773.6 L841.2 773.2 L841.7 774.1 L842.2 774.6 L842.7 773.7 L843.2 773.1 L843.7 773.3 L844.2 774.0 L844.7 774.3 L845.2 774.7 L845.7 774.5 L846.2 773.3 L846.7 774.0 L847.2 775.1 L847.7 774.6 L848.2 774.6 L848.7 773.5 L849.2 772.7 L849.7 773.2 L850.2 773.9 L850.7 773.6 L851.2 773.0 L851.7 774.2 L852.2 774.7 L852.7 773.8 L853.2 774.4 L853.7 774.0 L854.2 773.4 L854.7 773.9 L855.2 774.0 L855.7 774.0 L856.2 773.3 L856.7 773.6 L857.2 773.4 L857.7 773.6 L858.2 774.0 L858.7 774.2 L859.2 774.2 L859.7 773.5 L860.2 773.9 L860.7 774.8 L861.2 773.7 L861.7 773.2 L862.2 774.5 L862.7 773.7 L863.2 773.1 L863.7 774.0 L864.2 774.1 L864.7 773.5 L865.2 774.7 L865.7 774.6 L866.2 773.4 L866.7 772.8 L867.2 772.7 L867.7 773.2 L868.2 774.6 L868.7 775.7 L869.2 774.4 L869.7 774.7 L870.2 775.7 L870.7 774.7 L871.2 774.8 L871.7 775.0 L872.2 774.3 L872.7 773.3 L873.2 773.3 L873.7 774.1 L874.2 774.4 L874.7 774.1 L875.2 774.7 L875.7 774.6 L876.2 774.6 L876.7 774.9 L877.2 774.5 L877.7 774.2 L878.2 774.2 L878.7 774.4 L879.2 773.6 L879.7 774.0 L880.2 774.8 L880.7 775.2 L881.2 775.4 L881.7 774.5 L882.2 774.1 L882.7 773.5 L883.2 773.2 L883.7 775.0 L884.2 776.3 L884.7 776.1 L885.2 775.5 L885.7 775.5 L886.2 775.6 L886.7 774.5 L887.2 773.9 L887.7 775.3 L888.2 776.2 L888.7 775.8 L889.2 775.1 L889.7 774.9 L890.2 774.8 L890.7 774.5 L891.2 773.9 L891.7 774.4 L892.2 775.2 L892.7 775.0 L893.2 776.1 L893.7 776.5 L894.2 775.3 L894.7 775.4 L895.2 775.0 L895.7 775.2 L896.2 776.1 L896.7 775.5 L897.2 775.7 L897.7 776.5 L898.2 776.0 L898.7 774.9 L899.2 776.2 L899.7 776.6 L900.2 776.4 L900.7 776.1 L901.2 775.6 L901.7 775.6 L902.2 775.8 L902.7 775.9 L903.2 775.4 L903.7 776.2 L904.2 776.7 L904.7 775.1 L905.2 774.8 L905.7 775.4 L906.2 774.9 L906.7 775.1 L907.2 775.5 L907.7 775.8 L908.2 775.7 L908.7 774.8 L909.2 774.9 L909.7 776.3 L910.2 775.9 L910.7 775.8 L911.2 776.7 L911.7 776.2 L912.2 776.1 L912.7 776.0 L913.2 775.7 L913.7 775.6 L914.2 776.0 L914.7 777.2 L915.2 776.7 L915.7 776.6 L916.2 775.9 L916.7 775.0 L917.2 775.5 L917.7 776.8 L918.2 777.0 L918.7 776.6 L919.2 775.9 L919.7 775.6 L920.2 776.9 L920.7 776.8" fill="none" stroke="#8843a8" stroke-width="1.15"/>
<path d="M655.7 590.8 V774 M921.0999999999999 667 V777" fill="none" stroke="#8843a8" stroke-width="1"/>
<path d="M962.3 680.4 V717.2 H1028.4" fill="none" stroke="#222" stroke-width="1.1"/>
<text transform="translate(952.6 717.6) rotate(-90)" font-size="21.8" textLength="71.5" lengthAdjust="spacingAndGlyphs" fill="#1d1d1b" >500 pA</text>
<text x="961.4" y="742.3" font-size="21.8" textLength="74.0" lengthAdjust="spacingAndGlyphs" fill="#1d1d1b" >500 ms</text>
<text x="768.0" y="804.6" font-size="21.8" textLength="60.6" lengthAdjust="spacingAndGlyphs" fill="#1d1d1b" >80 mV</text>
<text x="753.0" y="888.0" font-size="21.8" textLength="81.0" lengthAdjust="spacingAndGlyphs" fill="#1d1d1b" >−120 mV</text>
<g fill="none" stroke="#e62a2a" stroke-width="1.05">
<path d="M591.2 853.6 H987.0"/>
<path d="M655.7 810.1 H920.8"/>
<path d="M655.7 815.5 H920.8"/>
<path d="M655.7 820.9 H920.8"/>
<path d="M655.7 826.3 H920.8"/>
<path d="M655.7 831.7 H920.8"/>
<path d="M655.7 837.1 H920.8"/>
<path d="M655.7 842.6 H920.8"/>
<path d="M655.7 848.0 H920.8"/>
<path d="M655.7 853.4 H920.8"/>
<path d="M655.7 858.8 H920.8"/>
<path d="M655.7 864.2 H920.8"/>
<path d="M655.7 810.1 V864.2 M920.8 810.1 V864.2"/>
</g>
</g>
<g id="panelE">
<path d="M127.4 1133.3 V1421.5 H654.5" fill="none" stroke="#333" stroke-width="1.2"/>
<line x1="117.9" y1="1166.6" x2="127.4" y2="1166.6" stroke="#333" stroke-width="1.2"/>
<text x="106.6" y="1174.8" font-size="25.2" textLength="59.0" lengthAdjust="spacingAndGlyphs" text-anchor="end" fill="#1d1d1b" >1,500</text>
<line x1="117.9" y1="1222.0" x2="127.4" y2="1222.0" stroke="#333" stroke-width="1.2"/>
<text x="106.6" y="1230.2" font-size="25.2" textLength="59.5" lengthAdjust="spacingAndGlyphs" text-anchor="end" fill="#1d1d1b" >1,000</text>
<line x1="117.9" y1="1277.5" x2="127.4" y2="1277.5" stroke="#333" stroke-width="1.2"/>
<text x="106.6" y="1285.7" font-size="25.2" textLength="44.2" lengthAdjust="spacingAndGlyphs" text-anchor="end" fill="#1d1d1b" >500</text>
<line x1="117.9" y1="1332.9" x2="127.4" y2="1332.9" stroke="#333" stroke-width="1.2"/>
<text x="106.6" y="1341.1" font-size="25.2" textLength="14.0" lengthAdjust="spacingAndGlyphs" text-anchor="end" fill="#1d1d1b" >0</text>
<line x1="117.9" y1="1388.4" x2="127.4" y2="1388.4" stroke="#333" stroke-width="1.2"/>
<text x="106.6" y="1396.6" font-size="25.2" textLength="55.8" lengthAdjust="spacingAndGlyphs" text-anchor="end" fill="#1d1d1b" >−500</text>
<line x1="151.0" y1="1421.4" x2="151.0" y2="1431" stroke="#333" stroke-width="1.2"/>
<text x="151.9" y="1461.2" font-size="25.2" textLength="12.8" lengthAdjust="spacingAndGlyphs" text-anchor="middle" fill="#1d1d1b" >0</text>
<line x1="230.9" y1="1421.4" x2="230.9" y2="1431" stroke="#333" stroke-width="1.2"/>
<text x="231.2" y="1461.2" font-size="25.2" textLength="43.5" lengthAdjust="spacingAndGlyphs" text-anchor="middle" fill="#1d1d1b" >500</text>
<line x1="310.9" y1="1421.4" x2="310.9" y2="1431" stroke="#333" stroke-width="1.2"/>
<text x="311.2" y="1461.2" font-size="25.2" textLength="58.5" lengthAdjust="spacingAndGlyphs" text-anchor="middle" fill="#1d1d1b" >1,000</text>
<line x1="390.8" y1="1421.4" x2="390.8" y2="1431" stroke="#333" stroke-width="1.2"/>
<text x="391.1" y="1461.2" font-size="25.2" textLength="58.5" lengthAdjust="spacingAndGlyphs" text-anchor="middle" fill="#1d1d1b" >1,500</text>
<line x1="470.8" y1="1421.4" x2="470.8" y2="1431" stroke="#333" stroke-width="1.2"/>
<text x="471.1" y="1461.2" font-size="25.2" textLength="62.7" lengthAdjust="spacingAndGlyphs" text-anchor="middle" fill="#1d1d1b" >2,000</text>
<line x1="550.8" y1="1421.4" x2="550.8" y2="1431" stroke="#333" stroke-width="1.2"/>
<text x="551.0" y="1461.2" font-size="25.2" textLength="61.6" lengthAdjust="spacingAndGlyphs" text-anchor="middle" fill="#1d1d1b" >2,500</text>
<line x1="630.7" y1="1421.4" x2="630.7" y2="1431" stroke="#333" stroke-width="1.2"/>
<text x="631.0" y="1461.2" font-size="25.2" textLength="63.8" lengthAdjust="spacingAndGlyphs" text-anchor="middle" fill="#1d1d1b" >3,000</text>
<text x="329.9" y="1506.3" font-size="27.3" textLength="123.8" lengthAdjust="spacingAndGlyphs" fill="#1d1d1b" >Time (ms)</text>
<text transform="translate(23.9 1354.2) rotate(-90)" font-size="27.3" textLength="154.5" lengthAdjust="spacingAndGlyphs" fill="#1d1d1b" >Current (pA)</text>
<path d="M201.9 1209.7 H215.2 V1224 H266.7 V1228.9 L488.4 1173.5 V1209.7 H502" fill="none" stroke="#ef4444" stroke-width="1.1"/>
<line x1="394.8" y1="1212.9" x2="480.6" y2="1212.9" stroke="#111" stroke-width="1.0"/>
<text x="427.0" y="1232.3" font-size="21.8" textLength="24.6" lengthAdjust="spacingAndGlyphs" fill="#1d1d1b" >1 s</text>
<text x="458.0" y="1164.5" font-size="21.8" textLength="74.0" lengthAdjust="spacingAndGlyphs" fill="#1d1d1b" >100 mV</text>
<text x="142.8" y="1199.7" font-size="21.8" textLength="74.7" lengthAdjust="spacingAndGlyphs" fill="#1d1d1b" >−30 mV</text>
<text x="219.9" y="1213.0" font-size="21.8" textLength="74.0" lengthAdjust="spacingAndGlyphs" fill="#1d1d1b" >−80 mV</text>
<text x="244.1" y="1251.2" font-size="21.8" textLength="83.0" lengthAdjust="spacingAndGlyphs" fill="#1d1d1b" >−100 mV</text>
<path d="M151.0 1331.5 L151.8 1334.1 L152.6 1332.4 L153.4 1333.0 L154.2 1332.9 L155.0 1332.8 L155.8 1333.8 L156.6 1332.8 L157.4 1333.1 L158.2 1330.8 L159.0 1332.5 L159.8 1332.8 L160.6 1332.8 L161.4 1333.0 L162.2 1333.2 L163.0 1332.9 L163.8 1332.4 L164.6 1332.8 L165.4 1332.1 L166.2 1332.8 L167.0 1332.6 L167.8 1331.8 L168.6 1332.3 L169.4 1332.9 L170.2 1332.7 L171.0 1332.3 L171.8 1331.6 L172.6 1332.8 L173.4 1332.8 L174.2 1332.1 L175.0 1350.5 L175.8 1372.0 L176.6 1372.9 L177.4 1372.6 L178.2 1371.8 L179.0 1372.1 L179.8 1372.2 L180.6 1371.5 L181.4 1371.9 L182.2 1372.9 L183.0 1372.6 L183.8 1372.0 L184.6 1371.6 L185.4 1372.5 L186.2 1373.4 L187.0 1373.2 L187.8 1373.8 L188.6 1373.2 L189.4 1372.0 L190.2 1372.5 L191.0 1372.0 L191.8 1371.2 L192.6 1371.6 L193.4 1371.8 L194.2 1371.6 L195.0 1372.6 L195.8 1372.8 L196.6 1371.7 L197.4 1373.0 L198.2 1373.1 L199.0 1372.3 L199.8 1372.1 L200.6 1372.2 L201.4 1372.6 L202.2 1372.2 L203.0 1372.7 L203.8 1372.5 L204.6 1372.1 L205.4 1372.2 L206.2 1372.4 L207.0 1372.1 L207.8 1371.5 L208.6 1372.1 L209.4 1372.1 L210.2 1371.3 L211.0 1370.7 L211.8 1372.3 L212.6 1372.7 L213.4 1371.6 L214.2 1372.2 L215.0 1373.0 L215.8 1372.2 L216.6 1372.4 L217.4 1372.7 L218.2 1371.4 L219.0 1372.5 L219.8 1373.4 L220.6 1373.2 L221.4 1372.9 L222.2 1371.4 L223.0 1370.4 L223.8 1372.2 L224.6 1373.6 L225.4 1372.3 L226.2 1371.1 L227.0 1371.3 L227.8 1372.5 L228.6 1372.6 L229.4 1372.2 L230.2 1372.5 L230.9 1372.9 L231.7 1372.6 L232.5 1372.0 L233.3 1372.3 L234.1 1372.5 L234.9 1373.2 L235.7 1373.3 L236.5 1372.0 L237.3 1371.8 L238.1 1373.3 L238.9 1372.4 L239.7 1371.4 L240.5 1370.9 L241.3 1371.2 L242.1 1372.6 L242.9 1373.4 L243.7 1372.4 L244.5 1370.3 L245.3 1371.4 L246.1 1373.2 L246.9 1372.4 L247.7 1372.5 L248.5 1373.0 L249.3 1372.7 L250.1 1372.5 L250.9 1371.7 L251.7 1371.8 L252.5 1371.9 L253.3 1372.1 L254.1 1372.4 L254.9 1373.4 L255.7 1374.3 L256.5 1372.7 L257.3 1372.3 L258.1 1372.4 L258.9 1371.8 L259.7 1371.4 L260.5 1371.2 L261.3 1371.4 L262.1 1371.9 L262.9 1372.8 L263.7 1373.1 L264.5 1373.0 L265.3 1373.2 L266.1 1373.3 L266.9 1372.7 L267.7 1372.3 L268.5 1372.4 L269.3 1373.6 L270.1 1373.5 L270.9 1381.3 L271.7 1380.6 L272.5 1380.3 L273.3 1381.2 L274.1 1381.8 L274.9 1380.3 L275.7 1379.4 L276.5 1379.4 L277.3 1378.6 L278.1 1380.0 L278.9 1380.8 L279.7 1380.1 L280.5 1379.9 L281.3 1379.7 L282.1 1379.7 L282.9 1379.7 L283.7 1380.4 L284.5 1380.3 L285.3 1379.7 L286.1 1379.3 L286.9 1379.0 L287.7 1378.5 L288.5 1377.6 L289.3 1377.5 L290.1 1377.6 L290.9 1377.5 L291.7 1377.7 L292.5 1377.6 L293.3 1377.5 L294.1 1376.9 L294.9 1376.4 L295.7 1376.1 L296.5 1376.6 L297.3 1376.2 L298.1 1375.7 L298.9 1376.4 L299.7 1375.8 L300.5 1375.5 L301.3 1375.0 L302.1 1374.8 L302.9 1375.3 L303.7 1375.2 L304.5 1373.7 L305.3 1373.0 L306.1 1374.1 L306.9 1373.9 L307.7 1373.9 L308.5 1372.7 L309.3 1372.4 L310.1 1372.9 L310.9 1371.6 L311.7 1372.4 L312.5 1372.3 L313.3 1370.7 L314.1 1370.4 L314.9 1370.6 L315.7 1370.1 L316.5 1369.9 L317.3 1370.0 L318.1 1369.9 L318.9 1369.6 L319.7 1369.8 L320.5 1369.5 L321.3 1369.0 L322.1 1369.8 L322.9 1369.1 L323.7 1367.3 L324.5 1366.8 L325.3 1367.8 L326.1 1367.7 L326.9 1367.4 L327.7 1367.6 L328.5 1367.1 L329.3 1368.1 L330.1 1367.8 L330.9 1366.9 L331.7 1367.1 L332.5 1367.0 L333.3 1367.1 L334.1 1366.5 L334.9 1364.9 L335.7 1363.2 L336.5 1363.3 L337.3 1363.3 L338.1 1363.1 L338.9 1364.4 L339.7 1363.9 L340.5 1362.3 L341.3 1362.3 L342.1 1362.0 L342.9 1361.2 L343.7 1361.5 L344.5 1362.3 L345.3 1361.6 L346.1 1360.6 L346.9 1360.3 L347.7 1359.4 L348.5 1357.9 L349.3 1358.4 L350.1 1358.6 L350.9 1357.5 L351.7 1357.2 L352.5 1356.8 L353.3 1357.1 L354.1 1357.0 L354.9 1355.3 L355.7 1355.0 L356.5 1356.1 L357.3 1355.8 L358.1 1354.5 L358.9 1354.3 L359.7 1354.9 L360.5 1353.9 L361.3 1353.9 L362.1 1354.1 L362.9 1353.1 L363.7 1353.7 L364.5 1352.7 L365.3 1351.5 L366.1 1352.4 L366.9 1351.9 L367.7 1351.2 L368.5 1352.2 L369.3 1352.0 L370.1 1350.4 L370.9 1349.4 L371.7 1349.1 L372.5 1349.0 L373.3 1348.5 L374.1 1348.3 L374.9 1347.6 L375.7 1347.0 L376.5 1347.2 L377.3 1346.6 L378.1 1347.0 L378.9 1347.3 L379.7 1345.5 L380.5 1344.6 L381.3 1345.3 L382.1 1344.9 L382.9 1344.7 L383.7 1344.4 L384.5 1344.2 L385.3 1343.9 L386.1 1344.1 L386.9 1343.2 L387.7 1342.3 L388.5 1343.5 L389.3 1343.1 L390.1 1342.1 L390.8 1341.6 L391.6 1341.7 L392.4 1341.2 L393.2 1338.3 L394.0 1338.9 L394.8 1340.4 L395.6 1339.5 L396.4 1339.3 L397.2 1339.8 L398.0 1340.2 L398.8 1338.6 L399.6 1337.7 L400.4 1336.7 L401.2 1336.8 L402.0 1337.3 L402.8 1335.0 L403.6 1335.2 L404.4 1336.9 L405.2 1336.3 L406.0 1335.6 L406.8 1334.8 L407.6 1334.5 L408.4 1335.1 L409.2 1334.8 L410.0 1332.7 L410.8 1331.9 L411.6 1334.6 L412.4 1335.1 L413.2 1333.8 L414.0 1333.1 L414.8 1332.5 L415.6 1331.5 L416.4 1330.6 L417.2 1330.9 L418.0 1330.9 L418.8 1331.0 L419.6 1330.6 L420.4 1329.5 L421.2 1329.0 L422.0 1329.5 L422.8 1328.7 L423.6 1328.1 L424.4 1328.4 L425.2 1328.6 L426.0 1328.5 L426.8 1328.0 L427.6 1328.9 L428.4 1327.6 L429.2 1325.4 L430.0 1325.7 L430.8 1325.1 L431.6 1324.3 L432.4 1324.1 L433.2 1325.1 L434.0 1324.9 L434.8 1322.6 L435.6 1321.0 L436.4 1319.7 L437.2 1319.3 L438.0 1320.3 L438.8 1321.7 L439.6 1320.1 L440.4 1318.4 L441.2 1317.7 L442.0 1317.3 L442.8 1317.2 L443.6 1317.5 L444.4 1316.9 L445.2 1315.8 L446.0 1315.4 L446.8 1314.5 L447.6 1314.2 L448.4 1313.8 L449.2 1313.3 L450.0 1312.6 L450.8 1311.8 L451.6 1312.0 L452.4 1312.1 L453.2 1310.4 L454.0 1309.7 L454.8 1309.6 L455.6 1308.9 L456.4 1309.2 L457.2 1309.4 L458.0 1308.5 L458.8 1307.5 L459.6 1306.7 L460.4 1307.1 L461.2 1307.3 L462.0 1306.2 L462.8 1304.5 L463.6 1305.1 L464.4 1305.1 L465.2 1303.4 L466.0 1302.8 L466.8 1302.1 L467.6 1301.5 L468.4 1299.8 L469.2 1299.1 L470.0 1299.1 L470.8 1298.5 L471.6 1298.5 L472.4 1297.7 L473.2 1296.8 L474.0 1296.9 L474.8 1296.2 L475.6 1295.2 L476.4 1294.1 L477.2 1293.4 L478.0 1293.4 L478.8 1292.0 L479.6 1290.5 L480.4 1290.0 L481.2 1289.6 L482.0 1289.7 L482.8 1289.6 L483.6 1289.0 L484.4 1287.7 L485.2 1286.8 L486.0 1287.4 L486.8 1286.6 L487.6 1285.7 L488.4 1284.8 L489.2 1283.8 L490.0 1283.8 L490.8 1282.2 L491.6 1280.7 L492.4 1280.9 L493.2 1279.6 L494.0 1276.7 L494.8 1277.0 L495.6 1276.4 L496.4 1275.1 L497.2 1275.5 L498.0 1274.4 L498.8 1274.1 L499.6 1272.4 L500.4 1270.5 L501.2 1270.8 L502.0 1270.4 L502.8 1270.0 L503.6 1269.2 L504.4 1267.0 L505.2 1266.9 L506.0 1266.8 L506.8 1265.0 L507.6 1263.3 L508.4 1261.8 L509.2 1261.7 L510.0 1261.9 L510.8 1260.5 L511.6 1259.4 L512.4 1258.9 L513.2 1257.2 L514.0 1255.2 L514.8 1254.7 L515.6 1254.8 L516.4 1253.7 L517.2 1253.7 L518.0 1253.1 L518.8 1251.7 L519.6 1249.5 L520.4 1247.6 L521.2 1247.9 L522.0 1247.5 L522.8 1248.0 L523.6 1246.6 L524.4 1243.5 L525.2 1243.3 L526.0 1242.9 L526.8 1241.2 L527.6 1241.5 L528.4 1240.5 L529.2 1238.0 L530.0 1237.4 L530.8 1237.3 L531.6 1236.0 L532.4 1235.8 L533.2 1235.2 L534.0 1232.8 L534.8 1232.5 L535.6 1231.5 L536.4 1230.1 L537.2 1230.8 L538.0 1229.6 L538.8 1228.0 L539.6 1226.8 L540.4 1225.9 L541.2 1224.5 L542.0 1223.2 L542.8 1222.6 L543.6 1221.5 L544.4 1220.9 L545.2 1218.9 L546.0 1217.7 L546.8 1217.5 L547.6 1217.3 L548.4 1215.5 L549.2 1213.4 L550.0 1213.2 L550.8 1212.5 L551.5 1211.8 L552.3 1211.5 L553.1 1210.4 L553.9 1208.7 L554.7 1207.0 L555.5 1206.6 L556.3 1205.3 L557.1 1203.4 L557.9 1202.7 L558.7 1201.5 L559.5 1200.7 L560.3 1200.3 L561.1 1198.9 L561.9 1197.8 L562.7 1196.6 L563.5 1196.2 L564.3 1194.8 L565.1 1193.5 L565.9 1193.3 L566.7 1192.6 L567.5 1191.2 L568.3 1188.7 L569.1 1187.4 L569.9 1186.6 L570.7 1187.0 L571.5 1186.8 L572.3 1185.2 L573.1 1184.2 L573.9 1182.3 L574.7 1180.7 L575.5 1180.3 L576.3 1179.1 L577.1 1178.6 L577.9 1178.5 L578.7 1177.6 L579.5 1175.9 L580.3 1174.4 L581.1 1173.5 L581.9 1172.2 L582.7 1172.4 L583.5 1172.4 L584.3 1170.7 L585.1 1170.2 L585.9 1169.7 L586.7 1167.6 L587.5 1165.8 L588.3 1164.9 L589.1 1164.8 L589.9 1164.8 L590.7 1163.5 L591.5 1162.9 L592.3 1162.6 L593.1 1160.9 L593.9 1160.6 L594.7 1160.9 L595.5 1160.0 L596.3 1158.6 L597.1 1157.6 L597.9 1157.2 L598.7 1156.4 L599.5 1156.7 L600.3 1157.1 L601.1 1155.7 L601.9 1155.3 L602.7 1155.7 L603.5 1155.5 L604.3 1154.9 L605.1 1153.9 L605.9 1153.6 L606.7 1153.2 L607.5 1151.6 L608.3 1151.8 L609.1 1151.9 L609.9 1151.6 L610.7 1152.9 L611.5 1153.1 L612.3 1153.0 L613.1 1152.3 L613.9 1152.4 L614.7 1152.0 L615.5 1151.0 L616.3 1152.7 L617.1 1152.6 L617.9 1150.5 L618.7 1151.2 L619.5 1151.4 L620.3 1151.8 L621.1 1152.0 L621.9 1151.8 L622.7 1151.5 L623.5 1151.4 L624.3 1153.0 L625.1 1151.6 L625.9 1148.8 L626.7 1149.2 L627.5 1149.9 L628.3 1149.3 L629.1 1149.8 L629.9 1149.4 L630.7 1148.1" fill="none" stroke="#808080" stroke-width="2.4" stroke-linejoin="round"/>
<path d="M151.0 1331.5 L151.8 1334.1 L152.6 1332.4 L153.4 1333.0 L154.2 1332.9 L155.0 1332.8 L155.8 1333.8 L156.6 1332.8 L157.4 1333.1 L158.2 1330.8 L159.0 1332.5 L159.8 1332.8 L160.6 1332.8 L161.4 1333.0 L162.2 1333.2 L163.0 1332.9 L163.8 1332.4 L164.6 1332.8 L165.4 1332.1 L166.2 1332.8 L167.0 1332.6 L167.8 1331.8 L168.6 1332.3 L169.4 1332.9 L170.2 1332.7 L171.0 1332.3 L171.8 1331.6 L172.6 1332.8 L173.4 1332.8 L174.2 1332.1 L175.0 1338.9 L175.8 1344.8 L176.6 1344.5 L177.4 1344.2 L178.2 1344.7 L179.0 1344.8 L179.8 1344.7 L180.6 1344.6 L181.4 1344.5 L182.2 1345.0 L183.0 1344.9 L183.8 1344.5 L184.6 1343.4 L185.4 1343.8 L186.2 1344.7 L187.0 1343.8 L187.8 1344.9 L188.6 1346.4 L189.4 1345.9 L190.2 1345.2 L191.0 1343.5 L191.8 1343.2 L192.6 1343.8 L193.4 1344.1 L194.2 1345.8 L195.0 1346.7 L195.8 1345.1 L196.6 1343.9 L197.4 1345.0 L198.2 1344.6 L199.0 1344.7 L199.8 1344.6 L200.6 1343.2 L201.4 1344.1 L202.2 1345.3 L203.0 1344.5 L203.8 1344.5 L204.6 1344.5 L205.4 1344.5 L206.2 1344.6 L207.0 1344.0 L207.8 1344.5 L208.6 1345.0 L209.4 1344.7 L210.2 1345.1 L211.0 1345.3 L211.8 1344.6 L212.6 1344.2 L213.4 1344.6 L214.2 1344.1 L215.0 1343.6 L215.8 1345.0 L216.6 1344.2 L217.4 1342.8 L218.2 1343.6 L219.0 1344.8 L219.8 1344.6 L220.6 1344.5 L221.4 1344.7 L222.2 1343.6 L223.0 1343.3 L223.8 1343.9 L224.6 1344.0 L225.4 1344.0 L226.2 1343.8 L227.0 1343.4 L227.8 1343.9 L228.6 1344.3 L229.4 1343.0 L230.2 1342.8 L230.9 1344.0 L231.7 1343.2 L232.5 1343.1 L233.3 1344.6 L234.1 1344.3 L234.9 1344.2 L235.7 1344.7 L236.5 1344.1 L237.3 1344.0 L238.1 1344.5 L238.9 1344.7 L239.7 1344.6 L240.5 1343.8 L241.3 1343.8 L242.1 1344.6 L242.9 1343.3 L243.7 1343.3 L244.5 1343.5 L245.3 1342.7 L246.1 1343.4 L246.9 1344.7 L247.7 1344.4 L248.5 1343.4 L249.3 1343.2 L250.1 1343.4 L250.9 1343.3 L251.7 1342.7 L252.5 1343.7 L253.3 1343.7 L254.1 1343.1 L254.9 1344.1 L255.7 1344.3 L256.5 1343.1 L257.3 1342.5 L258.1 1344.2 L258.9 1344.6 L259.7 1343.8 L260.5 1344.0 L261.3 1344.1 L262.1 1344.7 L262.9 1344.1 L263.7 1343.8 L264.5 1344.4 L265.3 1344.2 L266.1 1344.4 L266.9 1343.7 L267.7 1343.2 L268.5 1343.9 L269.3 1344.5 L270.1 1344.4 L270.9 1344.4 L271.7 1345.3 L272.5 1346.6 L273.3 1346.8 L274.1 1347.0 L274.9 1346.7 L275.7 1347.5 L276.5 1346.8 L277.3 1346.3 L278.1 1347.4 L278.9 1346.3 L279.7 1345.8 L280.5 1346.2 L281.3 1346.5 L282.1 1347.1 L282.9 1346.6 L283.7 1345.2 L284.5 1345.5 L285.3 1345.3 L286.1 1345.3 L286.9 1346.1 L287.7 1345.2 L288.5 1344.7 L289.3 1344.5 L290.1 1344.7 L290.9 1345.4 L291.7 1345.8 L292.5 1345.7 L293.3 1345.2 L294.1 1345.2 L294.9 1344.4 L295.7 1343.9 L296.5 1344.9 L297.3 1343.4 L298.1 1342.8 L298.9 1344.5 L299.7 1343.4 L300.5 1342.3 L301.3 1343.3 L302.1 1344.5 L302.9 1344.4 L303.7 1343.1 L304.5 1342.7 L305.3 1343.6 L306.1 1343.4 L306.9 1342.4 L307.7 1343.0 L308.5 1343.6 L309.3 1343.6 L310.1 1342.3 L310.9 1340.8 L311.7 1341.3 L312.5 1342.1 L313.3 1342.2 L314.1 1343.1 L314.9 1343.2 L315.7 1342.8 L316.5 1343.5 L317.3 1343.1 L318.1 1342.6 L318.9 1342.0 L319.7 1341.4 L320.5 1341.5 L321.3 1342.2 L322.1 1342.0 L322.9 1341.5 L323.7 1341.2 L324.5 1341.5 L325.3 1343.3 L326.1 1343.1 L326.9 1340.7 L327.7 1340.2 L328.5 1341.3 L329.3 1341.0 L330.1 1340.6 L330.9 1340.8 L331.7 1341.2 L332.5 1341.3 L333.3 1340.8 L334.1 1341.1 L334.9 1341.6 L335.7 1341.2 L336.5 1340.1 L337.3 1339.8 L338.1 1340.0 L338.9 1340.0 L339.7 1338.9 L340.5 1338.9 L341.3 1339.6 L342.1 1338.7 L342.9 1339.1 L343.7 1339.8 L344.5 1339.2 L345.3 1338.5 L346.1 1338.8 L346.9 1339.3 L347.7 1339.3 L348.5 1340.0 L349.3 1339.4 L350.1 1338.9 L350.9 1340.1 L351.7 1340.0 L352.5 1339.9 L353.3 1340.3 L354.1 1339.4 L354.9 1339.2 L355.7 1338.7 L356.5 1338.8 L357.3 1339.1 L358.1 1338.1 L358.9 1337.5 L359.7 1337.2 L360.5 1337.7 L361.3 1338.0 L362.1 1338.1 L362.9 1337.5 L363.7 1337.7 L364.5 1337.9 L365.3 1337.6 L366.1 1337.6 L366.9 1337.6 L367.7 1336.7 L368.5 1336.8 L369.3 1337.6 L370.1 1337.0 L370.9 1336.8 L371.7 1336.6 L372.5 1336.6 L373.3 1336.3 L374.1 1337.1 L374.9 1337.5 L375.7 1337.3 L376.5 1337.1 L377.3 1337.0 L378.1 1337.5 L378.9 1336.9 L379.7 1335.7 L380.5 1335.3 L381.3 1335.8 L382.1 1335.3 L382.9 1335.8 L383.7 1337.3 L384.5 1337.0 L385.3 1336.0 L386.1 1335.2 L386.9 1334.0 L387.7 1335.1 L388.5 1334.8 L389.3 1333.4 L390.1 1334.0 L390.8 1334.5 L391.6 1333.7 L392.4 1333.7 L393.2 1335.0 L394.0 1334.9 L394.8 1335.2 L395.6 1334.9 L396.4 1334.3 L397.2 1334.2 L398.0 1333.9 L398.8 1334.5 L399.6 1333.9 L400.4 1333.8 L401.2 1333.9 L402.0 1334.1 L402.8 1334.3 L403.6 1333.8 L404.4 1333.9 L405.2 1333.7 L406.0 1334.7 L406.8 1334.8 L407.6 1333.6 L408.4 1332.7 L409.2 1333.4 L410.0 1334.6 L410.8 1334.2 L411.6 1333.2 L412.4 1333.0 L413.2 1333.2 L414.0 1332.4 L414.8 1331.5 L415.6 1331.4 L416.4 1332.2 L417.2 1332.4 L418.0 1332.0 L418.8 1332.6 L419.6 1332.0 L420.4 1331.2 L421.2 1331.7 L422.0 1331.0 L422.8 1330.3 L423.6 1330.4 L424.4 1330.1 L425.2 1330.1 L426.0 1331.1 L426.8 1331.5 L427.6 1330.4 L428.4 1330.4 L429.2 1330.8 L430.0 1330.1 L430.8 1329.4 L431.6 1328.9 L432.4 1328.8 L433.2 1329.1 L434.0 1328.7 L434.8 1328.0 L435.6 1328.1 L436.4 1327.4 L437.2 1326.7 L438.0 1327.3 L438.8 1326.6 L439.6 1326.0 L440.4 1326.0 L441.2 1326.4 L442.0 1326.5 L442.8 1326.1 L443.6 1326.4 L444.4 1326.6 L445.2 1325.0 L446.0 1324.0 L446.8 1324.7 L447.6 1324.0 L448.4 1323.9 L449.2 1324.0 L450.0 1324.4 L450.8 1324.4 L451.6 1323.8 L452.4 1323.5 L453.2 1323.0 L454.0 1323.7 L454.8 1324.5 L455.6 1324.2 L456.4 1322.8 L457.2 1321.9 L458.0 1321.9 L458.8 1322.9 L459.6 1324.1 L460.4 1323.3 L461.2 1322.0 L462.0 1321.9 L462.8 1321.4 L463.6 1320.8 L464.4 1321.2 L465.2 1321.2 L466.0 1320.3 L466.8 1319.5 L467.6 1319.3 L468.4 1318.0 L469.2 1317.7 L470.0 1318.4 L470.8 1318.4 L471.6 1318.4 L472.4 1317.3 L473.2 1316.6 L474.0 1316.6 L474.8 1316.3 L475.6 1315.9 L476.4 1316.7 L477.2 1317.9 L478.0 1315.6 L478.8 1313.4 L479.6 1314.2 L480.4 1315.0 L481.2 1315.3 L482.0 1313.5 L482.8 1313.9 L483.6 1314.4 L484.4 1312.4 L485.2 1311.8 L486.0 1311.5 L486.8 1311.2 L487.6 1310.1 L488.4 1310.1 L489.2 1311.4 L490.0 1310.4 L490.8 1308.7 L491.6 1308.5 L492.4 1308.3 L493.2 1308.1 L494.0 1308.7 L494.8 1307.4 L495.6 1305.7 L496.4 1305.3 L497.2 1305.8 L498.0 1306.7 L498.8 1306.6 L499.6 1305.8 L500.4 1304.6 L501.2 1303.8 L502.0 1304.4 L502.8 1304.1 L503.6 1303.0 L504.4 1302.7 L505.2 1302.3 L506.0 1302.0 L506.8 1301.3 L507.6 1300.8 L508.4 1300.6 L509.2 1300.5 L510.0 1299.9 L510.8 1299.2 L511.6 1299.8 L512.4 1299.1 L513.2 1297.7 L514.0 1297.1 L514.8 1296.5 L515.6 1296.5 L516.4 1295.9 L517.2 1295.4 L518.0 1295.2 L518.8 1295.5 L519.6 1294.0 L520.4 1293.4 L521.2 1293.9 L522.0 1292.4 L522.8 1291.6 L523.6 1291.2 L524.4 1290.5 L525.2 1289.7 L526.0 1289.4 L526.8 1288.2 L527.6 1288.3 L528.4 1289.1 L529.2 1288.3 L530.0 1288.2 L530.8 1287.4 L531.6 1285.9 L532.4 1285.9 L533.2 1286.3 L534.0 1285.1 L534.8 1283.9 L535.6 1282.8 L536.4 1282.0 L537.2 1282.3 L538.0 1282.3 L538.8 1281.8 L539.6 1281.1 L540.4 1281.3 L541.2 1280.7 L542.0 1279.6 L542.8 1279.1 L543.6 1278.7 L544.4 1277.2 L545.2 1276.1 L546.0 1275.9 L546.8 1276.0 L547.6 1276.3 L548.4 1275.6 L549.2 1274.5 L550.0 1273.9 L550.8 1273.6 L551.5 1272.4 L552.3 1271.6 L553.1 1272.0 L553.9 1271.7 L554.7 1271.0 L555.5 1270.1 L556.3 1269.7 L557.1 1269.3 L557.9 1267.8 L558.7 1267.2 L559.5 1267.3 L560.3 1267.0 L561.1 1265.9 L561.9 1264.8 L562.7 1263.9 L563.5 1263.6 L564.3 1264.0 L565.1 1262.6 L565.9 1261.3 L566.7 1261.2 L567.5 1260.6 L568.3 1260.7 L569.1 1260.4 L569.9 1259.3 L570.7 1258.1 L571.5 1257.7 L572.3 1259.1 L573.1 1258.7 L573.9 1256.5 L574.7 1255.3 L575.5 1254.6 L576.3 1253.5 L577.1 1252.7 L577.9 1252.8 L578.7 1252.6 L579.5 1253.5 L580.3 1253.1 L581.1 1251.7 L581.9 1252.0 L582.7 1251.6 L583.5 1250.7 L584.3 1250.8 L585.1 1250.6 L585.9 1250.1 L586.7 1249.5 L587.5 1249.2 L588.3 1248.7 L589.1 1249.1 L589.9 1249.2 L590.7 1248.8 L591.5 1248.7 L592.3 1247.4 L593.1 1246.9 L593.9 1246.9 L594.7 1246.6 L595.5 1245.5 L596.3 1245.8 L597.1 1245.9 L597.9 1245.8 L598.7 1246.1 L599.5 1245.1 L600.3 1245.0 L601.1 1244.8 L601.9 1243.8 L602.7 1244.3 L603.5 1244.4 L604.3 1243.8 L605.1 1244.5 L605.9 1244.2 L606.7 1243.4 L607.5 1242.5 L608.3 1242.3 L609.1 1242.0 L609.9 1241.6 L610.7 1241.3 L611.5 1240.6 L612.3 1241.1 L613.1 1240.8 L613.9 1240.9 L614.7 1241.3 L615.5 1241.5 L616.3 1243.0 L617.1 1245.0 L617.9 1246.8 L618.7 1247.0 L619.5 1246.1 L620.3 1246.1 L621.1 1246.5 L621.9 1246.9 L622.7 1247.4 L623.5 1247.5 L624.3 1247.1 L625.1 1247.9 L625.9 1247.8 L626.7 1247.8 L627.5 1248.3 L628.3 1248.0 L629.1 1248.2 L629.9 1248.5 L630.7 1249.0" fill="none" stroke="#000" stroke-width="2.4" stroke-linejoin="round"/>
<path d="M151.0 1331.5 L151.8 1334.1 L152.6 1332.4 L153.4 1333.0 L154.2 1332.9 L155.0 1332.8 L155.8 1333.8 L156.6 1332.8 L157.4 1333.1 L158.2 1330.8 L159.0 1332.5 L159.8 1332.8 L160.6 1332.8 L161.4 1333.0 L162.2 1333.2 L163.0 1332.9 L163.8 1332.4 L164.6 1332.8 L165.4 1332.1 L166.2 1332.8 L167.0 1332.6 L167.8 1331.8 L168.6 1332.3 L169.4 1332.9 L170.2 1332.7 L171.0 1332.3 L171.8 1331.6 L172.6 1332.8 L173.4 1332.8 L174.2 1332.1 L175.0 1341.5 L175.8 1350.3 L176.6 1348.6 L177.4 1348.2 L178.2 1349.2 L179.0 1349.9 L179.8 1349.5 L180.6 1349.1 L181.4 1349.3 L182.2 1350.1 L183.0 1349.8 L183.8 1349.1 L184.6 1349.9 L185.4 1350.3 L186.2 1349.7 L187.0 1349.5 L187.8 1349.4 L188.6 1349.1 L189.4 1349.1 L190.2 1349.4 L191.0 1350.2 L191.8 1349.9 L192.6 1348.8 L193.4 1348.2 L194.2 1348.8 L195.0 1349.6 L195.8 1349.0 L196.6 1348.4 L197.4 1348.8 L198.2 1349.1 L199.0 1349.5 L199.8 1349.6 L200.6 1349.6 L201.4 1349.9 L202.2 1349.6 L203.0 1349.7 L203.8 1350.5 L204.6 1350.6 L205.4 1349.6 L206.2 1349.3 L207.0 1349.6 L207.8 1349.4 L208.6 1349.0 L209.4 1348.8 L210.2 1349.4 L211.0 1349.7 L211.8 1349.5 L212.6 1349.8 L213.4 1350.3 L214.2 1350.0 L215.0 1349.7 L215.8 1348.8 L216.6 1348.5 L217.4 1349.4 L218.2 1349.5 L219.0 1348.7 L219.8 1348.9 L220.6 1349.7 L221.4 1349.6 L222.2 1349.6 L223.0 1349.3 L223.8 1348.8 L224.6 1349.4 L225.4 1349.8 L226.2 1348.6 L227.0 1348.8 L227.8 1349.5 L228.6 1349.6 L229.4 1350.5 L230.2 1350.2 L230.9 1348.7 L231.7 1348.9 L232.5 1350.0 L233.3 1349.8 L234.1 1349.0 L234.9 1348.7 L235.7 1348.4 L236.5 1348.9 L237.3 1349.0 L238.1 1349.6 L238.9 1349.3 L239.7 1348.6 L240.5 1348.6 L241.3 1348.2 L242.1 1348.7 L242.9 1349.2 L243.7 1349.4 L244.5 1350.2 L245.3 1349.9 L246.1 1349.0 L246.9 1349.4 L247.7 1349.1 L248.5 1348.7 L249.3 1348.8 L250.1 1349.1 L250.9 1349.9 L251.7 1349.3 L252.5 1348.4 L253.3 1348.7 L254.1 1349.1 L254.9 1349.2 L255.7 1349.1 L256.5 1349.1 L257.3 1349.9 L258.1 1349.4 L258.9 1349.1 L259.7 1349.6 L260.5 1349.1 L261.3 1348.9 L262.1 1349.4 L262.9 1349.0 L263.7 1348.1 L264.5 1348.3 L265.3 1348.0 L266.1 1348.6 L266.9 1350.3 L267.7 1349.9 L268.5 1348.1 L269.3 1347.8 L270.1 1348.5 L270.9 1351.4 L271.7 1354.0 L272.5 1356.9 L273.3 1357.2 L274.1 1356.8 L274.9 1355.9 L275.7 1355.9 L276.5 1355.9 L277.3 1355.7 L278.1 1356.9 L278.9 1356.1 L279.7 1355.8 L280.5 1356.4 L281.3 1355.4 L282.1 1355.8 L282.9 1357.0 L283.7 1356.4 L284.5 1355.8 L285.3 1356.7 L286.1 1357.1 L286.9 1356.6 L287.7 1355.6 L288.5 1355.4 L289.3 1355.3 L290.1 1354.3 L290.9 1353.9 L291.7 1353.8 L292.5 1353.6 L293.3 1354.6 L294.1 1354.4 L294.9 1353.4 L295.7 1353.7 L296.5 1354.1 L297.3 1354.5 L298.1 1354.4 L298.9 1353.7 L299.7 1353.5 L300.5 1353.7 L301.3 1353.3 L302.1 1352.6 L302.9 1352.3 L303.7 1352.5 L304.5 1351.7 L305.3 1351.6 L306.1 1351.8 L306.9 1351.9 L307.7 1351.9 L308.5 1351.3 L309.3 1351.2 L310.1 1351.2 L310.9 1351.6 L311.7 1351.4 L312.5 1351.0 L313.3 1350.3 L314.1 1349.6 L314.9 1350.4 L315.7 1350.3 L316.5 1349.9 L317.3 1349.8 L318.1 1349.7 L318.9 1350.3 L319.7 1349.5 L320.5 1348.6 L321.3 1349.4 L322.1 1350.1 L322.9 1349.7 L323.7 1349.3 L324.5 1349.1 L325.3 1348.2 L326.1 1347.4 L326.9 1347.6 L327.7 1347.5 L328.5 1346.7 L329.3 1347.3 L330.1 1348.2 L330.9 1347.6 L331.7 1346.5 L332.5 1345.8 L333.3 1345.3 L334.1 1345.8 L334.9 1345.5 L335.7 1346.1 L336.5 1346.5 L337.3 1346.0 L338.1 1345.3 L338.9 1344.8 L339.7 1346.5 L340.5 1346.0 L341.3 1345.0 L342.1 1345.1 L342.9 1344.8 L343.7 1344.8 L344.5 1344.2 L345.3 1344.1 L346.1 1344.5 L346.9 1343.9 L347.7 1343.2 L348.5 1343.6 L349.3 1343.3 L350.1 1343.4 L350.9 1342.7 L351.7 1342.3 L352.5 1342.7 L353.3 1342.5 L354.1 1342.8 L354.9 1343.3 L355.7 1342.7 L356.5 1341.9 L357.3 1341.3 L358.1 1341.1 L358.9 1341.9 L359.7 1341.7 L360.5 1340.8 L361.3 1340.5 L362.1 1340.5 L362.9 1341.2 L363.7 1340.7 L364.5 1340.4 L365.3 1340.4 L366.1 1340.6 L366.9 1340.4 L367.7 1339.9 L368.5 1339.6 L369.3 1338.5 L370.1 1338.3 L370.9 1339.3 L371.7 1339.9 L372.5 1339.7 L373.3 1338.9 L374.1 1338.2 L374.9 1338.3 L375.7 1338.1 L376.5 1337.8 L377.3 1337.5 L378.1 1336.9 L378.9 1337.0 L379.7 1337.5 L380.5 1338.0 L381.3 1338.4 L382.1 1337.9 L382.9 1337.7 L383.7 1337.2 L384.5 1336.2 L385.3 1336.4 L386.1 1336.9 L386.9 1336.8 L387.7 1336.4 L388.5 1336.3 L389.3 1336.1 L390.1 1335.6 L390.8 1335.6 L391.6 1335.3 L392.4 1335.3 L393.2 1335.4 L394.0 1334.6 L394.8 1334.6 L395.6 1334.8 L396.4 1334.7 L397.2 1335.1 L398.0 1335.2 L398.8 1335.2 L399.6 1334.9 L400.4 1334.7 L401.2 1334.7 L402.0 1333.9 L402.8 1333.7 L403.6 1333.6 L404.4 1333.3 L405.2 1333.3 L406.0 1333.6 L406.8 1333.7 L407.6 1332.3 L408.4 1332.0 L409.2 1332.5 L410.0 1332.6 L410.8 1332.5 L411.6 1333.0 L412.4 1333.5 L413.2 1332.8 L414.0 1332.0 L414.8 1332.2 L415.6 1332.5 L416.4 1332.4 L417.2 1332.3 L418.0 1332.5 L418.8 1332.9 L419.6 1332.4 L420.4 1332.5 L421.2 1332.7 L422.0 1332.2 L422.8 1332.2 L423.6 1331.8 L424.4 1331.5 L425.2 1331.5 L426.0 1331.6 L426.8 1331.8 L427.6 1331.1 L428.4 1330.6 L429.2 1330.9 L430.0 1330.9 L430.8 1330.5 L431.6 1330.5 L432.4 1329.8 L433.2 1329.8 L434.0 1330.0 L434.8 1329.5 L435.6 1329.5 L436.4 1329.9 L437.2 1329.3 L438.0 1328.5 L438.8 1328.5 L439.6 1328.4 L440.4 1328.2 L441.2 1328.4 L442.0 1328.2 L442.8 1328.4 L443.6 1328.3 L444.4 1328.1 L445.2 1328.0 L446.0 1327.0 L446.8 1326.8 L447.6 1327.1 L448.4 1326.7 L449.2 1326.4 L450.0 1326.6 L450.8 1326.5 L451.6 1325.6 L452.4 1325.0 L453.2 1325.3 L454.0 1325.8 L454.8 1325.6 L455.6 1325.5 L456.4 1325.4 L457.2 1325.2 L458.0 1324.4 L458.8 1324.5 L459.6 1324.6 L460.4 1323.5 L461.2 1324.5 L462.0 1324.7 L462.8 1323.3 L463.6 1322.6 L464.4 1323.6 L465.2 1324.0 L466.0 1323.7 L466.8 1323.7 L467.6 1323.2 L468.4 1321.9 L469.2 1321.4 L470.0 1322.0 L470.8 1322.0 L471.6 1321.5 L472.4 1320.9 L473.2 1321.3 L474.0 1320.8 L474.8 1320.7 L475.6 1321.1 L476.4 1320.3 L477.2 1319.4 L478.0 1319.5 L478.8 1319.8 L479.6 1319.0 L480.4 1318.7 L481.2 1318.5 L482.0 1318.2 L482.8 1318.3 L483.6 1318.3 L484.4 1317.8 L485.2 1317.9 L486.0 1317.4 L486.8 1318.0 L487.6 1318.8 L488.4 1317.3 L489.2 1316.6 L490.0 1317.2 L490.8 1317.1 L491.6 1316.2 L492.4 1316.4 L493.2 1316.3 L494.0 1316.0 L494.8 1316.2 L495.6 1316.0 L496.4 1315.3 L497.2 1315.5 L498.0 1315.9 L498.8 1315.1 L499.6 1315.2 L500.4 1315.9 L501.2 1315.0 L502.0 1314.3 L502.8 1314.4 L503.6 1314.1 L504.4 1314.3 L505.2 1313.0 L506.0 1312.8 L506.8 1314.0 L507.6 1314.0 L508.4 1313.8 L509.2 1312.5 L510.0 1312.1 L510.8 1312.3 L511.6 1312.3 L512.4 1311.7 L513.2 1311.2 L514.0 1312.2 L514.8 1311.8 L515.6 1311.3 L516.4 1311.2 L517.2 1310.8 L518.0 1310.7 L518.8 1310.5 L519.6 1310.7 L520.4 1311.1 L521.2 1310.1 L522.0 1309.3 L522.8 1309.3 L523.6 1309.2 L524.4 1309.9 L525.2 1309.9 L526.0 1308.3 L526.8 1307.9 L527.6 1308.3 L528.4 1308.4 L529.2 1308.2 L530.0 1307.5 L530.8 1307.1 L531.6 1306.8 L532.4 1306.7 L533.2 1306.6 L534.0 1306.1 L534.8 1305.5 L535.6 1305.3 L536.4 1304.5 L537.2 1304.1 L538.0 1304.5 L538.8 1304.6 L539.6 1304.0 L540.4 1303.9 L541.2 1304.7 L542.0 1304.4 L542.8 1303.3 L543.6 1303.1 L544.4 1302.6 L545.2 1301.9 L546.0 1302.7 L546.8 1302.6 L547.6 1301.0 L548.4 1301.0 L549.2 1302.0 L550.0 1301.2 L550.8 1299.9 L551.5 1299.5 L552.3 1299.9 L553.1 1300.0 L553.9 1299.5 L554.7 1298.8 L555.5 1297.9 L556.3 1298.2 L557.1 1298.3 L557.9 1298.1 L558.7 1298.2 L559.5 1298.2 L560.3 1298.5 L561.1 1297.7 L561.9 1297.6 L562.7 1297.1 L563.5 1296.8 L564.3 1296.9 L565.1 1296.5 L565.9 1296.4 L566.7 1296.1 L567.5 1295.3 L568.3 1293.9 L569.1 1294.6 L569.9 1295.4 L570.7 1294.8 L571.5 1295.0 L572.3 1294.6 L573.1 1294.4 L573.9 1294.3 L574.7 1293.3 L575.5 1293.8 L576.3 1293.9 L577.1 1292.8 L577.9 1293.0 L578.7 1292.7 L579.5 1292.0 L580.3 1292.1 L581.1 1291.6 L581.9 1291.7 L582.7 1291.7 L583.5 1291.0 L584.3 1291.5 L585.1 1291.2 L585.9 1290.7 L586.7 1290.0 L587.5 1290.2 L588.3 1290.3 L589.1 1289.6 L589.9 1288.7 L590.7 1288.6 L591.5 1288.6 L592.3 1288.5 L593.1 1288.5 L593.9 1287.6 L594.7 1287.3 L595.5 1287.3 L596.3 1287.9 L597.1 1287.9 L597.9 1286.4 L598.7 1285.4 L599.5 1286.0 L600.3 1285.5 L601.1 1285.1 L601.9 1285.5 L602.7 1285.4 L603.5 1284.4 L604.3 1282.9 L605.1 1283.4 L605.9 1283.8 L606.7 1282.7 L607.5 1281.8 L608.3 1282.8 L609.1 1283.2 L609.9 1281.7 L610.7 1282.0 L611.5 1281.7 L612.3 1280.7 L613.1 1280.3 L613.9 1280.2 L614.7 1280.0 L615.5 1279.7 L616.3 1279.3 L617.1 1278.6 L617.9 1278.7 L618.7 1278.9 L619.5 1277.8 L620.3 1276.5 L621.1 1276.4 L621.9 1276.8 L622.7 1276.9 L623.5 1275.7 L624.3 1274.9 L625.1 1275.5 L625.9 1275.5 L626.7 1274.7 L627.5 1274.5 L628.3 1274.6 L629.1 1273.7 L629.9 1272.7 L630.7 1272.9" fill="none" stroke="#d3d3d3" stroke-width="2.4" stroke-linejoin="round"/>
<text x="738.5" y="1227.9" font-size="27.3" textLength="142.8" lengthAdjust="spacingAndGlyphs" fill="#1d1d1b" >Treatments</text>
<text x="738.5" y="1273.5" font-size="27.3" textLength="189.9" lengthAdjust="spacingAndGlyphs" fill="#1d1d1b" >50% hypotonic</text>
<text x="738.5" y="1319.0" font-size="27.3" textLength="99.8" lengthAdjust="spacingAndGlyphs" fill="#1d1d1b" >Isotonic</text>
<text x="738.5" y="1365.0" font-size="27.3" textLength="259.1" lengthAdjust="spacingAndGlyphs" fill="#1d1d1b" >Hypo. + DCPIB block</text>
<line x1="696.3" y1="1260.7" x2="722.4" y2="1260.7" stroke="#808080" stroke-width="1.1"/>
<line x1="696.3" y1="1307.1" x2="722.4" y2="1307.1" stroke="#000" stroke-width="1.1"/>
<line x1="696.3" y1="1353.1" x2="722.4" y2="1353.1" stroke="#d3d3d3" stroke-width="1.1"/>
</g>
</svg>
</body></html>
